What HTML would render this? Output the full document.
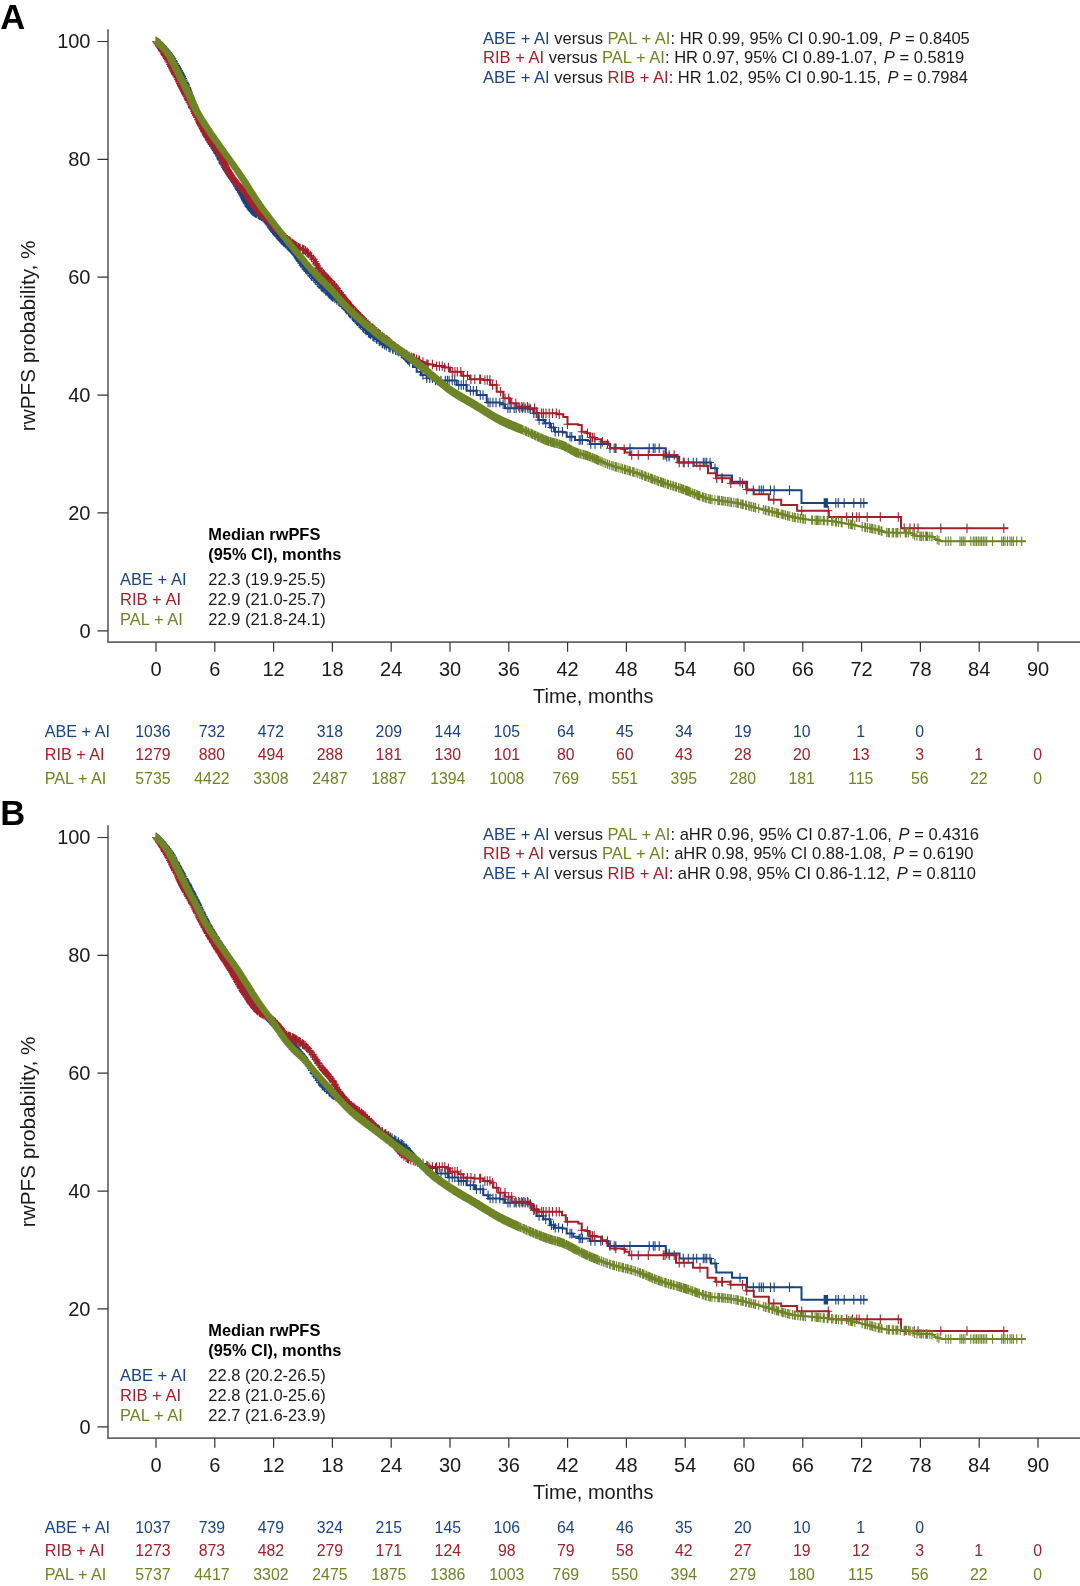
<!DOCTYPE html>
<html><head><meta charset="utf-8"><title>rwPFS Kaplan-Meier</title>
<style>html,body{margin:0;padding:0;background:#fff}svg{display:block;will-change:transform}text{font-family:"Liberation Sans",Arial,sans-serif}</style>
</head><body>
<svg width="1080" height="1586" viewBox="0 0 1080 1586">
<rect width="1080" height="1586" fill="#fff"/>
<g>
<path d="M108,29.2V642.17H1080" fill="none" stroke="#666" stroke-width="1.7"/>
<path d="M97.5,630.8H108M97.5,512.9H108M97.5,395.1H108M97.5,277.2H108M97.5,159.4H108M97.5,41.5H108M156.0,642V651.7M214.8,642V651.7M273.6,642V651.7M332.4,642V651.7M391.2,642V651.7M450.0,642V651.7M508.8,642V651.7M567.6,642V651.7M626.4,642V651.7M685.2,642V651.7M744.0,642V651.7M802.8,642V651.7M861.6,642V651.7M920.4,642V651.7M979.2,642V651.7M1038.0,642V651.7" fill="none" stroke="#333" stroke-width="1.2"/>
<text x="90.5" y="637.7" font-size="20" fill="#1a1a1a" text-anchor="end">0</text>
<text x="90.5" y="519.8" font-size="20" fill="#1a1a1a" text-anchor="end">20</text>
<text x="90.5" y="402.0" font-size="20" fill="#1a1a1a" text-anchor="end">40</text>
<text x="90.5" y="284.1" font-size="20" fill="#1a1a1a" text-anchor="end">60</text>
<text x="90.5" y="166.3" font-size="20" fill="#1a1a1a" text-anchor="end">80</text>
<text x="90.5" y="48.4" font-size="20" fill="#1a1a1a" text-anchor="end">100</text>
<text x="156.0" y="675.6" font-size="20" fill="#1a1a1a" text-anchor="middle">0</text>
<text x="214.8" y="675.6" font-size="20" fill="#1a1a1a" text-anchor="middle">6</text>
<text x="273.6" y="675.6" font-size="20" fill="#1a1a1a" text-anchor="middle">12</text>
<text x="332.4" y="675.6" font-size="20" fill="#1a1a1a" text-anchor="middle">18</text>
<text x="391.2" y="675.6" font-size="20" fill="#1a1a1a" text-anchor="middle">24</text>
<text x="450.0" y="675.6" font-size="20" fill="#1a1a1a" text-anchor="middle">30</text>
<text x="508.8" y="675.6" font-size="20" fill="#1a1a1a" text-anchor="middle">36</text>
<text x="567.6" y="675.6" font-size="20" fill="#1a1a1a" text-anchor="middle">42</text>
<text x="626.4" y="675.6" font-size="20" fill="#1a1a1a" text-anchor="middle">48</text>
<text x="685.2" y="675.6" font-size="20" fill="#1a1a1a" text-anchor="middle">54</text>
<text x="744.0" y="675.6" font-size="20" fill="#1a1a1a" text-anchor="middle">60</text>
<text x="802.8" y="675.6" font-size="20" fill="#1a1a1a" text-anchor="middle">66</text>
<text x="861.6" y="675.6" font-size="20" fill="#1a1a1a" text-anchor="middle">72</text>
<text x="920.4" y="675.6" font-size="20" fill="#1a1a1a" text-anchor="middle">78</text>
<text x="979.2" y="675.6" font-size="20" fill="#1a1a1a" text-anchor="middle">84</text>
<text x="1038.0" y="675.6" font-size="20" fill="#1a1a1a" text-anchor="middle">90</text>
<text x="593.3" y="703.3" font-size="20" fill="#1a1a1a" text-anchor="middle">Time, months</text>
<text transform="translate(35.3,335.9) rotate(-90)" font-size="20.7" fill="#1a1a1a" text-anchor="middle">rwPFS probability, %</text>
<text x="0.2" y="29.4" font-size="34.6" fill="#000" font-weight="bold">A</text>
<path d="M156.0,41.3L159.0,43.4L162.0,46.1L165.0,49.2L168.0,52.7L170.9,56.8L173.9,61.7L176.9,67.0L179.9,72.5L182.9,78.4L185.9,85.1L188.9,93.0L191.9,100.9L194.8,108.1L197.8,115.2L200.8,122.4L203.8,129.0L206.8,135.0L209.8,140.7L212.8,145.8L215.8,150.3L218.8,154.9L221.7,161.3L224.7,166.9L227.7,171.6L230.7,176.0L233.7,180.7L236.7,185.4L239.7,190.2L242.7,195.1L245.6,200.7L248.6,206.4L251.6,210.2L254.6,212.4L257.6,214.1L260.6,215.6L263.6,217.6L266.6,220.6L269.6,225.1L272.5,229.6L275.5,233.2L278.5,236.5L281.5,239.7L284.5,242.7L287.5,245.5L290.5,248.5L293.5,251.7L296.4,255.3L299.4,259.9L302.4,264.9L305.4,268.7L308.4,272.2L311.4,275.6L314.4,279.2L317.4,282.5L320.4,285.6L323.3,288.5L326.3,291.2L329.3,293.9L332.3,296.4L335.3,298.8L338.3,301.1L341.3,303.6L344.3,306.6L347.2,310.0L350.2,313.5L353.2,317.0L356.2,320.3L359.2,323.5L362.2,326.7L365.2,329.6L368.2,332.3L371.2,334.8L374.1,337.2L377.1,339.6L380.1,341.7L383.1,343.8L386.1,345.6L389.1,347.3L392.1,348.6L395.1,349.9L398.0,351.4L401.0,353.2L404.0,355.6L407.0,358.6L410.0,362.5H413.0V367.0H416.7V371.7H421.0V375.0H426.7V378.3H433.0V380.5H446.7H456.7V385.0H466.7V390.8H476.7V395.0H486.7V402.5H500.0V404.2H505.0V408.3H530.0V409.2H533.3V413.3H538.3V420.0H545.0V423.3H550.0V427.5H555.0V431.7H563.0V432.5H566.7V436.7H575.0V440.0H588.0V440.8H590.0V444.0H606.7H610.0V448.3H665.8V456.7H679.2V462.5H711.0V468.3H717.0V475.5H732.0V481.7H747.0V490.3H801.5V503.0H867.5" fill="none" stroke="#1B4380" stroke-width="2.0" stroke-linejoin="miter"/>
<path d="M156.4,36.9v9.4m-4.0,-4.7h8.0M157.6,37.7v9.4m-4.0,-4.7h8.0M158.7,38.5v9.4m-4.0,-4.7h8.0M159.1,38.8v9.4m-4.0,-4.7h8.0M159.3,38.9v9.4m-4.0,-4.7h8.0M159.9,39.5v9.4m-4.0,-4.7h8.0M160.4,40.0v9.4m-4.0,-4.7h8.0M161.7,41.1v9.4m-4.0,-4.7h8.0M162.7,42.1v9.4m-4.0,-4.7h8.0M163.6,43.0v9.4m-4.0,-4.7h8.0M164.4,43.9v9.4m-4.0,-4.7h8.0M165.3,44.9v9.4m-4.0,-4.7h8.0M165.6,45.3v9.4m-4.0,-4.7h8.0M166.3,46.0v9.4m-4.0,-4.7h8.0M166.6,46.4v9.4m-4.0,-4.7h8.0M167.8,47.8v9.4m-4.0,-4.7h8.0M168.0,48.0v9.4m-4.0,-4.7h8.0M169.0,49.4v9.4m-4.0,-4.7h8.0M169.2,49.7v9.4m-4.0,-4.7h8.0M170.0,50.8v9.4m-4.0,-4.7h8.0M170.5,51.5v9.4m-4.0,-4.7h8.0M171.0,52.3v9.4m-4.0,-4.7h8.0M171.9,53.7v9.4m-4.0,-4.7h8.0M172.0,53.9v9.4m-4.0,-4.7h8.0M172.2,54.2v9.4m-4.0,-4.7h8.0M173.2,55.8v9.4m-4.0,-4.7h8.0M173.7,56.7v9.4m-4.0,-4.7h8.0M173.9,57.0v9.4m-4.0,-4.7h8.0M174.9,58.8v9.4m-4.0,-4.7h8.0M175.8,60.4v9.4m-4.0,-4.7h8.0M176.0,60.8v9.4m-4.0,-4.7h8.0M176.5,61.6v9.4m-4.0,-4.7h8.0M176.7,62.0v9.4m-4.0,-4.7h8.0M177.1,62.7v9.4m-4.0,-4.7h8.0M177.7,63.8v9.4m-4.0,-4.7h8.0M178.0,64.3v9.4m-4.0,-4.7h8.0M178.7,65.5v9.4m-4.0,-4.7h8.0M178.8,65.8v9.4m-4.0,-4.7h8.0M179.1,66.3v9.4m-4.0,-4.7h8.0M179.9,67.7v9.4m-4.0,-4.7h8.0M180.3,68.5v9.4m-4.0,-4.7h8.0M180.7,69.4v9.4m-4.0,-4.7h8.0M181.3,70.5v9.4m-4.0,-4.7h8.0M181.8,71.5v9.4m-4.0,-4.7h8.0M182.2,72.3v9.4m-4.0,-4.7h8.0M182.3,72.5v9.4m-4.0,-4.7h8.0M183.0,73.9v9.4m-4.0,-4.7h8.0M183.7,75.6v9.4m-4.0,-4.7h8.0M184.5,77.4v9.4m-4.0,-4.7h8.0M185.1,78.7v9.4m-4.0,-4.7h8.0M185.4,79.4v9.4m-4.0,-4.7h8.0M185.8,80.2v9.4m-4.0,-4.7h8.0M186.3,81.5v9.4m-4.0,-4.7h8.0M186.8,82.9v9.4m-4.0,-4.7h8.0M187.0,83.3v9.4m-4.0,-4.7h8.0M187.2,83.8v9.4m-4.0,-4.7h8.0M187.5,84.7v9.4m-4.0,-4.7h8.0M187.9,85.7v9.4m-4.0,-4.7h8.0M188.5,87.2v9.4m-4.0,-4.7h8.0M188.9,88.3v9.4m-4.0,-4.7h8.0M188.9,88.5v9.4m-4.0,-4.7h8.0M189.5,90.1v9.4m-4.0,-4.7h8.0M189.9,91.0v9.4m-4.0,-4.7h8.0M190.3,92.1v9.4m-4.0,-4.7h8.0M190.5,92.6v9.4m-4.0,-4.7h8.0M190.8,93.5v9.4m-4.0,-4.7h8.0M191.2,94.4v9.4m-4.0,-4.7h8.0M191.7,95.9v9.4m-4.0,-4.7h8.0M191.9,96.2v9.4m-4.0,-4.7h8.0M192.3,97.3v9.4m-4.0,-4.7h8.0M192.5,97.8v9.4m-4.0,-4.7h8.0M193.1,99.2v9.4m-4.0,-4.7h8.0M193.2,99.4v9.4m-4.0,-4.7h8.0M193.5,100.1v9.4m-4.0,-4.7h8.0M193.8,100.8v9.4m-4.0,-4.7h8.0M194.3,102.1v9.4m-4.0,-4.7h8.0M194.4,102.4v9.4m-4.0,-4.7h8.0M194.8,103.3v9.4m-4.0,-4.7h8.0M195.0,103.8v9.4m-4.0,-4.7h8.0M195.3,104.5v9.4m-4.0,-4.7h8.0M195.7,105.5v9.4m-4.0,-4.7h8.0M196.5,107.2v9.4m-4.0,-4.7h8.0M196.9,108.2v9.4m-4.0,-4.7h8.0M197.6,110.0v9.4m-4.0,-4.7h8.0M197.8,110.5v9.4m-4.0,-4.7h8.0M198.5,112.2v9.4m-4.0,-4.7h8.0M198.9,113.0v9.4m-4.0,-4.7h8.0M199.1,113.5v9.4m-4.0,-4.7h8.0M199.7,114.9v9.4m-4.0,-4.7h8.0M200.4,116.6v9.4m-4.0,-4.7h8.0M200.5,116.8v9.4m-4.0,-4.7h8.0M200.7,117.4v9.4m-4.0,-4.7h8.0M201.4,118.9v9.4m-4.0,-4.7h8.0M201.7,119.6v9.4m-4.0,-4.7h8.0M202.0,120.2v9.4m-4.0,-4.7h8.0M202.1,120.4v9.4m-4.0,-4.7h8.0M202.2,120.7v9.4m-4.0,-4.7h8.0M202.7,121.9v9.4m-4.0,-4.7h8.0M203.5,123.7v9.4m-4.0,-4.7h8.0M204.4,125.4v9.4m-4.0,-4.7h8.0M204.9,126.4v9.4m-4.0,-4.7h8.0M205.0,126.7v9.4m-4.0,-4.7h8.0M205.3,127.4v9.4m-4.0,-4.7h8.0M206.0,128.8v9.4m-4.0,-4.7h8.0M206.8,130.3v9.4m-4.0,-4.7h8.0M207.4,131.5v9.4m-4.0,-4.7h8.0M207.7,132.1v9.4m-4.0,-4.7h8.0M208.3,133.1v9.4m-4.0,-4.7h8.0M208.7,134.0v9.4m-4.0,-4.7h8.0M209.4,135.2v9.4m-4.0,-4.7h8.0M209.7,135.8v9.4m-4.0,-4.7h8.0M210.6,137.4v9.4m-4.0,-4.7h8.0M211.5,139.0v9.4m-4.0,-4.7h8.0M211.8,139.4v9.4m-4.0,-4.7h8.0M212.1,140.0v9.4m-4.0,-4.7h8.0M213.1,141.5v9.4m-4.0,-4.7h8.0M213.5,142.1v9.4m-4.0,-4.7h8.0M214.5,143.7v9.4m-4.0,-4.7h8.0M215.1,144.6v9.4m-4.0,-4.7h8.0M215.9,145.8v9.4m-4.0,-4.7h8.0M216.7,147.0v9.4m-4.0,-4.7h8.0M217.1,147.5v9.4m-4.0,-4.7h8.0M217.4,148.2v9.4m-4.0,-4.7h8.0M217.8,148.7v9.4m-4.0,-4.7h8.0M218.6,149.9v9.4m-4.0,-4.7h8.0M219.2,151.2v9.4m-4.0,-4.7h8.0M219.4,151.6v9.4m-4.0,-4.7h8.0M220.2,153.2v9.4m-4.0,-4.7h8.0M220.6,154.1v9.4m-4.0,-4.7h8.0M220.9,154.7v9.4m-4.0,-4.7h8.0M221.3,155.6v9.4m-4.0,-4.7h8.0M222.1,157.3v9.4m-4.0,-4.7h8.0M222.7,158.4v9.4m-4.0,-4.7h8.0M223.3,159.5v9.4m-4.0,-4.7h8.0M224.2,161.2v9.4m-4.0,-4.7h8.0M225.1,162.8v9.4m-4.0,-4.7h8.0M226.0,164.1v9.4m-4.0,-4.7h8.0M226.5,164.9v9.4m-4.0,-4.7h8.0M227.2,166.0v9.4m-4.0,-4.7h8.0M228.1,167.5v9.4m-4.0,-4.7h8.0M229.0,168.8v9.4m-4.0,-4.7h8.0M229.7,169.9v9.4m-4.0,-4.7h8.0M230.2,170.6v9.4m-4.0,-4.7h8.0M230.7,171.3v9.4m-4.0,-4.7h8.0M231.5,172.6v9.4m-4.0,-4.7h8.0M232.2,173.6v9.4m-4.0,-4.7h8.0M232.3,173.8v9.4m-4.0,-4.7h8.0M233.1,175.0v9.4m-4.0,-4.7h8.0M234.1,176.5v9.4m-4.0,-4.7h8.0M234.9,177.9v9.4m-4.0,-4.7h8.0M235.9,179.4v9.4m-4.0,-4.7h8.0M236.9,181.0v9.4m-4.0,-4.7h8.0M237.5,182.0v9.4m-4.0,-4.7h8.0M238.3,183.3v9.4m-4.0,-4.7h8.0M238.8,184.1v9.4m-4.0,-4.7h8.0M239.0,184.4v9.4m-4.0,-4.7h8.0M239.5,185.1v9.4m-4.0,-4.7h8.0M239.9,185.8v9.4m-4.0,-4.7h8.0M240.8,187.4v9.4m-4.0,-4.7h8.0M241.6,188.6v9.4m-4.0,-4.7h8.0M242.2,189.6v9.4m-4.0,-4.7h8.0M242.9,190.7v9.4m-4.0,-4.7h8.0M243.1,191.1v9.4m-4.0,-4.7h8.0M243.6,192.2v9.4m-4.0,-4.7h8.0M244.3,193.4v9.4m-4.0,-4.7h8.0M244.7,194.2v9.4m-4.0,-4.7h8.0M245.0,194.8v9.4m-4.0,-4.7h8.0M245.4,195.7v9.4m-4.0,-4.7h8.0M245.8,196.4v9.4m-4.0,-4.7h8.0M246.5,197.6v9.4m-4.0,-4.7h8.0M246.7,198.0v9.4m-4.0,-4.7h8.0M246.9,198.4v9.4m-4.0,-4.7h8.0M247.2,199.0v9.4m-4.0,-4.7h8.0M247.9,200.3v9.4m-4.0,-4.7h8.0M248.6,201.7v9.4m-4.0,-4.7h8.0M249.5,202.8v9.4m-4.0,-4.7h8.0M250.6,204.2v9.4m-4.0,-4.7h8.0M251.2,204.9v9.4m-4.0,-4.7h8.0M251.3,205.1v9.4m-4.0,-4.7h8.0M252.1,205.9v9.4m-4.0,-4.7h8.0M252.9,206.5v9.4m-4.0,-4.7h8.0M253.4,206.8v9.4m-4.0,-4.7h8.0M254.5,207.6v9.4m-4.0,-4.7h8.0M255.2,208.0v9.4m-4.0,-4.7h8.0M255.7,208.4v9.4m-4.0,-4.7h8.0M256.4,208.7v9.4m-4.0,-4.7h8.0M258.1,209.6v9.4m-4.0,-4.7h8.0M258.3,209.7v9.4m-4.0,-4.7h8.0M259.1,210.1v9.4m-4.0,-4.7h8.0M259.7,210.5v9.4m-4.0,-4.7h8.0M260.2,210.7v9.4m-4.0,-4.7h8.0M261.0,211.2v9.4m-4.0,-4.7h8.0M261.6,211.6v9.4m-4.0,-4.7h8.0M263.1,212.6v9.4m-4.0,-4.7h8.0M263.9,213.2v9.4m-4.0,-4.7h8.0M265.0,214.3v9.4m-4.0,-4.7h8.0M265.3,214.6v9.4m-4.0,-4.7h8.0M266.0,215.4v9.4m-4.0,-4.7h8.0M266.9,216.4v9.4m-4.0,-4.7h8.0M267.8,217.8v9.4m-4.0,-4.7h8.0M268.2,218.3v9.4m-4.0,-4.7h8.0M268.7,219.2v9.4m-4.0,-4.7h8.0M269.7,220.6v9.4m-4.0,-4.7h8.0M270.6,222.0v9.4m-4.0,-4.7h8.0M271.0,222.5v9.4m-4.0,-4.7h8.0M271.6,223.5v9.4m-4.0,-4.7h8.0M272.5,224.8v9.4m-4.0,-4.7h8.0M273.1,225.5v9.4m-4.0,-4.7h8.0M274.0,226.6v9.4m-4.0,-4.7h8.0M274.8,227.7v9.4m-4.0,-4.7h8.0M276.1,229.1v9.4m-4.0,-4.7h8.0M276.9,230.0v9.4m-4.0,-4.7h8.0M277.9,231.1v9.4m-4.0,-4.7h8.0M278.4,231.7v9.4m-4.0,-4.7h8.0M279.4,232.8v9.4m-4.0,-4.7h8.0M280.0,233.4v9.4m-4.0,-4.7h8.0M280.7,234.2v9.4m-4.0,-4.7h8.0M281.3,234.8v9.4m-4.0,-4.7h8.0M281.9,235.3v9.4m-4.0,-4.7h8.0M282.2,235.7v9.4m-4.0,-4.7h8.0M282.6,236.1v9.4m-4.0,-4.7h8.0M283.5,236.9v9.4m-4.0,-4.7h8.0M283.9,237.4v9.4m-4.0,-4.7h8.0M284.1,237.6v9.4m-4.0,-4.7h8.0M285.3,238.7v9.4m-4.0,-4.7h8.0M285.8,239.2v9.4m-4.0,-4.7h8.0M287.2,240.5v9.4m-4.0,-4.7h8.0M288.1,241.4v9.4m-4.0,-4.7h8.0M288.7,242.1v9.4m-4.0,-4.7h8.0M290.0,243.3v9.4m-4.0,-4.7h8.0M291.2,244.6v9.4m-4.0,-4.7h8.0M291.8,245.2v9.4m-4.0,-4.7h8.0M292.1,245.5v9.4m-4.0,-4.7h8.0M293.0,246.5v9.4m-4.0,-4.7h8.0M294.1,247.8v9.4m-4.0,-4.7h8.0M294.9,248.8v9.4m-4.0,-4.7h8.0M296.0,250.0v9.4m-4.0,-4.7h8.0M296.5,250.7v9.4m-4.0,-4.7h8.0M297.3,251.8v9.4m-4.0,-4.7h8.0M297.6,252.4v9.4m-4.0,-4.7h8.0M298.1,253.2v9.4m-4.0,-4.7h8.0M298.6,253.9v9.4m-4.0,-4.7h8.0M299.1,254.7v9.4m-4.0,-4.7h8.0M299.6,255.5v9.4m-4.0,-4.7h8.0M300.3,256.7v9.4m-4.0,-4.7h8.0M301.4,258.4v9.4m-4.0,-4.7h8.0M302.7,260.5v9.4m-4.0,-4.7h8.0M303.8,261.9v9.4m-4.0,-4.7h8.0M304.3,262.6v9.4m-4.0,-4.7h8.0M305.5,264.1v9.4m-4.0,-4.7h8.0M306.4,265.1v9.4m-4.0,-4.7h8.0M307.9,266.8v9.4m-4.0,-4.7h8.0M309.4,268.6v9.4m-4.0,-4.7h8.0M311.2,270.8v9.4m-4.0,-4.7h8.0M311.6,271.2v9.4m-4.0,-4.7h8.0M311.9,271.6v9.4m-4.0,-4.7h8.0M313.8,273.7v9.4m-4.0,-4.7h8.0M315.3,275.5v9.4m-4.0,-4.7h8.0M317.3,277.8v9.4m-4.0,-4.7h8.0M319.1,279.6v9.4m-4.0,-4.7h8.0M321.2,281.7v9.4m-4.0,-4.7h8.0M321.7,282.2v9.4m-4.0,-4.7h8.0M322.3,282.8v9.4m-4.0,-4.7h8.0M323.8,284.2v9.4m-4.0,-4.7h8.0M325.6,285.8v9.4m-4.0,-4.7h8.0M326.0,286.3v9.4m-4.0,-4.7h8.0M328.2,288.2v9.4m-4.0,-4.7h8.0M328.9,288.8v9.4m-4.0,-4.7h8.0M329.6,289.4v9.4m-4.0,-4.7h8.0M330.8,290.4v9.4m-4.0,-4.7h8.0M331.4,291.0v9.4m-4.0,-4.7h8.0M331.9,291.3v9.4m-4.0,-4.7h8.0M332.3,291.7v9.4m-4.0,-4.7h8.0M332.6,292.0v9.4m-4.0,-4.7h8.0M333.2,292.4v9.4m-4.0,-4.7h8.0M334.9,293.8v9.4m-4.0,-4.7h8.0M336.8,295.3v9.4m-4.0,-4.7h8.0M338.8,296.8v9.4m-4.0,-4.7h8.0M339.9,297.8v9.4m-4.0,-4.7h8.0M341.7,299.3v9.4m-4.0,-4.7h8.0M342.2,299.8v9.4m-4.0,-4.7h8.0M344.1,301.7v9.4m-4.0,-4.7h8.0M345.1,302.8v9.4m-4.0,-4.7h8.0M345.5,303.3v9.4m-4.0,-4.7h8.0M346.4,304.3v9.4m-4.0,-4.7h8.0M347.0,305.0v9.4m-4.0,-4.7h8.0M348.5,306.8v9.4m-4.0,-4.7h8.0M349.4,307.8v9.4m-4.0,-4.7h8.0M349.6,308.1v9.4m-4.0,-4.7h8.0M350.2,308.8v9.4m-4.0,-4.7h8.0M350.5,309.2v9.4m-4.0,-4.7h8.0M352.4,311.4v9.4m-4.0,-4.7h8.0M353.4,312.5v9.4m-4.0,-4.7h8.0M355.1,314.3v9.4m-4.0,-4.7h8.0M356.4,315.8v9.4m-4.0,-4.7h8.0M357.4,316.9v9.4m-4.0,-4.7h8.0M359.0,318.6v9.4m-4.0,-4.7h8.0M360.2,319.9v9.4m-4.0,-4.7h8.0M360.5,320.2v9.4m-4.0,-4.7h8.0M362.7,322.4v9.4m-4.0,-4.7h8.0M363.6,323.3v9.4m-4.0,-4.7h8.0M365.1,324.8v9.4m-4.0,-4.7h8.0M366.2,325.8v9.4m-4.0,-4.7h8.0M368.4,327.8v9.4m-4.0,-4.7h8.0M369.0,328.3v9.4m-4.0,-4.7h8.0M369.4,328.6v9.4m-4.0,-4.7h8.0M369.7,328.9v9.4m-4.0,-4.7h8.0M370.8,329.8v9.4m-4.0,-4.7h8.0M372.9,331.5v9.4m-4.0,-4.7h8.0M374.1,332.5v9.4m-4.0,-4.7h8.0M376.3,334.2v9.4m-4.0,-4.7h8.0M376.9,334.7v9.4m-4.0,-4.7h8.0M379.3,336.4v9.4m-4.0,-4.7h8.0M379.9,336.9v9.4m-4.0,-4.7h8.0M382.2,338.5v9.4m-4.0,-4.7h8.0M382.9,339.0v9.4m-4.0,-4.7h8.0M384.6,340.0v9.4m-4.0,-4.7h8.0M386.3,341.0v9.4m-4.0,-4.7h8.0M388.9,342.5v9.4m-4.0,-4.7h8.0M390.2,343.1v9.4m-4.0,-4.7h8.0M392.6,344.1v9.4m-4.0,-4.7h8.0M393.1,344.3v9.4m-4.0,-4.7h8.0M395.6,345.5v9.4m-4.0,-4.7h8.0M397.2,346.2v9.4m-4.0,-4.7h8.0M398.8,347.1v9.4m-4.0,-4.7h8.0M401.3,348.7v9.4m-4.0,-4.7h8.0M402.2,349.4v9.4m-4.0,-4.7h8.0M403.8,350.7v9.4m-4.0,-4.7h8.0M405.2,352.0v9.4m-4.0,-4.7h8.0M406.0,352.9v9.4m-4.0,-4.7h8.0M406.5,353.4v9.4m-4.0,-4.7h8.0M407.5,354.5v9.4m-4.0,-4.7h8.0M408.2,355.4v9.4m-4.0,-4.7h8.0M409.4,357.0v9.4m-4.0,-4.7h8.0M420.9,367.0v9.4m-4.0,-4.7h8.0M422.9,370.3v9.4m-4.0,-4.7h8.0M426.7,373.6v9.4m-4.0,-4.7h8.0M429.8,373.6v9.4m-4.0,-4.7h8.0M432.4,373.6v9.4m-4.0,-4.7h8.0M435.5,375.8v9.4m-4.0,-4.7h8.0M437.6,375.8v9.4m-4.0,-4.7h8.0M441.0,375.8v9.4m-4.0,-4.7h8.0M445.3,375.8v9.4m-4.0,-4.7h8.0M447.4,375.8v9.4m-4.0,-4.7h8.0M449.1,375.8v9.4m-4.0,-4.7h8.0M452.2,375.8v9.4m-4.0,-4.7h8.0M454.7,375.8v9.4m-4.0,-4.7h8.0M458.7,380.3v9.4m-4.0,-4.7h8.0M461.2,380.3v9.4m-4.0,-4.7h8.0M463.5,380.3v9.4m-4.0,-4.7h8.0M466.2,380.3v9.4m-4.0,-4.7h8.0M470.4,386.1v9.4m-4.0,-4.7h8.0M473.3,386.1v9.4m-4.0,-4.7h8.0M476.5,386.1v9.4m-4.0,-4.7h8.0M480.3,390.3v9.4m-4.0,-4.7h8.0M483.0,390.3v9.4m-4.0,-4.7h8.0M488.1,397.8v9.4m-4.0,-4.7h8.0M490.1,397.8v9.4m-4.0,-4.7h8.0M492.9,397.8v9.4m-4.0,-4.7h8.0M496.0,397.8v9.4m-4.0,-4.7h8.0M499.8,397.8v9.4m-4.0,-4.7h8.0M503.1,399.5v9.4m-4.0,-4.7h8.0M507.9,403.6v9.4m-4.0,-4.7h8.0M510.1,403.6v9.4m-4.0,-4.7h8.0M514.2,403.6v9.4m-4.0,-4.7h8.0M516.2,403.6v9.4m-4.0,-4.7h8.0M519.8,403.6v9.4m-4.0,-4.7h8.0M522.6,403.6v9.4m-4.0,-4.7h8.0M525.2,403.6v9.4m-4.0,-4.7h8.0M528.0,403.6v9.4m-4.0,-4.7h8.0M530.4,404.5v9.4m-4.0,-4.7h8.0M533.8,408.6v9.4m-4.0,-4.7h8.0M536.2,408.6v9.4m-4.0,-4.7h8.0M539.1,415.3v9.4m-4.0,-4.7h8.0M543.1,415.3v9.4m-4.0,-4.7h8.0M545.7,418.6v9.4m-4.0,-4.7h8.0M549.3,418.6v9.4m-4.0,-4.7h8.0M551.4,422.8v9.4m-4.0,-4.7h8.0M553.5,422.8v9.4m-4.0,-4.7h8.0M555.2,427.0v9.4m-4.0,-4.7h8.0M558.6,427.0v9.4m-4.0,-4.7h8.0M562.5,427.0v9.4m-4.0,-4.7h8.0M570.0,432.0v9.4m-4.0,-4.7h8.0M571.7,432.0v9.4m-4.0,-4.7h8.0M579.2,435.3v9.4m-4.0,-4.7h8.0M580.8,435.3v9.4m-4.0,-4.7h8.0M582.5,435.3v9.4m-4.0,-4.7h8.0M590.8,439.3v9.4m-4.0,-4.7h8.0M595.0,439.3v9.4m-4.0,-4.7h8.0M600.8,439.3v9.4m-4.0,-4.7h8.0M607.5,439.3v9.4m-4.0,-4.7h8.0M610.0,443.6v9.4m-4.0,-4.7h8.0M614.2,443.6v9.4m-4.0,-4.7h8.0M615.8,443.6v9.4m-4.0,-4.7h8.0M630.0,443.6v9.4m-4.0,-4.7h8.0M649.2,443.6v9.4m-4.0,-4.7h8.0M653.3,443.6v9.4m-4.0,-4.7h8.0M655.0,443.6v9.4m-4.0,-4.7h8.0M659.2,443.6v9.4m-4.0,-4.7h8.0M666.7,452.0v9.4m-4.0,-4.7h8.0M669.2,452.0v9.4m-4.0,-4.7h8.0M683.3,457.8v9.4m-4.0,-4.7h8.0M688.3,457.8v9.4m-4.0,-4.7h8.0M693.3,457.8v9.4m-4.0,-4.7h8.0M696.7,457.8v9.4m-4.0,-4.7h8.0M703.3,457.8v9.4m-4.0,-4.7h8.0M705.0,457.8v9.4m-4.0,-4.7h8.0M706.7,457.8v9.4m-4.0,-4.7h8.0M710.0,457.8v9.4m-4.0,-4.7h8.0M715.0,463.6v9.4m-4.0,-4.7h8.0M740.0,477.0v9.4m-4.0,-4.7h8.0M753.3,485.6v9.4m-4.0,-4.7h8.0M759.2,485.6v9.4m-4.0,-4.7h8.0M761.3,485.6v9.4m-4.0,-4.7h8.0M763.3,485.6v9.4m-4.0,-4.7h8.0M770.5,485.6v9.4m-4.0,-4.7h8.0M774.2,485.6v9.4m-4.0,-4.7h8.0M789.5,485.6v9.4m-4.0,-4.7h8.0M824.2,498.3v9.4m-4.0,-4.7h8.0M825.3,498.3v9.4m-4.0,-4.7h8.0M826.4,498.3v9.4m-4.0,-4.7h8.0M827.5,498.3v9.4m-4.0,-4.7h8.0M835.8,498.3v9.4m-4.0,-4.7h8.0M838.3,498.3v9.4m-4.0,-4.7h8.0M844.2,498.3v9.4m-4.0,-4.7h8.0M853.8,498.3v9.4m-4.0,-4.7h8.0M860.8,498.3v9.4m-4.0,-4.7h8.0M863.8,498.3v9.4m-4.0,-4.7h8.0" fill="none" stroke="#1B4380" stroke-width="1.1"/>
<path d="M156.0,41.3L159.0,45.5L162.0,50.1L165.0,54.9L168.0,60.2L170.9,65.9L173.9,71.6L176.9,77.3L179.9,83.0L182.9,88.8L185.9,94.7L188.9,100.7L191.9,106.7L194.9,112.8L197.8,118.9L200.8,124.8L203.8,130.4L206.8,135.7L209.8,140.7L212.8,145.0L215.8,148.4L218.8,152.0L221.8,157.6L224.7,164.7L227.7,170.4L230.7,175.3L233.7,179.5L236.7,183.1L239.7,186.5L242.7,189.9L245.7,193.6L248.7,197.9L251.6,202.8L254.6,207.5L257.6,211.0L260.6,213.7L263.6,216.2L266.6,218.9L269.6,222.0L272.6,225.3L275.6,228.5L278.5,231.5L281.5,234.3L284.5,237.0L287.5,239.6L290.5,242.1L293.5,244.4L296.5,246.5L299.5,248.2L302.5,249.1L305.5,250.8L308.4,253.5L311.4,256.8L314.4,260.5L317.4,266.2L320.4,270.8L323.4,274.2L326.4,277.2L329.4,280.2L332.4,283.2L335.3,286.6L338.3,290.5L341.3,294.6L344.3,298.6L347.3,302.3L350.3,305.8L353.3,309.1L356.3,312.4L359.3,315.6L362.2,318.6L365.2,321.6L368.2,324.4L371.2,327.1L374.2,329.7L377.2,332.2L380.2,334.6L383.2,337.1L386.2,339.5L389.1,341.9L392.1,344.4L395.1,346.9L398.1,349.2L401.1,351.2L404.1,353.2L407.1,354.9L410.1,356.5L413.1,357.9L416.0,359.1L419.0,360.3L422.0,361.4L425.0,362.8L428.0,364.5H433.3V366.1H444.4V367.5H450.0V371.7H461.7V375.8H470.0V379.2H483.3V380.0H490.0V385.0H496.7V391.7H503.3V398.3H510.0V403.3H516.7V406.7H530.0V408.3H536.7V413.3H556.7V414.2H563.3V417.0H567.5V424.2H578.3V425.0H581.7V431.7H586.7V433.3H590.0V437.5H595.0V439.2H601.7V441.7H608.3V445.0H610.0V448.3H623.3V449.2H625.0V452.5H630.0V455.0H677.5V462.5H693.6V465.8H708.0V473.3H716.0V478.3H730.4V483.3H746.2V489.5H753.8V494.2H768.8V499.7H781.2V505.0H797.1V510.8H828.8V517.0H901.0V528.3H1008.3" fill="none" stroke="#A3212B" stroke-width="2.0" stroke-linejoin="miter"/>
<path d="M156.2,36.8v9.4m-4.0,-4.7h8.0M157.0,38.0v9.4m-4.0,-4.7h8.0M157.8,39.2v9.4m-4.0,-4.7h8.0M158.8,40.6v9.4m-4.0,-4.7h8.0M159.1,41.0v9.4m-4.0,-4.7h8.0M159.5,41.5v9.4m-4.0,-4.7h8.0M159.7,41.9v9.4m-4.0,-4.7h8.0M160.1,42.5v9.4m-4.0,-4.7h8.0M160.9,43.7v9.4m-4.0,-4.7h8.0M161.1,44.1v9.4m-4.0,-4.7h8.0M161.8,45.1v9.4m-4.0,-4.7h8.0M162.1,45.6v9.4m-4.0,-4.7h8.0M162.5,46.2v9.4m-4.0,-4.7h8.0M163.0,47.0v9.4m-4.0,-4.7h8.0M163.9,48.5v9.4m-4.0,-4.7h8.0M164.5,49.6v9.4m-4.0,-4.7h8.0M164.7,49.8v9.4m-4.0,-4.7h8.0M165.0,50.4v9.4m-4.0,-4.7h8.0M165.3,50.8v9.4m-4.0,-4.7h8.0M166.1,52.3v9.4m-4.0,-4.7h8.0M167.0,53.7v9.4m-4.0,-4.7h8.0M167.8,55.2v9.4m-4.0,-4.7h8.0M168.6,56.6v9.4m-4.0,-4.7h8.0M169.3,58.0v9.4m-4.0,-4.7h8.0M170.2,59.7v9.4m-4.0,-4.7h8.0M170.9,61.1v9.4m-4.0,-4.7h8.0M171.2,61.7v9.4m-4.0,-4.7h8.0M172.0,63.2v9.4m-4.0,-4.7h8.0M172.5,64.2v9.4m-4.0,-4.7h8.0M173.2,65.5v9.4m-4.0,-4.7h8.0M173.8,66.6v9.4m-4.0,-4.7h8.0M174.3,67.5v9.4m-4.0,-4.7h8.0M174.7,68.2v9.4m-4.0,-4.7h8.0M175.1,69.1v9.4m-4.0,-4.7h8.0M175.5,69.8v9.4m-4.0,-4.7h8.0M175.7,70.2v9.4m-4.0,-4.7h8.0M176.4,71.6v9.4m-4.0,-4.7h8.0M177.2,73.1v9.4m-4.0,-4.7h8.0M178.1,74.8v9.4m-4.0,-4.7h8.0M178.8,76.1v9.4m-4.0,-4.7h8.0M179.3,77.2v9.4m-4.0,-4.7h8.0M180.0,78.5v9.4m-4.0,-4.7h8.0M180.2,78.9v9.4m-4.0,-4.7h8.0M180.9,80.2v9.4m-4.0,-4.7h8.0M181.3,81.1v9.4m-4.0,-4.7h8.0M181.6,81.5v9.4m-4.0,-4.7h8.0M181.8,82.1v9.4m-4.0,-4.7h8.0M182.3,83.1v9.4m-4.0,-4.7h8.0M182.7,83.7v9.4m-4.0,-4.7h8.0M183.1,84.6v9.4m-4.0,-4.7h8.0M183.7,85.7v9.4m-4.0,-4.7h8.0M184.1,86.5v9.4m-4.0,-4.7h8.0M184.3,86.9v9.4m-4.0,-4.7h8.0M184.8,87.9v9.4m-4.0,-4.7h8.0M185.1,88.5v9.4m-4.0,-4.7h8.0M185.4,89.0v9.4m-4.0,-4.7h8.0M185.6,89.5v9.4m-4.0,-4.7h8.0M186.0,90.3v9.4m-4.0,-4.7h8.0M186.2,90.6v9.4m-4.0,-4.7h8.0M186.8,91.9v9.4m-4.0,-4.7h8.0M187.6,93.6v9.4m-4.0,-4.7h8.0M188.0,94.4v9.4m-4.0,-4.7h8.0M188.7,95.7v9.4m-4.0,-4.7h8.0M189.5,97.4v9.4m-4.0,-4.7h8.0M189.7,97.6v9.4m-4.0,-4.7h8.0M189.9,98.0v9.4m-4.0,-4.7h8.0M190.6,99.5v9.4m-4.0,-4.7h8.0M191.4,101.0v9.4m-4.0,-4.7h8.0M192.0,102.2v9.4m-4.0,-4.7h8.0M192.2,102.7v9.4m-4.0,-4.7h8.0M192.6,103.5v9.4m-4.0,-4.7h8.0M193.4,105.1v9.4m-4.0,-4.7h8.0M194.2,106.7v9.4m-4.0,-4.7h8.0M194.9,108.2v9.4m-4.0,-4.7h8.0M195.1,108.7v9.4m-4.0,-4.7h8.0M195.9,110.2v9.4m-4.0,-4.7h8.0M196.3,111.0v9.4m-4.0,-4.7h8.0M196.9,112.3v9.4m-4.0,-4.7h8.0M197.1,112.8v9.4m-4.0,-4.7h8.0M198.0,114.5v9.4m-4.0,-4.7h8.0M198.6,115.6v9.4m-4.0,-4.7h8.0M199.2,117.0v9.4m-4.0,-4.7h8.0M199.5,117.5v9.4m-4.0,-4.7h8.0M200.1,118.7v9.4m-4.0,-4.7h8.0M200.7,119.8v9.4m-4.0,-4.7h8.0M201.2,120.9v9.4m-4.0,-4.7h8.0M201.7,121.6v9.4m-4.0,-4.7h8.0M202.4,123.0v9.4m-4.0,-4.7h8.0M202.8,123.7v9.4m-4.0,-4.7h8.0M203.1,124.3v9.4m-4.0,-4.7h8.0M203.3,124.8v9.4m-4.0,-4.7h8.0M204.0,126.0v9.4m-4.0,-4.7h8.0M204.2,126.4v9.4m-4.0,-4.7h8.0M204.5,126.9v9.4m-4.0,-4.7h8.0M204.7,127.2v9.4m-4.0,-4.7h8.0M205.4,128.4v9.4m-4.0,-4.7h8.0M205.9,129.5v9.4m-4.0,-4.7h8.0M206.5,130.5v9.4m-4.0,-4.7h8.0M206.6,130.7v9.4m-4.0,-4.7h8.0M207.1,131.6v9.4m-4.0,-4.7h8.0M207.6,132.3v9.4m-4.0,-4.7h8.0M207.8,132.6v9.4m-4.0,-4.7h8.0M207.9,132.8v9.4m-4.0,-4.7h8.0M208.9,134.5v9.4m-4.0,-4.7h8.0M209.1,134.9v9.4m-4.0,-4.7h8.0M209.5,135.5v9.4m-4.0,-4.7h8.0M209.9,136.1v9.4m-4.0,-4.7h8.0M210.6,137.2v9.4m-4.0,-4.7h8.0M210.8,137.5v9.4m-4.0,-4.7h8.0M211.4,138.3v9.4m-4.0,-4.7h8.0M211.9,139.0v9.4m-4.0,-4.7h8.0M212.9,140.4v9.4m-4.0,-4.7h8.0M213.0,140.6v9.4m-4.0,-4.7h8.0M213.6,141.2v9.4m-4.0,-4.7h8.0M214.3,142.0v9.4m-4.0,-4.7h8.0M215.6,143.4v9.4m-4.0,-4.7h8.0M216.3,144.3v9.4m-4.0,-4.7h8.0M217.0,145.1v9.4m-4.0,-4.7h8.0M217.9,146.2v9.4m-4.0,-4.7h8.0M218.3,146.8v9.4m-4.0,-4.7h8.0M218.5,147.0v9.4m-4.0,-4.7h8.0M219.1,147.9v9.4m-4.0,-4.7h8.0M220.0,149.5v9.4m-4.0,-4.7h8.0M220.7,150.9v9.4m-4.0,-4.7h8.0M221.0,151.4v9.4m-4.0,-4.7h8.0M221.7,152.7v9.4m-4.0,-4.7h8.0M222.3,154.3v9.4m-4.0,-4.7h8.0M222.6,154.9v9.4m-4.0,-4.7h8.0M223.1,156.1v9.4m-4.0,-4.7h8.0M223.4,156.8v9.4m-4.0,-4.7h8.0M223.7,157.4v9.4m-4.0,-4.7h8.0M224.0,158.1v9.4m-4.0,-4.7h8.0M224.2,158.6v9.4m-4.0,-4.7h8.0M224.5,159.4v9.4m-4.0,-4.7h8.0M224.6,159.7v9.4m-4.0,-4.7h8.0M225.0,160.5v9.4m-4.0,-4.7h8.0M225.2,160.8v9.4m-4.0,-4.7h8.0M225.9,162.2v9.4m-4.0,-4.7h8.0M226.5,163.3v9.4m-4.0,-4.7h8.0M226.6,163.5v9.4m-4.0,-4.7h8.0M227.3,164.9v9.4m-4.0,-4.7h8.0M227.6,165.4v9.4m-4.0,-4.7h8.0M228.1,166.3v9.4m-4.0,-4.7h8.0M228.8,167.4v9.4m-4.0,-4.7h8.0M229.2,168.1v9.4m-4.0,-4.7h8.0M229.6,168.7v9.4m-4.0,-4.7h8.0M230.1,169.5v9.4m-4.0,-4.7h8.0M230.3,169.9v9.4m-4.0,-4.7h8.0M231.3,171.4v9.4m-4.0,-4.7h8.0M231.5,171.7v9.4m-4.0,-4.7h8.0M232.5,173.1v9.4m-4.0,-4.7h8.0M232.8,173.6v9.4m-4.0,-4.7h8.0M233.3,174.2v9.4m-4.0,-4.7h8.0M233.8,174.9v9.4m-4.0,-4.7h8.0M234.0,175.1v9.4m-4.0,-4.7h8.0M234.3,175.5v9.4m-4.0,-4.7h8.0M234.8,176.1v9.4m-4.0,-4.7h8.0M235.4,176.9v9.4m-4.0,-4.7h8.0M236.6,178.3v9.4m-4.0,-4.7h8.0M237.9,179.7v9.4m-4.0,-4.7h8.0M238.0,180.0v9.4m-4.0,-4.7h8.0M238.8,180.8v9.4m-4.0,-4.7h8.0M239.1,181.2v9.4m-4.0,-4.7h8.0M240.2,182.4v9.4m-4.0,-4.7h8.0M240.7,183.0v9.4m-4.0,-4.7h8.0M241.9,184.3v9.4m-4.0,-4.7h8.0M242.7,185.2v9.4m-4.0,-4.7h8.0M243.0,185.5v9.4m-4.0,-4.7h8.0M243.1,185.7v9.4m-4.0,-4.7h8.0M243.5,186.2v9.4m-4.0,-4.7h8.0M244.6,187.6v9.4m-4.0,-4.7h8.0M244.9,188.0v9.4m-4.0,-4.7h8.0M245.6,188.8v9.4m-4.0,-4.7h8.0M246.1,189.5v9.4m-4.0,-4.7h8.0M246.6,190.2v9.4m-4.0,-4.7h8.0M247.5,191.5v9.4m-4.0,-4.7h8.0M247.8,192.0v9.4m-4.0,-4.7h8.0M248.7,193.2v9.4m-4.0,-4.7h8.0M249.4,194.4v9.4m-4.0,-4.7h8.0M250.4,196.0v9.4m-4.0,-4.7h8.0M251.0,197.0v9.4m-4.0,-4.7h8.0M251.9,198.6v9.4m-4.0,-4.7h8.0M252.5,199.4v9.4m-4.0,-4.7h8.0M253.1,200.4v9.4m-4.0,-4.7h8.0M253.8,201.5v9.4m-4.0,-4.7h8.0M254.8,202.9v9.4m-4.0,-4.7h8.0M255.9,204.3v9.4m-4.0,-4.7h8.0M256.2,204.6v9.4m-4.0,-4.7h8.0M256.5,205.0v9.4m-4.0,-4.7h8.0M257.3,205.9v9.4m-4.0,-4.7h8.0M258.4,207.0v9.4m-4.0,-4.7h8.0M259.3,207.8v9.4m-4.0,-4.7h8.0M259.8,208.3v9.4m-4.0,-4.7h8.0M261.3,209.6v9.4m-4.0,-4.7h8.0M261.9,210.1v9.4m-4.0,-4.7h8.0M262.1,210.3v9.4m-4.0,-4.7h8.0M262.4,210.5v9.4m-4.0,-4.7h8.0M262.6,210.7v9.4m-4.0,-4.7h8.0M263.7,211.6v9.4m-4.0,-4.7h8.0M264.0,211.9v9.4m-4.0,-4.7h8.0M265.1,212.9v9.4m-4.0,-4.7h8.0M266.4,214.1v9.4m-4.0,-4.7h8.0M267.8,215.5v9.4m-4.0,-4.7h8.0M269.0,216.7v9.4m-4.0,-4.7h8.0M269.6,217.4v9.4m-4.0,-4.7h8.0M270.5,218.3v9.4m-4.0,-4.7h8.0M271.6,219.6v9.4m-4.0,-4.7h8.0M272.6,220.7v9.4m-4.0,-4.7h8.0M273.1,221.2v9.4m-4.0,-4.7h8.0M274.2,222.4v9.4m-4.0,-4.7h8.0M274.5,222.7v9.4m-4.0,-4.7h8.0M275.0,223.2v9.4m-4.0,-4.7h8.0M276.4,224.6v9.4m-4.0,-4.7h8.0M277.1,225.4v9.4m-4.0,-4.7h8.0M277.6,225.9v9.4m-4.0,-4.7h8.0M278.7,227.0v9.4m-4.0,-4.7h8.0M279.5,227.7v9.4m-4.0,-4.7h8.0M279.7,227.8v9.4m-4.0,-4.7h8.0M279.9,228.0v9.4m-4.0,-4.7h8.0M280.3,228.5v9.4m-4.0,-4.7h8.0M280.9,229.0v9.4m-4.0,-4.7h8.0M282.3,230.3v9.4m-4.0,-4.7h8.0M282.8,230.7v9.4m-4.0,-4.7h8.0M284.1,231.9v9.4m-4.0,-4.7h8.0M285.4,233.0v9.4m-4.0,-4.7h8.0M286.1,233.7v9.4m-4.0,-4.7h8.0M287.5,235.0v9.4m-4.0,-4.7h8.0M288.7,236.0v9.4m-4.0,-4.7h8.0M289.6,236.6v9.4m-4.0,-4.7h8.0M290.1,237.1v9.4m-4.0,-4.7h8.0M290.9,237.7v9.4m-4.0,-4.7h8.0M292.3,238.8v9.4m-4.0,-4.7h8.0M293.3,239.5v9.4m-4.0,-4.7h8.0M293.7,239.8v9.4m-4.0,-4.7h8.0M294.4,240.4v9.4m-4.0,-4.7h8.0M295.3,241.0v9.4m-4.0,-4.7h8.0M295.8,241.3v9.4m-4.0,-4.7h8.0M296.8,242.0v9.4m-4.0,-4.7h8.0M297.0,242.1v9.4m-4.0,-4.7h8.0M298.5,242.9v9.4m-4.0,-4.7h8.0M298.9,243.2v9.4m-4.0,-4.7h8.0M299.3,243.4v9.4m-4.0,-4.7h8.0M300.2,243.7v9.4m-4.0,-4.7h8.0M302.4,244.4v9.4m-4.0,-4.7h8.0M303.1,244.8v9.4m-4.0,-4.7h8.0M304.0,245.3v9.4m-4.0,-4.7h8.0M305.5,246.1v9.4m-4.0,-4.7h8.0M307.0,247.5v9.4m-4.0,-4.7h8.0M307.3,247.8v9.4m-4.0,-4.7h8.0M308.4,248.8v9.4m-4.0,-4.7h8.0M310.2,250.8v9.4m-4.0,-4.7h8.0M311.5,252.2v9.4m-4.0,-4.7h8.0M313.3,254.4v9.4m-4.0,-4.7h8.0M313.6,254.8v9.4m-4.0,-4.7h8.0M315.1,257.0v9.4m-4.0,-4.7h8.0M316.2,259.2v9.4m-4.0,-4.7h8.0M316.4,259.6v9.4m-4.0,-4.7h8.0M317.2,261.1v9.4m-4.0,-4.7h8.0M318.4,263.0v9.4m-4.0,-4.7h8.0M318.9,263.7v9.4m-4.0,-4.7h8.0M319.9,265.4v9.4m-4.0,-4.7h8.0M321.5,267.3v9.4m-4.0,-4.7h8.0M323.1,269.1v9.4m-4.0,-4.7h8.0M324.0,270.1v9.4m-4.0,-4.7h8.0M324.4,270.5v9.4m-4.0,-4.7h8.0M325.5,271.7v9.4m-4.0,-4.7h8.0M326.1,272.2v9.4m-4.0,-4.7h8.0M327.3,273.4v9.4m-4.0,-4.7h8.0M328.0,274.2v9.4m-4.0,-4.7h8.0M328.9,275.0v9.4m-4.0,-4.7h8.0M330.1,276.2v9.4m-4.0,-4.7h8.0M331.8,278.0v9.4m-4.0,-4.7h8.0M333.7,280.0v9.4m-4.0,-4.7h8.0M334.6,281.1v9.4m-4.0,-4.7h8.0M334.8,281.3v9.4m-4.0,-4.7h8.0M336.2,283.0v9.4m-4.0,-4.7h8.0M336.9,284.0v9.4m-4.0,-4.7h8.0M338.3,285.8v9.4m-4.0,-4.7h8.0M339.7,287.8v9.4m-4.0,-4.7h8.0M340.0,288.1v9.4m-4.0,-4.7h8.0M341.3,289.9v9.4m-4.0,-4.7h8.0M341.9,290.7v9.4m-4.0,-4.7h8.0M342.6,291.6v9.4m-4.0,-4.7h8.0M343.3,292.6v9.4m-4.0,-4.7h8.0M344.3,293.9v9.4m-4.0,-4.7h8.0M344.9,294.7v9.4m-4.0,-4.7h8.0M345.9,295.9v9.4m-4.0,-4.7h8.0M346.6,296.7v9.4m-4.0,-4.7h8.0M347.0,297.2v9.4m-4.0,-4.7h8.0M347.6,297.9v9.4m-4.0,-4.7h8.0M348.9,299.5v9.4m-4.0,-4.7h8.0M349.7,300.3v9.4m-4.0,-4.7h8.0M350.2,301.0v9.4m-4.0,-4.7h8.0M351.0,301.9v9.4m-4.0,-4.7h8.0M351.6,302.5v9.4m-4.0,-4.7h8.0M353.5,304.7v9.4m-4.0,-4.7h8.0M355.1,306.4v9.4m-4.0,-4.7h8.0M355.6,306.9v9.4m-4.0,-4.7h8.0M356.3,307.7v9.4m-4.0,-4.7h8.0M357.3,308.7v9.4m-4.0,-4.7h8.0M358.4,310.0v9.4m-4.0,-4.7h8.0M359.3,310.9v9.4m-4.0,-4.7h8.0M360.5,312.1v9.4m-4.0,-4.7h8.0M362.0,313.7v9.4m-4.0,-4.7h8.0M362.5,314.2v9.4m-4.0,-4.7h8.0M363.8,315.5v9.4m-4.0,-4.7h8.0M364.3,316.0v9.4m-4.0,-4.7h8.0M365.5,317.2v9.4m-4.0,-4.7h8.0M366.4,318.0v9.4m-4.0,-4.7h8.0M368.1,319.6v9.4m-4.0,-4.7h8.0M370.0,321.3v9.4m-4.0,-4.7h8.0M372.1,323.1v9.4m-4.0,-4.7h8.0M373.1,324.0v9.4m-4.0,-4.7h8.0M374.5,325.3v9.4m-4.0,-4.7h8.0M375.1,325.7v9.4m-4.0,-4.7h8.0M376.8,327.1v9.4m-4.0,-4.7h8.0M378.5,328.6v9.4m-4.0,-4.7h8.0M379.6,329.5v9.4m-4.0,-4.7h8.0M380.5,330.2v9.4m-4.0,-4.7h8.0M382.3,331.7v9.4m-4.0,-4.7h8.0M384.0,333.1v9.4m-4.0,-4.7h8.0M385.9,334.6v9.4m-4.0,-4.7h8.0M386.7,335.2v9.4m-4.0,-4.7h8.0M387.4,335.8v9.4m-4.0,-4.7h8.0M388.1,336.4v9.4m-4.0,-4.7h8.0M388.8,336.9v9.4m-4.0,-4.7h8.0M389.0,337.1v9.4m-4.0,-4.7h8.0M389.5,337.6v9.4m-4.0,-4.7h8.0M390.7,338.6v9.4m-4.0,-4.7h8.0M391.8,339.5v9.4m-4.0,-4.7h8.0M393.8,341.1v9.4m-4.0,-4.7h8.0M394.8,341.9v9.4m-4.0,-4.7h8.0M395.4,342.4v9.4m-4.0,-4.7h8.0M397.6,344.0v9.4m-4.0,-4.7h8.0M398.0,344.4v9.4m-4.0,-4.7h8.0M398.9,345.0v9.4m-4.0,-4.7h8.0M400.8,346.3v9.4m-4.0,-4.7h8.0M401.8,347.0v9.4m-4.0,-4.7h8.0M404.1,348.5v9.4m-4.0,-4.7h8.0M406.0,349.6v9.4m-4.0,-4.7h8.0M407.0,350.2v9.4m-4.0,-4.7h8.0M409.2,351.4v9.4m-4.0,-4.7h8.0M411.6,352.5v9.4m-4.0,-4.7h8.0M413.1,353.2v9.4m-4.0,-4.7h8.0M413.8,353.5v9.4m-4.0,-4.7h8.0M414.3,353.7v9.4m-4.0,-4.7h8.0M416.5,354.6v9.4m-4.0,-4.7h8.0M418.9,355.6v9.4m-4.0,-4.7h8.0M419.5,355.8v9.4m-4.0,-4.7h8.0M423.0,357.2v9.4m-4.0,-4.7h8.0M426.9,359.2v9.4m-4.0,-4.7h8.0M428.1,359.8v9.4m-4.0,-4.7h8.0M432.4,359.8v9.4m-4.0,-4.7h8.0M436.6,361.4v9.4m-4.0,-4.7h8.0M439.4,361.4v9.4m-4.0,-4.7h8.0M442.2,361.4v9.4m-4.0,-4.7h8.0M444.7,362.8v9.4m-4.0,-4.7h8.0M448.4,362.8v9.4m-4.0,-4.7h8.0M452.3,367.0v9.4m-4.0,-4.7h8.0M454.9,367.0v9.4m-4.0,-4.7h8.0M457.3,367.0v9.4m-4.0,-4.7h8.0M460.8,367.0v9.4m-4.0,-4.7h8.0M463.6,371.1v9.4m-4.0,-4.7h8.0M467.5,371.1v9.4m-4.0,-4.7h8.0M470.9,374.5v9.4m-4.0,-4.7h8.0M474.8,374.5v9.4m-4.0,-4.7h8.0M479.7,374.5v9.4m-4.0,-4.7h8.0M480.6,374.5v9.4m-4.0,-4.7h8.0M484.9,375.3v9.4m-4.0,-4.7h8.0M487.3,375.3v9.4m-4.0,-4.7h8.0M489.9,375.3v9.4m-4.0,-4.7h8.0M492.6,380.3v9.4m-4.0,-4.7h8.0M496.4,380.3v9.4m-4.0,-4.7h8.0M500.6,387.0v9.4m-4.0,-4.7h8.0M505.0,393.6v9.4m-4.0,-4.7h8.0M508.7,393.6v9.4m-4.0,-4.7h8.0M511.7,398.6v9.4m-4.0,-4.7h8.0M515.8,398.6v9.4m-4.0,-4.7h8.0M518.8,402.0v9.4m-4.0,-4.7h8.0M521.7,402.0v9.4m-4.0,-4.7h8.0M523.9,402.0v9.4m-4.0,-4.7h8.0M527.4,402.0v9.4m-4.0,-4.7h8.0M530.0,403.6v9.4m-4.0,-4.7h8.0M534.5,403.6v9.4m-4.0,-4.7h8.0M536.7,408.6v9.4m-4.0,-4.7h8.0M541.6,408.6v9.4m-4.0,-4.7h8.0M543.4,408.6v9.4m-4.0,-4.7h8.0M546.0,408.6v9.4m-4.0,-4.7h8.0M549.2,408.6v9.4m-4.0,-4.7h8.0M552.5,408.6v9.4m-4.0,-4.7h8.0M556.3,408.6v9.4m-4.0,-4.7h8.0M559.3,409.5v9.4m-4.0,-4.7h8.0M567.5,419.5v9.4m-4.0,-4.7h8.0M581.7,427.0v9.4m-4.0,-4.7h8.0M587.5,428.6v9.4m-4.0,-4.7h8.0M590.8,432.8v9.4m-4.0,-4.7h8.0M592.5,432.8v9.4m-4.0,-4.7h8.0M594.2,432.8v9.4m-4.0,-4.7h8.0M602.5,437.0v9.4m-4.0,-4.7h8.0M615.8,443.6v9.4m-4.0,-4.7h8.0M624.2,444.5v9.4m-4.0,-4.7h8.0M631.7,450.3v9.4m-4.0,-4.7h8.0M638.3,450.3v9.4m-4.0,-4.7h8.0M648.3,450.3v9.4m-4.0,-4.7h8.0M663.3,450.3v9.4m-4.0,-4.7h8.0M665.0,450.3v9.4m-4.0,-4.7h8.0M669.2,450.3v9.4m-4.0,-4.7h8.0M674.2,450.3v9.4m-4.0,-4.7h8.0M679.2,457.8v9.4m-4.0,-4.7h8.0M684.2,457.8v9.4m-4.0,-4.7h8.0M700.0,461.1v9.4m-4.0,-4.7h8.0M716.7,473.6v9.4m-4.0,-4.7h8.0M721.7,473.6v9.4m-4.0,-4.7h8.0M730.8,478.6v9.4m-4.0,-4.7h8.0M722.5,473.6v9.4m-4.0,-4.7h8.0M742.5,478.6v9.4m-4.0,-4.7h8.0M746.7,484.8v9.4m-4.0,-4.7h8.0M773.8,495.0v9.4m-4.0,-4.7h8.0M801.7,506.1v9.4m-4.0,-4.7h8.0M828.3,506.1v9.4m-4.0,-4.7h8.0M846.7,512.3v9.4m-4.0,-4.7h8.0M852.5,512.3v9.4m-4.0,-4.7h8.0M856.7,512.3v9.4m-4.0,-4.7h8.0M859.2,512.3v9.4m-4.0,-4.7h8.0M867.2,512.3v9.4m-4.0,-4.7h8.0M880.3,512.3v9.4m-4.0,-4.7h8.0M898.3,512.3v9.4m-4.0,-4.7h8.0M904.2,523.6v9.4m-4.0,-4.7h8.0M910.0,523.6v9.4m-4.0,-4.7h8.0M914.2,523.6v9.4m-4.0,-4.7h8.0M918.0,523.6v9.4m-4.0,-4.7h8.0M940.8,523.6v9.4m-4.0,-4.7h8.0M967.0,523.6v9.4m-4.0,-4.7h8.0M1003.8,523.6v9.4m-4.0,-4.7h8.0" fill="none" stroke="#A3212B" stroke-width="1.1"/>
<path d="M156.0,41.3L159.0,43.5L162.0,46.4L165.0,49.9L168.0,53.9L171.0,58.8L174.0,64.7L177.0,70.7L180.0,76.6L183.0,82.5L186.0,88.6L189.0,94.9L192.0,101.6L195.0,108.0L198.0,113.5L201.0,118.4L204.0,123.1L207.0,127.6L210.0,132.1L213.0,136.4L216.0,140.7L219.0,145.0L222.0,149.2L225.0,153.4L228.0,157.5L231.0,161.7L234.0,165.9L237.0,170.1L240.0,174.5L243.0,179.1L246.0,183.8L249.0,188.5L252.0,193.3L255.0,197.9L258.0,202.4L261.0,206.6L264.0,210.7L267.0,214.7L270.0,218.6L273.0,222.5L276.0,226.3L279.0,230.2L282.0,234.1L285.0,237.9L288.0,241.7L291.0,245.5L294.0,249.1L297.0,252.7L300.0,256.2L303.0,259.6L306.0,263.2L309.0,266.9L312.0,270.3L315.0,273.5L318.0,276.5L321.0,279.4L324.0,282.3L327.0,285.2L330.0,288.3L333.0,291.6L336.0,294.9L339.0,298.4L342.0,301.8L345.0,305.1L348.0,308.3L351.0,311.2L354.0,314.1L357.0,316.8L360.0,319.5L363.0,322.1L366.0,324.6L369.0,327.1L372.0,329.5L374.9,332.0L377.9,334.3L380.9,336.6L383.9,338.8L386.9,341.0L389.9,343.2L392.9,345.3L395.9,347.5L398.9,349.7L401.9,351.9L404.9,354.2L407.9,356.4L410.9,358.6L413.9,360.9L416.9,363.2L419.9,365.4L422.9,367.8L425.9,370.2L428.9,372.6L431.9,375.2L434.9,377.8L437.9,380.4L440.9,383.0L443.9,385.4L446.9,387.8L449.9,390.0L452.9,392.0L455.9,393.9L458.9,395.7L461.9,397.5L464.9,399.2L467.9,400.9L470.9,402.6L473.9,404.4L476.9,406.2L479.9,408.0L482.9,409.9L485.9,411.8L488.9,413.7L491.9,415.5L494.9,417.3L497.9,418.9L500.9,420.5L503.9,421.9L506.9,423.2L509.9,424.5L512.9,425.8L515.9,427.0L518.9,428.2L521.9,429.5L524.9,430.8L527.9,432.1L530.9,433.5L533.9,434.9L536.9,436.3L539.9,437.7L542.9,439.0L545.9,440.2L548.9,441.3L551.9,442.3L554.9,443.1L557.9,443.8L560.9,444.7L563.9,445.9L566.9,447.4L569.9,449.2L572.9,450.9L575.9,452.4L578.9,453.5L581.9,454.2L584.9,455.0L587.9,455.9L590.9,457.1L593.9,458.3L596.9,459.6L599.9,460.9L602.9,462.2L605.9,463.5L608.9,464.6L611.9,465.6L614.9,466.6L617.9,467.5L620.9,468.3L623.9,469.2L626.9,470.0L629.9,470.9L632.9,471.8L635.9,472.8L638.9,473.8L641.9,474.9L644.9,476.0L647.9,477.2L650.9,478.3L653.9,479.5L656.9,480.6L659.9,481.7L662.9,482.7L665.9,483.7L668.9,484.6L671.9,485.6L674.9,486.6L677.9,487.5L680.9,488.5L683.9,489.6L686.9,490.7L689.9,491.9L692.9,493.2L695.9,494.5L698.9,495.7L701.9,496.8L704.9,497.8L707.9,498.7L710.9,499.4L713.9,499.8L716.9,500.2L719.9,500.6L722.9,501.0L725.9,501.4L728.9,501.8L731.9,502.2L734.9,502.7L737.9,503.2L740.9,503.9L743.9,504.7L746.9,505.5L749.9,506.2L752.9,507.0L755.9,507.7L758.9,508.5L761.9,509.2L764.9,510.0L767.9,510.7L770.9,511.5L773.9,512.2L776.9,512.9L779.9,513.7L782.9,514.5L785.9,515.3L788.9,516.1L791.9,516.8L794.9,517.5L797.9,518.0L800.9,518.6L803.9,519.1L806.9,519.5L809.8,519.8L812.8,520.1L815.8,520.2L818.8,520.4L821.8,520.5L824.8,520.6L827.8,520.8L830.8,521.0L833.8,521.4L836.8,521.9L839.8,522.4L842.8,522.9L845.8,523.4L848.8,524.0L851.8,524.6L854.8,525.3L857.8,525.9L860.8,526.5L863.8,527.1L866.8,527.7L869.8,528.2L872.8,528.8L875.8,529.4L878.8,530.1L881.8,531.2L884.8,532.2L887.8,532.5L890.8,532.6L893.8,532.7L896.8,532.7L899.8,532.7L902.8,532.7L905.8,532.8L908.8,532.8L911.8,532.9L914.8,535.7L917.8,536.1L920.8,536.2L923.8,536.3L926.8,536.3L929.8,536.4L932.8,536.6L935.8,538.7L938.8,540.5L941.8,541.2L944.8,541.3L947.8,541.3L950.8,541.3L953.8,541.3L956.8,541.3L959.8,541.3L962.8,541.3L965.8,541.3L968.8,541.3L971.8,541.3L974.8,541.3L977.8,541.3L980.8,541.3L983.8,541.3L986.8,541.3L989.8,541.3L992.8,541.3L995.8,541.3L998.8,541.3L1001.8,541.3L1004.8,541.3L1007.8,541.3L1010.8,541.3L1013.8,541.3L1016.8,541.3L1019.8,541.3L1022.8,541.3L1025.8,541.3" fill="none" stroke="#6E8427" stroke-width="2.0" stroke-linejoin="miter"/>
<path d="M156.3,36.8v9.4m-4.0,-4.7h8.0M157.0,37.3v9.4m-4.0,-4.7h8.0M157.9,38.0v9.4m-4.0,-4.7h8.0M158.5,38.4v9.4m-4.0,-4.7h8.0M159.1,38.9v9.4m-4.0,-4.7h8.0M159.8,39.6v9.4m-4.0,-4.7h8.0M160.2,39.9v9.4m-4.0,-4.7h8.0M160.7,40.5v9.4m-4.0,-4.7h8.0M161.4,41.1v9.4m-4.0,-4.7h8.0M162.1,41.9v9.4m-4.0,-4.7h8.0M162.4,42.2v9.4m-4.0,-4.7h8.0M162.8,42.7v9.4m-4.0,-4.7h8.0M163.1,43.1v9.4m-4.0,-4.7h8.0M163.8,43.9v9.4m-4.0,-4.7h8.0M164.4,44.6v9.4m-4.0,-4.7h8.0M164.7,44.9v9.4m-4.0,-4.7h8.0M165.5,45.9v9.4m-4.0,-4.7h8.0M166.2,46.8v9.4m-4.0,-4.7h8.0M166.7,47.5v9.4m-4.0,-4.7h8.0M167.3,48.2v9.4m-4.0,-4.7h8.0M167.6,48.7v9.4m-4.0,-4.7h8.0M167.9,49.0v9.4m-4.0,-4.7h8.0M168.3,49.7v9.4m-4.0,-4.7h8.0M168.5,50.0v9.4m-4.0,-4.7h8.0M168.8,50.5v9.4m-4.0,-4.7h8.0M169.1,51.0v9.4m-4.0,-4.7h8.0M169.4,51.4v9.4m-4.0,-4.7h8.0M169.8,52.0v9.4m-4.0,-4.7h8.0M170.1,52.7v9.4m-4.0,-4.7h8.0M170.7,53.6v9.4m-4.0,-4.7h8.0M171.1,54.3v9.4m-4.0,-4.7h8.0M171.5,55.1v9.4m-4.0,-4.7h8.0M171.9,55.8v9.4m-4.0,-4.7h8.0M172.3,56.7v9.4m-4.0,-4.7h8.0M172.7,57.3v9.4m-4.0,-4.7h8.0M172.9,57.9v9.4m-4.0,-4.7h8.0M173.5,59.0v9.4m-4.0,-4.7h8.0M174.0,60.0v9.4m-4.0,-4.7h8.0M174.5,61.0v9.4m-4.0,-4.7h8.0M174.9,61.9v9.4m-4.0,-4.7h8.0M175.2,62.4v9.4m-4.0,-4.7h8.0M175.5,63.0v9.4m-4.0,-4.7h8.0M175.8,63.5v9.4m-4.0,-4.7h8.0M176.0,63.9v9.4m-4.0,-4.7h8.0M176.4,64.8v9.4m-4.0,-4.7h8.0M176.7,65.5v9.4m-4.0,-4.7h8.0M177.2,66.5v9.4m-4.0,-4.7h8.0M177.5,67.1v9.4m-4.0,-4.7h8.0M178.1,68.1v9.4m-4.0,-4.7h8.0M178.6,69.1v9.4m-4.0,-4.7h8.0M178.8,69.4v9.4m-4.0,-4.7h8.0M179.0,69.9v9.4m-4.0,-4.7h8.0M179.5,71.0v9.4m-4.0,-4.7h8.0M179.9,71.6v9.4m-4.0,-4.7h8.0M180.4,72.7v9.4m-4.0,-4.7h8.0M180.7,73.3v9.4m-4.0,-4.7h8.0M180.9,73.7v9.4m-4.0,-4.7h8.0M181.3,74.6v9.4m-4.0,-4.7h8.0M181.8,75.5v9.4m-4.0,-4.7h8.0M182.1,76.0v9.4m-4.0,-4.7h8.0M182.3,76.4v9.4m-4.0,-4.7h8.0M182.6,77.0v9.4m-4.0,-4.7h8.0M183.1,78.1v9.4m-4.0,-4.7h8.0M183.6,79.0v9.4m-4.0,-4.7h8.0M183.8,79.4v9.4m-4.0,-4.7h8.0M184.0,80.0v9.4m-4.0,-4.7h8.0M184.3,80.4v9.4m-4.0,-4.7h8.0M184.5,80.8v9.4m-4.0,-4.7h8.0M184.9,81.7v9.4m-4.0,-4.7h8.0M185.2,82.2v9.4m-4.0,-4.7h8.0M185.5,83.0v9.4m-4.0,-4.7h8.0M185.9,83.7v9.4m-4.0,-4.7h8.0M186.1,84.2v9.4m-4.0,-4.7h8.0M186.5,85.0v9.4m-4.0,-4.7h8.0M186.7,85.5v9.4m-4.0,-4.7h8.0M187.1,86.3v9.4m-4.0,-4.7h8.0M187.3,86.8v9.4m-4.0,-4.7h8.0M187.7,87.4v9.4m-4.0,-4.7h8.0M187.9,88.0v9.4m-4.0,-4.7h8.0M188.2,88.5v9.4m-4.0,-4.7h8.0M188.7,89.6v9.4m-4.0,-4.7h8.0M189.1,90.5v9.4m-4.0,-4.7h8.0M189.4,91.1v9.4m-4.0,-4.7h8.0M189.8,92.1v9.4m-4.0,-4.7h8.0M190.1,92.6v9.4m-4.0,-4.7h8.0M190.4,93.3v9.4m-4.0,-4.7h8.0M190.8,94.3v9.4m-4.0,-4.7h8.0M191.2,95.1v9.4m-4.0,-4.7h8.0M191.4,95.5v9.4m-4.0,-4.7h8.0M191.9,96.6v9.4m-4.0,-4.7h8.0M192.1,97.1v9.4m-4.0,-4.7h8.0M192.4,97.7v9.4m-4.0,-4.7h8.0M192.8,98.6v9.4m-4.0,-4.7h8.0M193.1,99.2v9.4m-4.0,-4.7h8.0M193.4,99.8v9.4m-4.0,-4.7h8.0M193.5,100.2v9.4m-4.0,-4.7h8.0M193.7,100.6v9.4m-4.0,-4.7h8.0M194.1,101.4v9.4m-4.0,-4.7h8.0M194.4,102.0v9.4m-4.0,-4.7h8.0M194.7,102.8v9.4m-4.0,-4.7h8.0M195.0,103.4v9.4m-4.0,-4.7h8.0M195.4,104.1v9.4m-4.0,-4.7h8.0M196.0,105.1v9.4m-4.0,-4.7h8.0M196.3,105.8v9.4m-4.0,-4.7h8.0M196.8,106.5v9.4m-4.0,-4.7h8.0M197.3,107.5v9.4m-4.0,-4.7h8.0M197.5,108.0v9.4m-4.0,-4.7h8.0M197.8,108.4v9.4m-4.0,-4.7h8.0M198.4,109.4v9.4m-4.0,-4.7h8.0M198.9,110.3v9.4m-4.0,-4.7h8.0M199.2,110.8v9.4m-4.0,-4.7h8.0M199.5,111.3v9.4m-4.0,-4.7h8.0M200.0,112.1v9.4m-4.0,-4.7h8.0M200.6,113.1v9.4m-4.0,-4.7h8.0M200.9,113.6v9.4m-4.0,-4.7h8.0M201.5,114.6v9.4m-4.0,-4.7h8.0M202.1,115.5v9.4m-4.0,-4.7h8.0M202.6,116.2v9.4m-4.0,-4.7h8.0M203.0,116.9v9.4m-4.0,-4.7h8.0M203.3,117.3v9.4m-4.0,-4.7h8.0M203.5,117.6v9.4m-4.0,-4.7h8.0M204.1,118.6v9.4m-4.0,-4.7h8.0M204.5,119.1v9.4m-4.0,-4.7h8.0M205.0,119.9v9.4m-4.0,-4.7h8.0M205.3,120.4v9.4m-4.0,-4.7h8.0M205.9,121.3v9.4m-4.0,-4.7h8.0M206.4,122.0v9.4m-4.0,-4.7h8.0M206.7,122.6v9.4m-4.0,-4.7h8.0M207.0,123.0v9.4m-4.0,-4.7h8.0M207.6,123.8v9.4m-4.0,-4.7h8.0M207.8,124.2v9.4m-4.0,-4.7h8.0M208.2,124.7v9.4m-4.0,-4.7h8.0M208.6,125.4v9.4m-4.0,-4.7h8.0M209.2,126.3v9.4m-4.0,-4.7h8.0M209.7,127.0v9.4m-4.0,-4.7h8.0M210.1,127.5v9.4m-4.0,-4.7h8.0M210.7,128.5v9.4m-4.0,-4.7h8.0M211.0,128.9v9.4m-4.0,-4.7h8.0M211.3,129.3v9.4m-4.0,-4.7h8.0M211.6,129.8v9.4m-4.0,-4.7h8.0M212.1,130.4v9.4m-4.0,-4.7h8.0M212.3,130.8v9.4m-4.0,-4.7h8.0M212.6,131.2v9.4m-4.0,-4.7h8.0M213.0,131.8v9.4m-4.0,-4.7h8.0M213.5,132.5v9.4m-4.0,-4.7h8.0M213.8,132.9v9.4m-4.0,-4.7h8.0M214.2,133.5v9.4m-4.0,-4.7h8.0M214.8,134.4v9.4m-4.0,-4.7h8.0M215.5,135.4v9.4m-4.0,-4.7h8.0M216.1,136.1v9.4m-4.0,-4.7h8.0M216.6,136.9v9.4m-4.0,-4.7h8.0M217.1,137.6v9.4m-4.0,-4.7h8.0M217.4,138.0v9.4m-4.0,-4.7h8.0M217.6,138.4v9.4m-4.0,-4.7h8.0M217.9,138.7v9.4m-4.0,-4.7h8.0M218.5,139.6v9.4m-4.0,-4.7h8.0M219.1,140.4v9.4m-4.0,-4.7h8.0M219.8,141.4v9.4m-4.0,-4.7h8.0M220.0,141.7v9.4m-4.0,-4.7h8.0M220.5,142.5v9.4m-4.0,-4.7h8.0M221.0,143.1v9.4m-4.0,-4.7h8.0M221.6,143.9v9.4m-4.0,-4.7h8.0M221.9,144.4v9.4m-4.0,-4.7h8.0M222.6,145.4v9.4m-4.0,-4.7h8.0M222.9,145.8v9.4m-4.0,-4.7h8.0M223.4,146.5v9.4m-4.0,-4.7h8.0M224.0,147.3v9.4m-4.0,-4.7h8.0M224.6,148.2v9.4m-4.0,-4.7h8.0M225.2,149.0v9.4m-4.0,-4.7h8.0M225.8,149.7v9.4m-4.0,-4.7h8.0M226.4,150.6v9.4m-4.0,-4.7h8.0M227.0,151.5v9.4m-4.0,-4.7h8.0M227.4,152.1v9.4m-4.0,-4.7h8.0M228.0,152.8v9.4m-4.0,-4.7h8.0M228.7,153.7v9.4m-4.0,-4.7h8.0M229.3,154.6v9.4m-4.0,-4.7h8.0M229.7,155.2v9.4m-4.0,-4.7h8.0M230.3,156.1v9.4m-4.0,-4.7h8.0M231.0,156.9v9.4m-4.0,-4.7h8.0M231.5,157.6v9.4m-4.0,-4.7h8.0M232.0,158.4v9.4m-4.0,-4.7h8.0M232.4,158.9v9.4m-4.0,-4.7h8.0M232.9,159.6v9.4m-4.0,-4.7h8.0M233.4,160.4v9.4m-4.0,-4.7h8.0M233.7,160.7v9.4m-4.0,-4.7h8.0M234.2,161.5v9.4m-4.0,-4.7h8.0M234.9,162.5v9.4m-4.0,-4.7h8.0M235.5,163.4v9.4m-4.0,-4.7h8.0M236.1,164.2v9.4m-4.0,-4.7h8.0M236.5,164.8v9.4m-4.0,-4.7h8.0M237.1,165.6v9.4m-4.0,-4.7h8.0M237.6,166.3v9.4m-4.0,-4.7h8.0M238.0,166.9v9.4m-4.0,-4.7h8.0M238.6,167.8v9.4m-4.0,-4.7h8.0M238.8,168.2v9.4m-4.0,-4.7h8.0M239.4,169.0v9.4m-4.0,-4.7h8.0M239.6,169.4v9.4m-4.0,-4.7h8.0M240.1,170.1v9.4m-4.0,-4.7h8.0M240.6,170.7v9.4m-4.0,-4.7h8.0M240.9,171.2v9.4m-4.0,-4.7h8.0M241.4,172.0v9.4m-4.0,-4.7h8.0M241.9,172.7v9.4m-4.0,-4.7h8.0M242.3,173.4v9.4m-4.0,-4.7h8.0M243.0,174.4v9.4m-4.0,-4.7h8.0M243.3,174.9v9.4m-4.0,-4.7h8.0M243.5,175.2v9.4m-4.0,-4.7h8.0M243.9,175.8v9.4m-4.0,-4.7h8.0M244.4,176.6v9.4m-4.0,-4.7h8.0M244.7,177.1v9.4m-4.0,-4.7h8.0M245.0,177.5v9.4m-4.0,-4.7h8.0M245.6,178.5v9.4m-4.0,-4.7h8.0M246.1,179.2v9.4m-4.0,-4.7h8.0M246.5,179.9v9.4m-4.0,-4.7h8.0M247.1,180.8v9.4m-4.0,-4.7h8.0M247.4,181.4v9.4m-4.0,-4.7h8.0M247.9,182.2v9.4m-4.0,-4.7h8.0M248.2,182.6v9.4m-4.0,-4.7h8.0M248.6,183.3v9.4m-4.0,-4.7h8.0M249.2,184.1v9.4m-4.0,-4.7h8.0M249.8,185.1v9.4m-4.0,-4.7h8.0M250.4,186.0v9.4m-4.0,-4.7h8.0M250.8,186.6v9.4m-4.0,-4.7h8.0M251.2,187.4v9.4m-4.0,-4.7h8.0M251.6,187.9v9.4m-4.0,-4.7h8.0M251.8,188.3v9.4m-4.0,-4.7h8.0M252.3,189.0v9.4m-4.0,-4.7h8.0M252.9,189.9v9.4m-4.0,-4.7h8.0M253.4,190.8v9.4m-4.0,-4.7h8.0M254.0,191.6v9.4m-4.0,-4.7h8.0M254.6,192.6v9.4m-4.0,-4.7h8.0M254.9,193.1v9.4m-4.0,-4.7h8.0M255.2,193.6v9.4m-4.0,-4.7h8.0M255.7,194.2v9.4m-4.0,-4.7h8.0M256.0,194.7v9.4m-4.0,-4.7h8.0M256.3,195.2v9.4m-4.0,-4.7h8.0M256.7,195.8v9.4m-4.0,-4.7h8.0M257.2,196.5v9.4m-4.0,-4.7h8.0M257.7,197.2v9.4m-4.0,-4.7h8.0M258.0,197.7v9.4m-4.0,-4.7h8.0M258.7,198.6v9.4m-4.0,-4.7h8.0M259.3,199.6v9.4m-4.0,-4.7h8.0M259.8,200.2v9.4m-4.0,-4.7h8.0M260.0,200.6v9.4m-4.0,-4.7h8.0M260.3,200.9v9.4m-4.0,-4.7h8.0M260.9,201.8v9.4m-4.0,-4.7h8.0M261.2,202.2v9.4m-4.0,-4.7h8.0M261.7,203.0v9.4m-4.0,-4.7h8.0M262.3,203.7v9.4m-4.0,-4.7h8.0M262.6,204.2v9.4m-4.0,-4.7h8.0M263.2,205.0v9.4m-4.0,-4.7h8.0M263.5,205.3v9.4m-4.0,-4.7h8.0M263.8,205.8v9.4m-4.0,-4.7h8.0M264.2,206.4v9.4m-4.0,-4.7h8.0M264.5,206.7v9.4m-4.0,-4.7h8.0M265.1,207.5v9.4m-4.0,-4.7h8.0M265.5,208.0v9.4m-4.0,-4.7h8.0M265.8,208.4v9.4m-4.0,-4.7h8.0M266.1,208.8v9.4m-4.0,-4.7h8.0M266.6,209.5v9.4m-4.0,-4.7h8.0M267.1,210.1v9.4m-4.0,-4.7h8.0M267.6,210.8v9.4m-4.0,-4.7h8.0M268.2,211.6v9.4m-4.0,-4.7h8.0M268.8,212.4v9.4m-4.0,-4.7h8.0M269.5,213.3v9.4m-4.0,-4.7h8.0M270.1,214.1v9.4m-4.0,-4.7h8.0M270.4,214.5v9.4m-4.0,-4.7h8.0M270.9,215.1v9.4m-4.0,-4.7h8.0M271.3,215.6v9.4m-4.0,-4.7h8.0M271.5,215.9v9.4m-4.0,-4.7h8.0M272.0,216.5v9.4m-4.0,-4.7h8.0M272.6,217.3v9.4m-4.0,-4.7h8.0M272.9,217.7v9.4m-4.0,-4.7h8.0M273.3,218.2v9.4m-4.0,-4.7h8.0M273.7,218.7v9.4m-4.0,-4.7h8.0M274.3,219.5v9.4m-4.0,-4.7h8.0M274.8,220.1v9.4m-4.0,-4.7h8.0M275.3,220.8v9.4m-4.0,-4.7h8.0M275.9,221.6v9.4m-4.0,-4.7h8.0M276.4,222.2v9.4m-4.0,-4.7h8.0M277.0,223.0v9.4m-4.0,-4.7h8.0M277.7,223.9v9.4m-4.0,-4.7h8.0M278.0,224.3v9.4m-4.0,-4.7h8.0M278.7,225.2v9.4m-4.0,-4.7h8.0M279.3,225.9v9.4m-4.0,-4.7h8.0M279.6,226.3v9.4m-4.0,-4.7h8.0M280.1,226.9v9.4m-4.0,-4.7h8.0M280.6,227.7v9.4m-4.0,-4.7h8.0M281.3,228.5v9.4m-4.0,-4.7h8.0M281.7,229.1v9.4m-4.0,-4.7h8.0M282.3,229.8v9.4m-4.0,-4.7h8.0M282.9,230.6v9.4m-4.0,-4.7h8.0M283.6,231.5v9.4m-4.0,-4.7h8.0M284.3,232.4v9.4m-4.0,-4.7h8.0M284.8,233.0v9.4m-4.0,-4.7h8.0M285.3,233.7v9.4m-4.0,-4.7h8.0M285.7,234.1v9.4m-4.0,-4.7h8.0M286.3,234.9v9.4m-4.0,-4.7h8.0M287.0,235.7v9.4m-4.0,-4.7h8.0M287.5,236.5v9.4m-4.0,-4.7h8.0M288.1,237.2v9.4m-4.0,-4.7h8.0M288.5,237.7v9.4m-4.0,-4.7h8.0M289.2,238.5v9.4m-4.0,-4.7h8.0M289.9,239.5v9.4m-4.0,-4.7h8.0M290.7,240.4v9.4m-4.0,-4.7h8.0M291.2,241.0v9.4m-4.0,-4.7h8.0M291.8,241.8v9.4m-4.0,-4.7h8.0M292.3,242.3v9.4m-4.0,-4.7h8.0M293.0,243.2v9.4m-4.0,-4.7h8.0M293.7,244.0v9.4m-4.0,-4.7h8.0M294.1,244.6v9.4m-4.0,-4.7h8.0M294.4,244.9v9.4m-4.0,-4.7h8.0M294.9,245.5v9.4m-4.0,-4.7h8.0M295.4,246.2v9.4m-4.0,-4.7h8.0M296.1,246.9v9.4m-4.0,-4.7h8.0M296.6,247.5v9.4m-4.0,-4.7h8.0M296.8,247.9v9.4m-4.0,-4.7h8.0M297.5,248.7v9.4m-4.0,-4.7h8.0M297.8,249.0v9.4m-4.0,-4.7h8.0M298.5,249.8v9.4m-4.0,-4.7h8.0M298.9,250.2v9.4m-4.0,-4.7h8.0M299.3,250.7v9.4m-4.0,-4.7h8.0M300.0,251.5v9.4m-4.0,-4.7h8.0M300.3,251.9v9.4m-4.0,-4.7h8.0M300.6,252.2v9.4m-4.0,-4.7h8.0M301.2,252.9v9.4m-4.0,-4.7h8.0M301.8,253.6v9.4m-4.0,-4.7h8.0M302.5,254.4v9.4m-4.0,-4.7h8.0M303.1,255.1v9.4m-4.0,-4.7h8.0M303.9,256.0v9.4m-4.0,-4.7h8.0M304.4,256.6v9.4m-4.0,-4.7h8.0M305.1,257.5v9.4m-4.0,-4.7h8.0M305.4,257.9v9.4m-4.0,-4.7h8.0M305.8,258.3v9.4m-4.0,-4.7h8.0M306.3,258.9v9.4m-4.0,-4.7h8.0M306.7,259.4v9.4m-4.0,-4.7h8.0M307.4,260.2v9.4m-4.0,-4.7h8.0M307.9,260.9v9.4m-4.0,-4.7h8.0M308.4,261.5v9.4m-4.0,-4.7h8.0M309.1,262.4v9.4m-4.0,-4.7h8.0M309.7,263.0v9.4m-4.0,-4.7h8.0M310.1,263.5v9.4m-4.0,-4.7h8.0M310.6,264.0v9.4m-4.0,-4.7h8.0M311.3,264.8v9.4m-4.0,-4.7h8.0M312.0,265.7v9.4m-4.0,-4.7h8.0M312.4,266.1v9.4m-4.0,-4.7h8.0M313.1,266.9v9.4m-4.0,-4.7h8.0M314.0,267.7v9.4m-4.0,-4.7h8.0M314.5,268.3v9.4m-4.0,-4.7h8.0M315.1,269.0v9.4m-4.0,-4.7h8.0M315.5,269.3v9.4m-4.0,-4.7h8.0M316.1,269.9v9.4m-4.0,-4.7h8.0M316.7,270.5v9.4m-4.0,-4.7h8.0M317.3,271.1v9.4m-4.0,-4.7h8.0M317.6,271.4v9.4m-4.0,-4.7h8.0M318.4,272.2v9.4m-4.0,-4.7h8.0M319.0,272.8v9.4m-4.0,-4.7h8.0M319.5,273.3v9.4m-4.0,-4.7h8.0M320.3,274.0v9.4m-4.0,-4.7h8.0M320.9,274.6v9.4m-4.0,-4.7h8.0M321.5,275.2v9.4m-4.0,-4.7h8.0M322.2,275.8v9.4m-4.0,-4.7h8.0M322.5,276.1v9.4m-4.0,-4.7h8.0M323.1,276.7v9.4m-4.0,-4.7h8.0M323.6,277.2v9.4m-4.0,-4.7h8.0M324.4,278.0v9.4m-4.0,-4.7h8.0M325.2,278.8v9.4m-4.0,-4.7h8.0M325.7,279.3v9.4m-4.0,-4.7h8.0M326.2,279.8v9.4m-4.0,-4.7h8.0M326.6,280.2v9.4m-4.0,-4.7h8.0M327.1,280.7v9.4m-4.0,-4.7h8.0M327.9,281.5v9.4m-4.0,-4.7h8.0M328.6,282.3v9.4m-4.0,-4.7h8.0M329.2,282.8v9.4m-4.0,-4.7h8.0M329.6,283.3v9.4m-4.0,-4.7h8.0M330.0,283.7v9.4m-4.0,-4.7h8.0M330.6,284.3v9.4m-4.0,-4.7h8.0M331.4,285.2v9.4m-4.0,-4.7h8.0M331.7,285.5v9.4m-4.0,-4.7h8.0M332.4,286.3v9.4m-4.0,-4.7h8.0M332.7,286.6v9.4m-4.0,-4.7h8.0M333.1,287.0v9.4m-4.0,-4.7h8.0M333.5,287.5v9.4m-4.0,-4.7h8.0M334.1,288.2v9.4m-4.0,-4.7h8.0M334.6,288.7v9.4m-4.0,-4.7h8.0M335.0,289.2v9.4m-4.0,-4.7h8.0M335.6,289.8v9.4m-4.0,-4.7h8.0M335.9,290.2v9.4m-4.0,-4.7h8.0M336.6,290.9v9.4m-4.0,-4.7h8.0M336.9,291.3v9.4m-4.0,-4.7h8.0M337.4,291.9v9.4m-4.0,-4.7h8.0M337.8,292.4v9.4m-4.0,-4.7h8.0M338.2,292.8v9.4m-4.0,-4.7h8.0M338.7,293.4v9.4m-4.0,-4.7h8.0M339.2,294.0v9.4m-4.0,-4.7h8.0M339.7,294.5v9.4m-4.0,-4.7h8.0M340.2,295.0v9.4m-4.0,-4.7h8.0M340.7,295.7v9.4m-4.0,-4.7h8.0M341.1,296.1v9.4m-4.0,-4.7h8.0M341.5,296.5v9.4m-4.0,-4.7h8.0M342.1,297.2v9.4m-4.0,-4.7h8.0M342.7,297.8v9.4m-4.0,-4.7h8.0M343.2,298.5v9.4m-4.0,-4.7h8.0M343.9,299.3v9.4m-4.0,-4.7h8.0M344.5,299.9v9.4m-4.0,-4.7h8.0M345.3,300.7v9.4m-4.0,-4.7h8.0M345.7,301.1v9.4m-4.0,-4.7h8.0M346.4,301.9v9.4m-4.0,-4.7h8.0M347.1,302.6v9.4m-4.0,-4.7h8.0M347.8,303.4v9.4m-4.0,-4.7h8.0M348.3,303.9v9.4m-4.0,-4.7h8.0M348.8,304.4v9.4m-4.0,-4.7h8.0M349.6,305.2v9.4m-4.0,-4.7h8.0M350.0,305.6v9.4m-4.0,-4.7h8.0M350.8,306.4v9.4m-4.0,-4.7h8.0M351.6,307.2v9.4m-4.0,-4.7h8.0M352.0,307.5v9.4m-4.0,-4.7h8.0M352.4,307.9v9.4m-4.0,-4.7h8.0M353.2,308.6v9.4m-4.0,-4.7h8.0M353.6,309.0v9.4m-4.0,-4.7h8.0M353.9,309.3v9.4m-4.0,-4.7h8.0M354.7,310.1v9.4m-4.0,-4.7h8.0M355.3,310.6v9.4m-4.0,-4.7h8.0M356.0,311.3v9.4m-4.0,-4.7h8.0M356.4,311.6v9.4m-4.0,-4.7h8.0M356.9,312.1v9.4m-4.0,-4.7h8.0M357.6,312.7v9.4m-4.0,-4.7h8.0M357.9,313.0v9.4m-4.0,-4.7h8.0M358.4,313.4v9.4m-4.0,-4.7h8.0M359.1,314.0v9.4m-4.0,-4.7h8.0M359.9,314.7v9.4m-4.0,-4.7h8.0M360.8,315.5v9.4m-4.0,-4.7h8.0M361.2,315.8v9.4m-4.0,-4.7h8.0M361.8,316.4v9.4m-4.0,-4.7h8.0M362.5,317.0v9.4m-4.0,-4.7h8.0M363.2,317.5v9.4m-4.0,-4.7h8.0M363.9,318.2v9.4m-4.0,-4.7h8.0M364.3,318.5v9.4m-4.0,-4.7h8.0M364.6,318.8v9.4m-4.0,-4.7h8.0M365.0,319.1v9.4m-4.0,-4.7h8.0M365.3,319.4v9.4m-4.0,-4.7h8.0M366.0,319.9v9.4m-4.0,-4.7h8.0M366.6,320.5v9.4m-4.0,-4.7h8.0M367.3,321.0v9.4m-4.0,-4.7h8.0M367.7,321.3v9.4m-4.0,-4.7h8.0M368.1,321.7v9.4m-4.0,-4.7h8.0M368.5,322.0v9.4m-4.0,-4.7h8.0M369.4,322.7v9.4m-4.0,-4.7h8.0M370.3,323.5v9.4m-4.0,-4.7h8.0M371.2,324.2v9.4m-4.0,-4.7h8.0M371.5,324.5v9.4m-4.0,-4.7h8.0M371.9,324.8v9.4m-4.0,-4.7h8.0M372.8,325.5v9.4m-4.0,-4.7h8.0M373.4,326.0v9.4m-4.0,-4.7h8.0M374.2,326.6v9.4m-4.0,-4.7h8.0M374.7,327.0v9.4m-4.0,-4.7h8.0M375.3,327.5v9.4m-4.0,-4.7h8.0M375.9,328.0v9.4m-4.0,-4.7h8.0M376.5,328.5v9.4m-4.0,-4.7h8.0M377.2,329.0v9.4m-4.0,-4.7h8.0M377.5,329.3v9.4m-4.0,-4.7h8.0M378.3,329.9v9.4m-4.0,-4.7h8.0M379.1,330.5v9.4m-4.0,-4.7h8.0M379.6,330.9v9.4m-4.0,-4.7h8.0M380.2,331.3v9.4m-4.0,-4.7h8.0M381.0,331.9v9.4m-4.0,-4.7h8.0M381.6,332.4v9.4m-4.0,-4.7h8.0M382.0,332.7v9.4m-4.0,-4.7h8.0M382.4,333.0v9.4m-4.0,-4.7h8.0M383.1,333.5v9.4m-4.0,-4.7h8.0M383.4,333.7v9.4m-4.0,-4.7h8.0M384.3,334.4v9.4m-4.0,-4.7h8.0M385.2,335.0v9.4m-4.0,-4.7h8.0M385.9,335.6v9.4m-4.0,-4.7h8.0M386.8,336.2v9.4m-4.0,-4.7h8.0M387.5,336.7v9.4m-4.0,-4.7h8.0M388.1,337.2v9.4m-4.0,-4.7h8.0M388.8,337.7v9.4m-4.0,-4.7h8.0M389.5,338.2v9.4m-4.0,-4.7h8.0M390.5,338.8v9.4m-4.0,-4.7h8.0M391.3,339.5v9.4m-4.0,-4.7h8.0M391.8,339.8v9.4m-4.0,-4.7h8.0M392.7,340.5v9.4m-4.0,-4.7h8.0M393.5,341.1v9.4m-4.0,-4.7h8.0M394.3,341.7v9.4m-4.0,-4.7h8.0M395.2,342.3v9.4m-4.0,-4.7h8.0M395.8,342.7v9.4m-4.0,-4.7h8.0M396.7,343.4v9.4m-4.0,-4.7h8.0M397.6,344.0v9.4m-4.0,-4.7h8.0M398.3,344.6v9.4m-4.0,-4.7h8.0M399.2,345.2v9.4m-4.0,-4.7h8.0M400.0,345.8v9.4m-4.0,-4.7h8.0M400.6,346.2v9.4m-4.0,-4.7h8.0M401.3,346.8v9.4m-4.0,-4.7h8.0M401.7,347.1v9.4m-4.0,-4.7h8.0M402.2,347.5v9.4m-4.0,-4.7h8.0M402.9,347.9v9.4m-4.0,-4.7h8.0M403.2,348.2v9.4m-4.0,-4.7h8.0M403.7,348.6v9.4m-4.0,-4.7h8.0M404.5,349.1v9.4m-4.0,-4.7h8.0M405.2,349.7v9.4m-4.0,-4.7h8.0M405.7,350.0v9.4m-4.0,-4.7h8.0M406.6,350.7v9.4m-4.0,-4.7h8.0M407.3,351.3v9.4m-4.0,-4.7h8.0M407.9,351.7v9.4m-4.0,-4.7h8.0M408.6,352.2v9.4m-4.0,-4.7h8.0M409.3,352.7v9.4m-4.0,-4.7h8.0M410.0,353.2v9.4m-4.0,-4.7h8.0M410.5,353.6v9.4m-4.0,-4.7h8.0M411.5,354.4v9.4m-4.0,-4.7h8.0M412.2,354.9v9.4m-4.0,-4.7h8.0M413.0,355.5v9.4m-4.0,-4.7h8.0M413.8,356.1v9.4m-4.0,-4.7h8.0M414.8,356.8v9.4m-4.0,-4.7h8.0M415.1,357.1v9.4m-4.0,-4.7h8.0M415.8,357.6v9.4m-4.0,-4.7h8.0M416.6,358.2v9.4m-4.0,-4.7h8.0M417.1,358.6v9.4m-4.0,-4.7h8.0M417.7,359.0v9.4m-4.0,-4.7h8.0M418.0,359.3v9.4m-4.0,-4.7h8.0M418.4,359.6v9.4m-4.0,-4.7h8.0M419.0,360.0v9.4m-4.0,-4.7h8.0M419.4,360.3v9.4m-4.0,-4.7h8.0M419.9,360.7v9.4m-4.0,-4.7h8.0M420.7,361.4v9.4m-4.0,-4.7h8.0M421.4,361.9v9.4m-4.0,-4.7h8.0M422.1,362.4v9.4m-4.0,-4.7h8.0M423.0,363.1v9.4m-4.0,-4.7h8.0M423.6,363.6v9.4m-4.0,-4.7h8.0M424.6,364.4v9.4m-4.0,-4.7h8.0M425.3,364.9v9.4m-4.0,-4.7h8.0M426.1,365.6v9.4m-4.0,-4.7h8.0M426.5,365.9v9.4m-4.0,-4.7h8.0M427.1,366.5v9.4m-4.0,-4.7h8.0M427.9,367.1v9.4m-4.0,-4.7h8.0M428.3,367.4v9.4m-4.0,-4.7h8.0M429.1,368.1v9.4m-4.0,-4.7h8.0M429.5,368.5v9.4m-4.0,-4.7h8.0M430.1,369.0v9.4m-4.0,-4.7h8.0M430.5,369.3v9.4m-4.0,-4.7h8.0M431.1,369.8v9.4m-4.0,-4.7h8.0M431.8,370.4v9.4m-4.0,-4.7h8.0M432.1,370.7v9.4m-4.0,-4.7h8.0M433.0,371.5v9.4m-4.0,-4.7h8.0M433.6,371.9v9.4m-4.0,-4.7h8.0M434.2,372.5v9.4m-4.0,-4.7h8.0M434.9,373.0v9.4m-4.0,-4.7h8.0M435.4,373.5v9.4m-4.0,-4.7h8.0M435.9,373.9v9.4m-4.0,-4.7h8.0M436.6,374.5v9.4m-4.0,-4.7h8.0M437.2,375.1v9.4m-4.0,-4.7h8.0M437.7,375.5v9.4m-4.0,-4.7h8.0M438.4,376.1v9.4m-4.0,-4.7h8.0M438.9,376.5v9.4m-4.0,-4.7h8.0M439.2,376.8v9.4m-4.0,-4.7h8.0M439.7,377.2v9.4m-4.0,-4.7h8.0M440.0,377.5v9.4m-4.0,-4.7h8.0M440.4,377.8v9.4m-4.0,-4.7h8.0M441.2,378.5v9.4m-4.0,-4.7h8.0M441.7,378.9v9.4m-4.0,-4.7h8.0M442.6,379.6v9.4m-4.0,-4.7h8.0M443.3,380.2v9.4m-4.0,-4.7h8.0M443.7,380.5v9.4m-4.0,-4.7h8.0M444.6,381.3v9.4m-4.0,-4.7h8.0M445.5,382.0v9.4m-4.0,-4.7h8.0M445.9,382.3v9.4m-4.0,-4.7h8.0M446.8,383.0v9.4m-4.0,-4.7h8.0M447.4,383.4v9.4m-4.0,-4.7h8.0M448.0,383.9v9.4m-4.0,-4.7h8.0M449.0,384.5v9.4m-4.0,-4.7h8.0M449.4,384.9v9.4m-4.0,-4.7h8.0M450.1,385.4v9.4m-4.0,-4.7h8.0M451.1,386.0v9.4m-4.0,-4.7h8.0M451.9,386.6v9.4m-4.0,-4.7h8.0M452.5,387.0v9.4m-4.0,-4.7h8.0M453.5,387.6v9.4m-4.0,-4.7h8.0M454.4,388.2v9.4m-4.0,-4.7h8.0M455.1,388.7v9.4m-4.0,-4.7h8.0M455.6,388.9v9.4m-4.0,-4.7h8.0M456.3,389.4v9.4m-4.0,-4.7h8.0M457.0,389.8v9.4m-4.0,-4.7h8.0M457.5,390.1v9.4m-4.0,-4.7h8.0M457.8,390.3v9.4m-4.0,-4.7h8.0M458.5,390.8v9.4m-4.0,-4.7h8.0M459.0,391.0v9.4m-4.0,-4.7h8.0M459.6,391.4v9.4m-4.0,-4.7h8.0M460.4,391.9v9.4m-4.0,-4.7h8.0M461.1,392.3v9.4m-4.0,-4.7h8.0M461.6,392.6v9.4m-4.0,-4.7h8.0M462.4,393.0v9.4m-4.0,-4.7h8.0M463.0,393.4v9.4m-4.0,-4.7h8.0M463.9,393.9v9.4m-4.0,-4.7h8.0M464.6,394.3v9.4m-4.0,-4.7h8.0M465.6,394.9v9.4m-4.0,-4.7h8.0M466.6,395.5v9.4m-4.0,-4.7h8.0M467.5,395.9v9.4m-4.0,-4.7h8.0M468.0,396.2v9.4m-4.0,-4.7h8.0M468.4,396.5v9.4m-4.0,-4.7h8.0M469.4,397.0v9.4m-4.0,-4.7h8.0M470.3,397.6v9.4m-4.0,-4.7h8.0M471.1,398.0v9.4m-4.0,-4.7h8.0M471.7,398.3v9.4m-4.0,-4.7h8.0M472.2,398.7v9.4m-4.0,-4.7h8.0M473.0,399.1v9.4m-4.0,-4.7h8.0M473.8,399.6v9.4m-4.0,-4.7h8.0M474.5,400.0v9.4m-4.0,-4.7h8.0M475.3,400.5v9.4m-4.0,-4.7h8.0M476.1,401.0v9.4m-4.0,-4.7h8.0M476.6,401.3v9.4m-4.0,-4.7h8.0M477.1,401.6v9.4m-4.0,-4.7h8.0M478.1,402.2v9.4m-4.0,-4.7h8.0M479.1,402.8v9.4m-4.0,-4.7h8.0M480.0,403.4v9.4m-4.0,-4.7h8.0M480.4,403.6v9.4m-4.0,-4.7h8.0M480.8,403.9v9.4m-4.0,-4.7h8.0M481.3,404.2v9.4m-4.0,-4.7h8.0M481.9,404.6v9.4m-4.0,-4.7h8.0M482.7,405.1v9.4m-4.0,-4.7h8.0M483.1,405.3v9.4m-4.0,-4.7h8.0M483.8,405.8v9.4m-4.0,-4.7h8.0M484.2,406.0v9.4m-4.0,-4.7h8.0M484.6,406.3v9.4m-4.0,-4.7h8.0M485.4,406.8v9.4m-4.0,-4.7h8.0M486.1,407.2v9.4m-4.0,-4.7h8.0M486.9,407.7v9.4m-4.0,-4.7h8.0M487.5,408.1v9.4m-4.0,-4.7h8.0M488.1,408.5v9.4m-4.0,-4.7h8.0M488.6,408.8v9.4m-4.0,-4.7h8.0M489.2,409.1v9.4m-4.0,-4.7h8.0M490.0,409.7v9.4m-4.0,-4.7h8.0M490.9,410.2v9.4m-4.0,-4.7h8.0M491.3,410.5v9.4m-4.0,-4.7h8.0M491.8,410.7v9.4m-4.0,-4.7h8.0M492.7,411.2v9.4m-4.0,-4.7h8.0M493.4,411.7v9.4m-4.0,-4.7h8.0M494.3,412.2v9.4m-4.0,-4.7h8.0M494.8,412.5v9.4m-4.0,-4.7h8.0M495.4,412.9v9.4m-4.0,-4.7h8.0M496.0,413.2v9.4m-4.0,-4.7h8.0M496.9,413.7v9.4m-4.0,-4.7h8.0M497.5,414.0v9.4m-4.0,-4.7h8.0M498.3,414.4v9.4m-4.0,-4.7h8.0M499.4,415.0v9.4m-4.0,-4.7h8.0M500.0,415.3v9.4m-4.0,-4.7h8.0M500.7,415.7v9.4m-4.0,-4.7h8.0M501.6,416.1v9.4m-4.0,-4.7h8.0M502.6,416.6v9.4m-4.0,-4.7h8.0M503.3,416.9v9.4m-4.0,-4.7h8.0M503.9,417.2v9.4m-4.0,-4.7h8.0M504.4,417.4v9.4m-4.0,-4.7h8.0M505.4,417.8v9.4m-4.0,-4.7h8.0M505.8,418.0v9.4m-4.0,-4.7h8.0M506.2,418.2v9.4m-4.0,-4.7h8.0M507.0,418.6v9.4m-4.0,-4.7h8.0M507.7,418.9v9.4m-4.0,-4.7h8.0M508.6,419.3v9.4m-4.0,-4.7h8.0M509.2,419.5v9.4m-4.0,-4.7h8.0M510.1,419.9v9.4m-4.0,-4.7h8.0M510.5,420.1v9.4m-4.0,-4.7h8.0M511.1,420.3v9.4m-4.0,-4.7h8.0M511.9,420.7v9.4m-4.0,-4.7h8.0M512.4,420.9v9.4m-4.0,-4.7h8.0M512.9,421.1v9.4m-4.0,-4.7h8.0M513.9,421.5v9.4m-4.0,-4.7h8.0M514.7,421.8v9.4m-4.0,-4.7h8.0M515.3,422.1v9.4m-4.0,-4.7h8.0M515.8,422.3v9.4m-4.0,-4.7h8.0M516.4,422.5v9.4m-4.0,-4.7h8.0M517.3,422.9v9.4m-4.0,-4.7h8.0M518.0,423.2v9.4m-4.0,-4.7h8.0M518.4,423.3v9.4m-4.0,-4.7h8.0M519.3,423.7v9.4m-4.0,-4.7h8.0M520.4,424.2v9.4m-4.0,-4.7h8.0M521.4,424.6v9.4m-4.0,-4.7h8.0M522.5,425.1v9.4m-4.0,-4.7h8.0M524.0,425.7v9.4m-4.0,-4.7h8.0M525.5,426.3v9.4m-4.0,-4.7h8.0M526.5,426.8v9.4m-4.0,-4.7h8.0M528.0,427.4v9.4m-4.0,-4.7h8.0M528.6,427.7v9.4m-4.0,-4.7h8.0M530.1,428.4v9.4m-4.0,-4.7h8.0M531.5,429.0v9.4m-4.0,-4.7h8.0M532.5,429.5v9.4m-4.0,-4.7h8.0M532.9,429.7v9.4m-4.0,-4.7h8.0M534.3,430.4v9.4m-4.0,-4.7h8.0M535.1,430.7v9.4m-4.0,-4.7h8.0M535.8,431.1v9.4m-4.0,-4.7h8.0M537.3,431.8v9.4m-4.0,-4.7h8.0M537.6,431.9v9.4m-4.0,-4.7h8.0M538.7,432.4v9.4m-4.0,-4.7h8.0M539.3,432.7v9.4m-4.0,-4.7h8.0M540.7,433.3v9.4m-4.0,-4.7h8.0M541.2,433.5v9.4m-4.0,-4.7h8.0M541.7,433.7v9.4m-4.0,-4.7h8.0M542.6,434.1v9.4m-4.0,-4.7h8.0M543.4,434.5v9.4m-4.0,-4.7h8.0M544.7,435.0v9.4m-4.0,-4.7h8.0M545.3,435.3v9.4m-4.0,-4.7h8.0M546.0,435.5v9.4m-4.0,-4.7h8.0M546.6,435.8v9.4m-4.0,-4.7h8.0M547.6,436.2v9.4m-4.0,-4.7h8.0M548.1,436.3v9.4m-4.0,-4.7h8.0M549.1,436.7v9.4m-4.0,-4.7h8.0M550.5,437.1v9.4m-4.0,-4.7h8.0M551.7,437.5v9.4m-4.0,-4.7h8.0M552.3,437.7v9.4m-4.0,-4.7h8.0M553.3,437.9v9.4m-4.0,-4.7h8.0M553.7,438.1v9.4m-4.0,-4.7h8.0M554.6,438.3v9.4m-4.0,-4.7h8.0M555.9,438.6v9.4m-4.0,-4.7h8.0M556.2,438.7v9.4m-4.0,-4.7h8.0M557.4,439.0v9.4m-4.0,-4.7h8.0M558.9,439.4v9.4m-4.0,-4.7h8.0M559.6,439.6v9.4m-4.0,-4.7h8.0M560.3,439.9v9.4m-4.0,-4.7h8.0M561.5,440.3v9.4m-4.0,-4.7h8.0M562.0,440.4v9.4m-4.0,-4.7h8.0M562.6,440.7v9.4m-4.0,-4.7h8.0M563.7,441.1v9.4m-4.0,-4.7h8.0M564.6,441.6v9.4m-4.0,-4.7h8.0M565.1,441.8v9.4m-4.0,-4.7h8.0M565.6,442.1v9.4m-4.0,-4.7h8.0M566.5,442.5v9.4m-4.0,-4.7h8.0M567.8,443.3v9.4m-4.0,-4.7h8.0M568.3,443.5v9.4m-4.0,-4.7h8.0M569.4,444.2v9.4m-4.0,-4.7h8.0M570.3,444.7v9.4m-4.0,-4.7h8.0M570.9,445.0v9.4m-4.0,-4.7h8.0M571.7,445.5v9.4m-4.0,-4.7h8.0M572.9,446.2v9.4m-4.0,-4.7h8.0M573.3,446.4v9.4m-4.0,-4.7h8.0M574.3,446.9v9.4m-4.0,-4.7h8.0M575.1,447.3v9.4m-4.0,-4.7h8.0M575.5,447.5v9.4m-4.0,-4.7h8.0M576.4,447.8v9.4m-4.0,-4.7h8.0M576.9,448.0v9.4m-4.0,-4.7h8.0M577.7,448.3v9.4m-4.0,-4.7h8.0M578.0,448.4v9.4m-4.0,-4.7h8.0M579.0,448.8v9.4m-4.0,-4.7h8.0M580.4,449.2v9.4m-4.0,-4.7h8.0M581.9,449.5v9.4m-4.0,-4.7h8.0M583.4,449.9v9.4m-4.0,-4.7h8.0M584.1,450.1v9.4m-4.0,-4.7h8.0M585.4,450.4v9.4m-4.0,-4.7h8.0M586.2,450.7v9.4m-4.0,-4.7h8.0M587.4,451.1v9.4m-4.0,-4.7h8.0M588.3,451.4v9.4m-4.0,-4.7h8.0M589.6,451.9v9.4m-4.0,-4.7h8.0M590.4,452.2v9.4m-4.0,-4.7h8.0M591.9,452.8v9.4m-4.0,-4.7h8.0M592.8,453.2v9.4m-4.0,-4.7h8.0M594.1,453.7v9.4m-4.0,-4.7h8.0M594.6,453.9v9.4m-4.0,-4.7h8.0M595.8,454.4v9.4m-4.0,-4.7h8.0M596.4,454.7v9.4m-4.0,-4.7h8.0M597.2,455.0v9.4m-4.0,-4.7h8.0M598.0,455.4v9.4m-4.0,-4.7h8.0M599.1,455.9v9.4m-4.0,-4.7h8.0M600.8,456.6v9.4m-4.0,-4.7h8.0M602.2,457.2v9.4m-4.0,-4.7h8.0M604.0,458.0v9.4m-4.0,-4.7h8.0M605.8,458.7v9.4m-4.0,-4.7h8.0M607.5,459.4v9.4m-4.0,-4.7h8.0M609.3,460.1v9.4m-4.0,-4.7h8.0M609.7,460.2v9.4m-4.0,-4.7h8.0M611.8,460.9v9.4m-4.0,-4.7h8.0M613.2,461.3v9.4m-4.0,-4.7h8.0M615.1,462.0v9.4m-4.0,-4.7h8.0M615.7,462.1v9.4m-4.0,-4.7h8.0M616.9,462.5v9.4m-4.0,-4.7h8.0M618.8,463.0v9.4m-4.0,-4.7h8.0M620.9,463.6v9.4m-4.0,-4.7h8.0M622.4,464.0v9.4m-4.0,-4.7h8.0M624.3,464.6v9.4m-4.0,-4.7h8.0M624.6,464.7v9.4m-4.0,-4.7h8.0M625.1,464.8v9.4m-4.0,-4.7h8.0M625.8,465.0v9.4m-4.0,-4.7h8.0M627.7,465.6v9.4m-4.0,-4.7h8.0M629.3,466.0v9.4m-4.0,-4.7h8.0M630.4,466.4v9.4m-4.0,-4.7h8.0M632.4,467.0v9.4m-4.0,-4.7h8.0M633.6,467.3v9.4m-4.0,-4.7h8.0M634.1,467.5v9.4m-4.0,-4.7h8.0M636.1,468.2v9.4m-4.0,-4.7h8.0M637.8,468.7v9.4m-4.0,-4.7h8.0M639.9,469.5v9.4m-4.0,-4.7h8.0M641.6,470.1v9.4m-4.0,-4.7h8.0M642.8,470.5v9.4m-4.0,-4.7h8.0M644.7,471.3v9.4m-4.0,-4.7h8.0M645.1,471.4v9.4m-4.0,-4.7h8.0M645.4,471.5v9.4m-4.0,-4.7h8.0M646.1,471.8v9.4m-4.0,-4.7h8.0M648.1,472.6v9.4m-4.0,-4.7h8.0M648.5,472.7v9.4m-4.0,-4.7h8.0M650.2,473.4v9.4m-4.0,-4.7h8.0M651.4,473.8v9.4m-4.0,-4.7h8.0M651.9,474.0v9.4m-4.0,-4.7h8.0M652.5,474.3v9.4m-4.0,-4.7h8.0M654.1,474.9v9.4m-4.0,-4.7h8.0M655.1,475.2v9.4m-4.0,-4.7h8.0M656.9,475.9v9.4m-4.0,-4.7h8.0M657.3,476.0v9.4m-4.0,-4.7h8.0M658.6,476.5v9.4m-4.0,-4.7h8.0M660.4,477.1v9.4m-4.0,-4.7h8.0M661.1,477.4v9.4m-4.0,-4.7h8.0M661.9,477.6v9.4m-4.0,-4.7h8.0M663.2,478.1v9.4m-4.0,-4.7h8.0M663.8,478.3v9.4m-4.0,-4.7h8.0M665.3,478.8v9.4m-4.0,-4.7h8.0M667.2,479.4v9.4m-4.0,-4.7h8.0M668.1,479.7v9.4m-4.0,-4.7h8.0M668.7,479.9v9.4m-4.0,-4.7h8.0M670.6,480.5v9.4m-4.0,-4.7h8.0M670.9,480.6v9.4m-4.0,-4.7h8.0M672.8,481.2v9.4m-4.0,-4.7h8.0M673.8,481.5v9.4m-4.0,-4.7h8.0M675.6,482.1v9.4m-4.0,-4.7h8.0M676.5,482.4v9.4m-4.0,-4.7h8.0M678.6,483.1v9.4m-4.0,-4.7h8.0M680.1,483.6v9.4m-4.0,-4.7h8.0M681.4,484.0v9.4m-4.0,-4.7h8.0M681.8,484.2v9.4m-4.0,-4.7h8.0M683.1,484.6v9.4m-4.0,-4.7h8.0M683.8,484.9v9.4m-4.0,-4.7h8.0M685.4,485.5v9.4m-4.0,-4.7h8.0M686.2,485.8v9.4m-4.0,-4.7h8.0M686.9,486.0v9.4m-4.0,-4.7h8.0M687.4,486.2v9.4m-4.0,-4.7h8.0M688.1,486.5v9.4m-4.0,-4.7h8.0M688.5,486.7v9.4m-4.0,-4.7h8.0M689.3,487.0v9.4m-4.0,-4.7h8.0M690.5,487.5v9.4m-4.0,-4.7h8.0M692.3,488.3v9.4m-4.0,-4.7h8.0M694.0,489.0v9.4m-4.0,-4.7h8.0M694.9,489.3v9.4m-4.0,-4.7h8.0M696.8,490.1v9.4m-4.0,-4.7h8.0M697.7,490.5v9.4m-4.0,-4.7h8.0M698.7,490.9v9.4m-4.0,-4.7h8.0M700.0,491.4v9.4m-4.0,-4.7h8.0M699.5,491.2v9.4m-4.0,-4.7h8.0M702.3,492.2v9.4m-4.0,-4.7h8.0M703.3,492.5v9.4m-4.0,-4.7h8.0M705.1,493.1v9.4m-4.0,-4.7h8.0M706.2,493.5v9.4m-4.0,-4.7h8.0M708.3,494.1v9.4m-4.0,-4.7h8.0M709.8,494.4v9.4m-4.0,-4.7h8.0M710.5,494.6v9.4m-4.0,-4.7h8.0M712.0,494.8v9.4m-4.0,-4.7h8.0M714.9,495.3v9.4m-4.0,-4.7h8.0M714.9,495.2v9.4m-4.0,-4.7h8.0M717.8,495.6v9.4m-4.0,-4.7h8.0M718.3,495.7v9.4m-4.0,-4.7h8.0M719.5,495.8v9.4m-4.0,-4.7h8.0M721.4,496.1v9.4m-4.0,-4.7h8.0M722.7,496.2v9.4m-4.0,-4.7h8.0M724.0,496.4v9.4m-4.0,-4.7h8.0M725.7,496.7v9.4m-4.0,-4.7h8.0M727.6,496.9v9.4m-4.0,-4.7h8.0M729.0,497.1v9.4m-4.0,-4.7h8.0M730.8,497.4v9.4m-4.0,-4.7h8.0M731.5,497.5v9.4m-4.0,-4.7h8.0M733.8,497.8v9.4m-4.0,-4.7h8.0M735.9,498.2v9.4m-4.0,-4.7h8.0M737.3,498.4v9.4m-4.0,-4.7h8.0M738.3,498.6v9.4m-4.0,-4.7h8.0M740.8,499.2v9.4m-4.0,-4.7h8.0M742.2,499.6v9.4m-4.0,-4.7h8.0M743.2,499.8v9.4m-4.0,-4.7h8.0M745.6,500.5v9.4m-4.0,-4.7h8.0M746.3,500.6v9.4m-4.0,-4.7h8.0M748.7,501.2v9.4m-4.0,-4.7h8.0M750.0,501.6v9.4m-4.0,-4.7h8.0M751.7,502.0v9.4m-4.0,-4.7h8.0M753.6,502.5v9.4m-4.0,-4.7h8.0M755.1,502.8v9.4m-4.0,-4.7h8.0M755.6,503.0v9.4m-4.0,-4.7h8.0M758.7,503.7v9.4m-4.0,-4.7h8.0M763.4,504.9v9.4m-4.0,-4.7h8.0M765.2,505.4v9.4m-4.0,-4.7h8.0M766.0,505.6v9.4m-4.0,-4.7h8.0M768.2,506.1v9.4m-4.0,-4.7h8.0M769.3,506.4v9.4m-4.0,-4.7h8.0M771.9,507.0v9.4m-4.0,-4.7h8.0M772.8,507.2v9.4m-4.0,-4.7h8.0M774.8,507.7v9.4m-4.0,-4.7h8.0M776.6,508.2v9.4m-4.0,-4.7h8.0M777.8,508.5v9.4m-4.0,-4.7h8.0M778.7,508.7v9.4m-4.0,-4.7h8.0M781.3,509.4v9.4m-4.0,-4.7h8.0M782.6,509.7v9.4m-4.0,-4.7h8.0M783.9,510.1v9.4m-4.0,-4.7h8.0M785.6,510.6v9.4m-4.0,-4.7h8.0M787.5,511.0v9.4m-4.0,-4.7h8.0M788.2,511.2v9.4m-4.0,-4.7h8.0M789.8,511.6v9.4m-4.0,-4.7h8.0M792.4,512.3v9.4m-4.0,-4.7h8.0M794.2,512.6v9.4m-4.0,-4.7h8.0M795.3,512.9v9.4m-4.0,-4.7h8.0M797.8,513.3v9.4m-4.0,-4.7h8.0M798.1,513.4v9.4m-4.0,-4.7h8.0M800.3,513.8v9.4m-4.0,-4.7h8.0M800.7,513.9v9.4m-4.0,-4.7h8.0M802.8,514.2v9.4m-4.0,-4.7h8.0M803.7,514.3v9.4m-4.0,-4.7h8.0M805.4,514.6v9.4m-4.0,-4.7h8.0M811.7,515.3v9.4m-4.0,-4.7h8.0M812.6,515.4v9.4m-4.0,-4.7h8.0M815.1,515.5v9.4m-4.0,-4.7h8.0M816.6,515.6v9.4m-4.0,-4.7h8.0M817.7,515.6v9.4m-4.0,-4.7h8.0M819.0,515.7v9.4m-4.0,-4.7h8.0M820.8,515.7v9.4m-4.0,-4.7h8.0M823.3,515.8v9.4m-4.0,-4.7h8.0M824.3,515.9v9.4m-4.0,-4.7h8.0M827.2,516.0v9.4m-4.0,-4.7h8.0M828.0,516.1v9.4m-4.0,-4.7h8.0M831.6,516.4v9.4m-4.0,-4.7h8.0M832.9,516.6v9.4m-4.0,-4.7h8.0M835.6,517.0v9.4m-4.0,-4.7h8.0M836.6,517.1v9.4m-4.0,-4.7h8.0M838.6,517.5v9.4m-4.0,-4.7h8.0M841.2,517.9v9.4m-4.0,-4.7h8.0M842.0,518.1v9.4m-4.0,-4.7h8.0M848.5,519.3v9.4m-4.0,-4.7h8.0M850.3,519.6v9.4m-4.0,-4.7h8.0M851.5,519.9v9.4m-4.0,-4.7h8.0M852.7,520.1v9.4m-4.0,-4.7h8.0M854.8,520.5v9.4m-4.0,-4.7h8.0M862.1,522.1v9.4m-4.0,-4.7h8.0M862.2,522.1v9.4m-4.0,-4.7h8.0M864.8,522.6v9.4m-4.0,-4.7h8.0M865.7,522.8v9.4m-4.0,-4.7h8.0M867.5,523.1v9.4m-4.0,-4.7h8.0M869.8,523.5v9.4m-4.0,-4.7h8.0M871.2,523.8v9.4m-4.0,-4.7h8.0M872.4,524.0v9.4m-4.0,-4.7h8.0M874.1,524.4v9.4m-4.0,-4.7h8.0M875.7,524.7v9.4m-4.0,-4.7h8.0M878.2,525.3v9.4m-4.0,-4.7h8.0M879.3,525.6v9.4m-4.0,-4.7h8.0M881.1,526.2v9.4m-4.0,-4.7h8.0M881.9,526.5v9.4m-4.0,-4.7h8.0M886.7,527.7v9.4m-4.0,-4.7h8.0M888.3,527.9v9.4m-4.0,-4.7h8.0M889.4,527.9v9.4m-4.0,-4.7h8.0M892.3,528.0v9.4m-4.0,-4.7h8.0M893.6,528.0v9.4m-4.0,-4.7h8.0M895.9,528.0v9.4m-4.0,-4.7h8.0M897.1,528.0v9.4m-4.0,-4.7h8.0M897.8,528.0v9.4m-4.0,-4.7h8.0M900.3,528.0v9.4m-4.0,-4.7h8.0M905.3,528.1v9.4m-4.0,-4.7h8.0M906.2,528.1v9.4m-4.0,-4.7h8.0M906.6,528.1v9.4m-4.0,-4.7h8.0M908.5,528.1v9.4m-4.0,-4.7h8.0M912.9,529.3v9.4m-4.0,-4.7h8.0M914.6,530.8v9.4m-4.0,-4.7h8.0M917.0,531.3v9.4m-4.0,-4.7h8.0M919.8,531.5v9.4m-4.0,-4.7h8.0M920.2,531.5v9.4m-4.0,-4.7h8.0M921.6,531.5v9.4m-4.0,-4.7h8.0M923.3,531.6v9.4m-4.0,-4.7h8.0M925.7,531.6v9.4m-4.0,-4.7h8.0M926.6,531.6v9.4m-4.0,-4.7h8.0M927.7,531.7v9.4m-4.0,-4.7h8.0M929.8,531.7v9.4m-4.0,-4.7h8.0M931.9,531.9v9.4m-4.0,-4.7h8.0M932.1,531.9v9.4m-4.0,-4.7h8.0M937.2,534.8v9.4m-4.0,-4.7h8.0M938.9,535.8v9.4m-4.0,-4.7h8.0M945.8,536.6v9.4m-4.0,-4.7h8.0M948.3,536.6v9.4m-4.0,-4.7h8.0M950.8,536.6v9.4m-4.0,-4.7h8.0M960.0,536.6v9.4m-4.0,-4.7h8.0M961.7,536.6v9.4m-4.0,-4.7h8.0M963.3,536.6v9.4m-4.0,-4.7h8.0M965.0,536.6v9.4m-4.0,-4.7h8.0M970.8,536.6v9.4m-4.0,-4.7h8.0M973.3,536.6v9.4m-4.0,-4.7h8.0M975.0,536.6v9.4m-4.0,-4.7h8.0M976.6,536.6v9.4m-4.0,-4.7h8.0M978.3,536.6v9.4m-4.0,-4.7h8.0M980.0,536.6v9.4m-4.0,-4.7h8.0M981.6,536.6v9.4m-4.0,-4.7h8.0M983.3,536.6v9.4m-4.0,-4.7h8.0M985.0,536.6v9.4m-4.0,-4.7h8.0M986.7,536.6v9.4m-4.0,-4.7h8.0M992.5,536.6v9.4m-4.0,-4.7h8.0M1001.7,536.6v9.4m-4.0,-4.7h8.0M1003.4,536.6v9.4m-4.0,-4.7h8.0M1005.0,536.6v9.4m-4.0,-4.7h8.0M1007.5,536.6v9.4m-4.0,-4.7h8.0M1010.0,536.6v9.4m-4.0,-4.7h8.0M1011.7,536.6v9.4m-4.0,-4.7h8.0M1013.4,536.6v9.4m-4.0,-4.7h8.0M1016.7,536.6v9.4m-4.0,-4.7h8.0M1021.7,536.6v9.4m-4.0,-4.7h8.0" fill="none" stroke="#6E8427" stroke-width="1.1"/>
<text x="483" y="43.5" font-size="16.55" fill="#1a1a1a" xml:space="preserve"><tspan fill="#1B4380">ABE + AI</tspan> versus <tspan fill="#6E8427">PAL + AI</tspan>: HR 0.99, 95% CI 0.90-1.09, <tspan font-style="italic" dx="2">P</tspan> = 0.8405</text>
<text x="483" y="63.3" font-size="16.55" fill="#1a1a1a" xml:space="preserve"><tspan fill="#A3212B">RIB + AI</tspan> versus <tspan fill="#6E8427">PAL + AI</tspan>: HR 0.97, 95% CI 0.89-1.07, <tspan font-style="italic" dx="2">P</tspan> = 0.5819</text>
<text x="483" y="83.1" font-size="16.55" fill="#1a1a1a" xml:space="preserve"><tspan fill="#1B4380">ABE + AI</tspan> versus <tspan fill="#A3212B">RIB + AI</tspan>: HR 1.02, 95% CI 0.90-1.15, <tspan font-style="italic" dx="2">P</tspan> = 0.7984</text>
<text x="208.3" y="540.0" font-size="16.4" fill="#000" font-weight="bold">Median rwPFS</text>
<text x="208.3" y="560.4" font-size="16.4" fill="#000" font-weight="bold">(95% CI), months</text>
<text x="120.0" y="584.8" font-size="16.5" fill="#1B4380">ABE + AI</text>
<text x="208.3" y="584.8" font-size="16.5" fill="#1a1a1a">22.3 (19.9-25.5)</text>
<text x="120.0" y="604.8" font-size="16.5" fill="#A3212B">RIB + AI</text>
<text x="208.3" y="604.8" font-size="16.5" fill="#1a1a1a">22.9 (21.0-25.7)</text>
<text x="120.0" y="624.8" font-size="16.5" fill="#6E8427">PAL + AI</text>
<text x="208.3" y="624.8" font-size="16.5" fill="#1a1a1a">22.9 (21.8-24.1)</text>
<text x="44.7" y="736.7" font-size="16.2" fill="#1B4380">ABE + AI</text>
<text x="152.9" y="736.7" font-size="15.8" fill="#1B4380" text-anchor="middle">1036</text>
<text x="211.9" y="736.7" font-size="15.8" fill="#1B4380" text-anchor="middle">732</text>
<text x="270.9" y="736.7" font-size="15.8" fill="#1B4380" text-anchor="middle">472</text>
<text x="329.9" y="736.7" font-size="15.8" fill="#1B4380" text-anchor="middle">318</text>
<text x="388.8" y="736.7" font-size="15.8" fill="#1B4380" text-anchor="middle">209</text>
<text x="447.8" y="736.7" font-size="15.8" fill="#1B4380" text-anchor="middle">144</text>
<text x="506.8" y="736.7" font-size="15.8" fill="#1B4380" text-anchor="middle">105</text>
<text x="565.8" y="736.7" font-size="15.8" fill="#1B4380" text-anchor="middle">64</text>
<text x="624.8" y="736.7" font-size="15.8" fill="#1B4380" text-anchor="middle">45</text>
<text x="683.8" y="736.7" font-size="15.8" fill="#1B4380" text-anchor="middle">34</text>
<text x="742.8" y="736.7" font-size="15.8" fill="#1B4380" text-anchor="middle">19</text>
<text x="801.7" y="736.7" font-size="15.8" fill="#1B4380" text-anchor="middle">10</text>
<text x="860.7" y="736.7" font-size="15.8" fill="#1B4380" text-anchor="middle">1</text>
<text x="919.7" y="736.7" font-size="15.8" fill="#1B4380" text-anchor="middle">0</text>
<text x="44.7" y="760.2" font-size="16.2" fill="#A3212B">RIB + AI</text>
<text x="152.9" y="760.2" font-size="15.8" fill="#A3212B" text-anchor="middle">1279</text>
<text x="211.9" y="760.2" font-size="15.8" fill="#A3212B" text-anchor="middle">880</text>
<text x="270.9" y="760.2" font-size="15.8" fill="#A3212B" text-anchor="middle">494</text>
<text x="329.9" y="760.2" font-size="15.8" fill="#A3212B" text-anchor="middle">288</text>
<text x="388.8" y="760.2" font-size="15.8" fill="#A3212B" text-anchor="middle">181</text>
<text x="447.8" y="760.2" font-size="15.8" fill="#A3212B" text-anchor="middle">130</text>
<text x="506.8" y="760.2" font-size="15.8" fill="#A3212B" text-anchor="middle">101</text>
<text x="565.8" y="760.2" font-size="15.8" fill="#A3212B" text-anchor="middle">80</text>
<text x="624.8" y="760.2" font-size="15.8" fill="#A3212B" text-anchor="middle">60</text>
<text x="683.8" y="760.2" font-size="15.8" fill="#A3212B" text-anchor="middle">43</text>
<text x="742.8" y="760.2" font-size="15.8" fill="#A3212B" text-anchor="middle">28</text>
<text x="801.7" y="760.2" font-size="15.8" fill="#A3212B" text-anchor="middle">20</text>
<text x="860.7" y="760.2" font-size="15.8" fill="#A3212B" text-anchor="middle">13</text>
<text x="919.7" y="760.2" font-size="15.8" fill="#A3212B" text-anchor="middle">3</text>
<text x="978.7" y="760.2" font-size="15.8" fill="#A3212B" text-anchor="middle">1</text>
<text x="1037.7" y="760.2" font-size="15.8" fill="#A3212B" text-anchor="middle">0</text>
<text x="44.7" y="783.7" font-size="16.2" fill="#6E8427">PAL + AI</text>
<text x="152.9" y="783.7" font-size="15.8" fill="#6E8427" text-anchor="middle">5735</text>
<text x="211.9" y="783.7" font-size="15.8" fill="#6E8427" text-anchor="middle">4422</text>
<text x="270.9" y="783.7" font-size="15.8" fill="#6E8427" text-anchor="middle">3308</text>
<text x="329.9" y="783.7" font-size="15.8" fill="#6E8427" text-anchor="middle">2487</text>
<text x="388.8" y="783.7" font-size="15.8" fill="#6E8427" text-anchor="middle">1887</text>
<text x="447.8" y="783.7" font-size="15.8" fill="#6E8427" text-anchor="middle">1394</text>
<text x="506.8" y="783.7" font-size="15.8" fill="#6E8427" text-anchor="middle">1008</text>
<text x="565.8" y="783.7" font-size="15.8" fill="#6E8427" text-anchor="middle">769</text>
<text x="624.8" y="783.7" font-size="15.8" fill="#6E8427" text-anchor="middle">551</text>
<text x="683.8" y="783.7" font-size="15.8" fill="#6E8427" text-anchor="middle">395</text>
<text x="742.8" y="783.7" font-size="15.8" fill="#6E8427" text-anchor="middle">280</text>
<text x="801.7" y="783.7" font-size="15.8" fill="#6E8427" text-anchor="middle">181</text>
<text x="860.7" y="783.7" font-size="15.8" fill="#6E8427" text-anchor="middle">115</text>
<text x="919.7" y="783.7" font-size="15.8" fill="#6E8427" text-anchor="middle">56</text>
<text x="978.7" y="783.7" font-size="15.8" fill="#6E8427" text-anchor="middle">22</text>
<text x="1037.7" y="783.7" font-size="15.8" fill="#6E8427" text-anchor="middle">0</text>
</g>
<g transform="translate(0,796)">
<path d="M108,29.2V642.17H1080" fill="none" stroke="#666" stroke-width="1.7"/>
<path d="M97.5,630.8H108M97.5,512.9H108M97.5,395.1H108M97.5,277.2H108M97.5,159.4H108M97.5,41.5H108M156.0,642V651.7M214.8,642V651.7M273.6,642V651.7M332.4,642V651.7M391.2,642V651.7M450.0,642V651.7M508.8,642V651.7M567.6,642V651.7M626.4,642V651.7M685.2,642V651.7M744.0,642V651.7M802.8,642V651.7M861.6,642V651.7M920.4,642V651.7M979.2,642V651.7M1038.0,642V651.7" fill="none" stroke="#333" stroke-width="1.2"/>
<text x="90.5" y="637.7" font-size="20" fill="#1a1a1a" text-anchor="end">0</text>
<text x="90.5" y="519.8" font-size="20" fill="#1a1a1a" text-anchor="end">20</text>
<text x="90.5" y="402.0" font-size="20" fill="#1a1a1a" text-anchor="end">40</text>
<text x="90.5" y="284.1" font-size="20" fill="#1a1a1a" text-anchor="end">60</text>
<text x="90.5" y="166.3" font-size="20" fill="#1a1a1a" text-anchor="end">80</text>
<text x="90.5" y="48.4" font-size="20" fill="#1a1a1a" text-anchor="end">100</text>
<text x="156.0" y="675.6" font-size="20" fill="#1a1a1a" text-anchor="middle">0</text>
<text x="214.8" y="675.6" font-size="20" fill="#1a1a1a" text-anchor="middle">6</text>
<text x="273.6" y="675.6" font-size="20" fill="#1a1a1a" text-anchor="middle">12</text>
<text x="332.4" y="675.6" font-size="20" fill="#1a1a1a" text-anchor="middle">18</text>
<text x="391.2" y="675.6" font-size="20" fill="#1a1a1a" text-anchor="middle">24</text>
<text x="450.0" y="675.6" font-size="20" fill="#1a1a1a" text-anchor="middle">30</text>
<text x="508.8" y="675.6" font-size="20" fill="#1a1a1a" text-anchor="middle">36</text>
<text x="567.6" y="675.6" font-size="20" fill="#1a1a1a" text-anchor="middle">42</text>
<text x="626.4" y="675.6" font-size="20" fill="#1a1a1a" text-anchor="middle">48</text>
<text x="685.2" y="675.6" font-size="20" fill="#1a1a1a" text-anchor="middle">54</text>
<text x="744.0" y="675.6" font-size="20" fill="#1a1a1a" text-anchor="middle">60</text>
<text x="802.8" y="675.6" font-size="20" fill="#1a1a1a" text-anchor="middle">66</text>
<text x="861.6" y="675.6" font-size="20" fill="#1a1a1a" text-anchor="middle">72</text>
<text x="920.4" y="675.6" font-size="20" fill="#1a1a1a" text-anchor="middle">78</text>
<text x="979.2" y="675.6" font-size="20" fill="#1a1a1a" text-anchor="middle">84</text>
<text x="1038.0" y="675.6" font-size="20" fill="#1a1a1a" text-anchor="middle">90</text>
<text x="593.3" y="703.3" font-size="20" fill="#1a1a1a" text-anchor="middle">Time, months</text>
<text transform="translate(35.3,335.9) rotate(-90)" font-size="20.7" fill="#1a1a1a" text-anchor="middle">rwPFS probability, %</text>
<text x="0.2" y="29.4" font-size="34.6" fill="#000" font-weight="bold">B</text>
<path d="M156.0,41.3L159.0,43.6L162.0,46.5L165.0,49.9L168.0,53.7L170.9,58.1L173.9,63.5L176.9,69.1L179.9,74.5L182.9,80.0L185.9,85.5L188.9,91.1L191.9,97.0L194.9,102.9L197.8,108.9L200.8,115.1L203.8,121.2L206.8,127.0L209.8,132.3L212.8,137.3L215.8,142.0L218.8,146.7L221.8,151.3L224.7,155.6L227.7,159.9L230.7,164.2L233.7,168.5L236.7,173.0L239.7,177.8L242.7,182.9L245.7,188.2L248.7,193.5L251.6,198.7L254.6,203.4L257.6,207.8L260.6,212.0L263.6,216.0L266.6,219.9L269.6,223.5L272.6,226.9L275.6,230.2L278.5,233.3L281.5,236.3L284.5,239.5L287.5,242.7L290.5,246.0L293.5,249.3L296.5,252.7L299.5,256.2L302.5,259.7L305.4,263.6L308.4,268.4L311.4,273.4L314.4,278.2L317.4,282.9L320.4,287.0L323.4,290.4L326.4,293.3L329.4,295.8L332.3,298.1L335.3,300.2L338.3,302.1L341.3,303.8L344.3,305.5L347.3,307.6L350.3,309.8L353.3,312.1L356.3,314.5L359.2,316.9L362.2,319.5L365.2,322.2L368.2,325.0L371.2,327.8L374.2,330.2L377.2,332.4L380.2,334.5L383.2,336.5L386.1,338.4L389.1,340.3L392.1,342.2L395.1,344.1L398.1,345.9L401.1,347.8L404.1,350.1L407.1,353.1L410.1,356.7L413.0,360.2L416.0,363.9L419.0,367.0L422.0,369.7L425.0,372.0H436.7V377.5H448.3V381.5H458.3V385.0H466.7V389.2H475.0V393.3H483.3V399.2H488.3V402.5H500.0V403.3H505.0V406.7H530.0V408.3H533.3V414.2H536.7V420.0H543.3V423.3H550.0V429.2H555.0V431.7H562.5V432.5H566.7V437.5H573.3V440.8H579.0V442.5H590.0V445.0H608.0V450.0H665.8V457.5H679.5V462.5H711.0V467.5H716.3V476.5H732.0V481.8H747.0V491.3H801.5V503.7H867.5" fill="none" stroke="#1B4380" stroke-width="2.0" stroke-linejoin="miter"/>
<path d="M156.4,36.9v9.4m-4.0,-4.7h8.0M157.5,37.8v9.4m-4.0,-4.7h8.0M158.6,38.6v9.4m-4.0,-4.7h8.0M159.0,38.9v9.4m-4.0,-4.7h8.0M159.2,39.1v9.4m-4.0,-4.7h8.0M159.8,39.7v9.4m-4.0,-4.7h8.0M160.3,40.2v9.4m-4.0,-4.7h8.0M161.5,41.3v9.4m-4.0,-4.7h8.0M162.5,42.4v9.4m-4.0,-4.7h8.0M163.3,43.3v9.4m-4.0,-4.7h8.0M164.1,44.2v9.4m-4.0,-4.7h8.0M165.0,45.3v9.4m-4.0,-4.7h8.0M165.3,45.6v9.4m-4.0,-4.7h8.0M165.9,46.4v9.4m-4.0,-4.7h8.0M166.2,46.8v9.4m-4.0,-4.7h8.0M167.4,48.2v9.4m-4.0,-4.7h8.0M167.6,48.5v9.4m-4.0,-4.7h8.0M168.5,49.8v9.4m-4.0,-4.7h8.0M168.7,50.1v9.4m-4.0,-4.7h8.0M169.5,51.3v9.4m-4.0,-4.7h8.0M170.0,52.0v9.4m-4.0,-4.7h8.0M170.5,52.8v9.4m-4.0,-4.7h8.0M171.4,54.2v9.4m-4.0,-4.7h8.0M171.5,54.4v9.4m-4.0,-4.7h8.0M171.7,54.7v9.4m-4.0,-4.7h8.0M172.6,56.3v9.4m-4.0,-4.7h8.0M173.1,57.3v9.4m-4.0,-4.7h8.0M173.3,57.6v9.4m-4.0,-4.7h8.0M174.2,59.3v9.4m-4.0,-4.7h8.0M175.1,61.0v9.4m-4.0,-4.7h8.0M175.3,61.4v9.4m-4.0,-4.7h8.0M175.8,62.2v9.4m-4.0,-4.7h8.0M176.0,62.6v9.4m-4.0,-4.7h8.0M176.3,63.3v9.4m-4.0,-4.7h8.0M177.0,64.5v9.4m-4.0,-4.7h8.0M177.2,64.9v9.4m-4.0,-4.7h8.0M177.9,66.2v9.4m-4.0,-4.7h8.0M178.0,66.4v9.4m-4.0,-4.7h8.0M178.3,66.9v9.4m-4.0,-4.7h8.0M179.1,68.4v9.4m-4.0,-4.7h8.0M179.5,69.2v9.4m-4.0,-4.7h8.0M180.0,70.0v9.4m-4.0,-4.7h8.0M180.6,71.1v9.4m-4.0,-4.7h8.0M181.1,72.0v9.4m-4.0,-4.7h8.0M181.6,72.8v9.4m-4.0,-4.7h8.0M181.7,73.1v9.4m-4.0,-4.7h8.0M182.4,74.4v9.4m-4.0,-4.7h8.0M183.3,76.1v9.4m-4.0,-4.7h8.0M184.3,77.8v9.4m-4.0,-4.7h8.0M184.9,79.0v9.4m-4.0,-4.7h8.0M185.3,79.7v9.4m-4.0,-4.7h8.0M185.7,80.5v9.4m-4.0,-4.7h8.0M186.4,81.8v9.4m-4.0,-4.7h8.0M187.1,83.0v9.4m-4.0,-4.7h8.0M187.3,83.4v9.4m-4.0,-4.7h8.0M187.6,83.9v9.4m-4.0,-4.7h8.0M188.0,84.7v9.4m-4.0,-4.7h8.0M188.5,85.7v9.4m-4.0,-4.7h8.0M189.2,87.1v9.4m-4.0,-4.7h8.0M189.7,88.1v9.4m-4.0,-4.7h8.0M189.9,88.4v9.4m-4.0,-4.7h8.0M190.6,89.8v9.4m-4.0,-4.7h8.0M191.1,90.7v9.4m-4.0,-4.7h8.0M191.6,91.7v9.4m-4.0,-4.7h8.0M191.9,92.3v9.4m-4.0,-4.7h8.0M192.3,93.1v9.4m-4.0,-4.7h8.0M192.7,93.9v9.4m-4.0,-4.7h8.0M193.4,95.4v9.4m-4.0,-4.7h8.0M193.6,95.7v9.4m-4.0,-4.7h8.0M194.1,96.8v9.4m-4.0,-4.7h8.0M194.4,97.3v9.4m-4.0,-4.7h8.0M195.0,98.5v9.4m-4.0,-4.7h8.0M195.1,98.8v9.4m-4.0,-4.7h8.0M195.5,99.4v9.4m-4.0,-4.7h8.0M195.8,100.2v9.4m-4.0,-4.7h8.0M196.4,101.4v9.4m-4.0,-4.7h8.0M196.6,101.6v9.4m-4.0,-4.7h8.0M197.0,102.6v9.4m-4.0,-4.7h8.0M197.3,103.1v9.4m-4.0,-4.7h8.0M197.6,103.7v9.4m-4.0,-4.7h8.0M198.1,104.7v9.4m-4.0,-4.7h8.0M198.9,106.4v9.4m-4.0,-4.7h8.0M199.4,107.4v9.4m-4.0,-4.7h8.0M200.2,109.1v9.4m-4.0,-4.7h8.0M200.4,109.5v9.4m-4.0,-4.7h8.0M201.2,111.2v9.4m-4.0,-4.7h8.0M201.6,112.0v9.4m-4.0,-4.7h8.0M201.9,112.5v9.4m-4.0,-4.7h8.0M202.5,113.9v9.4m-4.0,-4.7h8.0M203.3,115.5v9.4m-4.0,-4.7h8.0M203.4,115.7v9.4m-4.0,-4.7h8.0M203.7,116.3v9.4m-4.0,-4.7h8.0M204.4,117.7v9.4m-4.0,-4.7h8.0M204.8,118.5v9.4m-4.0,-4.7h8.0M205.1,119.0v9.4m-4.0,-4.7h8.0M205.2,119.2v9.4m-4.0,-4.7h8.0M205.4,119.5v9.4m-4.0,-4.7h8.0M206.0,120.7v9.4m-4.0,-4.7h8.0M206.9,122.4v9.4m-4.0,-4.7h8.0M207.8,124.1v9.4m-4.0,-4.7h8.0M208.4,125.1v9.4m-4.0,-4.7h8.0M208.5,125.3v9.4m-4.0,-4.7h8.0M208.9,126.0v9.4m-4.0,-4.7h8.0M209.7,127.4v9.4m-4.0,-4.7h8.0M210.6,128.8v9.4m-4.0,-4.7h8.0M211.2,130.0v9.4m-4.0,-4.7h8.0M211.6,130.5v9.4m-4.0,-4.7h8.0M212.2,131.5v9.4m-4.0,-4.7h8.0M212.7,132.4v9.4m-4.0,-4.7h8.0M213.4,133.5v9.4m-4.0,-4.7h8.0M213.8,134.1v9.4m-4.0,-4.7h8.0M214.8,135.7v9.4m-4.0,-4.7h8.0M215.7,137.2v9.4m-4.0,-4.7h8.0M216.0,137.7v9.4m-4.0,-4.7h8.0M216.4,138.3v9.4m-4.0,-4.7h8.0M217.3,139.8v9.4m-4.0,-4.7h8.0M217.7,140.4v9.4m-4.0,-4.7h8.0M218.7,141.9v9.4m-4.0,-4.7h8.0M219.3,142.9v9.4m-4.0,-4.7h8.0M220.1,144.1v9.4m-4.0,-4.7h8.0M220.9,145.3v9.4m-4.0,-4.7h8.0M221.3,145.8v9.4m-4.0,-4.7h8.0M221.7,146.4v9.4m-4.0,-4.7h8.0M222.0,147.0v9.4m-4.0,-4.7h8.0M222.8,148.1v9.4m-4.0,-4.7h8.0M223.6,149.3v9.4m-4.0,-4.7h8.0M223.9,149.7v9.4m-4.0,-4.7h8.0M224.9,151.2v9.4m-4.0,-4.7h8.0M225.5,152.0v9.4m-4.0,-4.7h8.0M225.8,152.5v9.4m-4.0,-4.7h8.0M226.4,153.3v9.4m-4.0,-4.7h8.0M227.5,154.9v9.4m-4.0,-4.7h8.0M228.2,155.9v9.4m-4.0,-4.7h8.0M229.0,157.0v9.4m-4.0,-4.7h8.0M230.0,158.5v9.4m-4.0,-4.7h8.0M231.1,160.0v9.4m-4.0,-4.7h8.0M232.0,161.3v9.4m-4.0,-4.7h8.0M232.5,162.1v9.4m-4.0,-4.7h8.0M233.2,163.1v9.4m-4.0,-4.7h8.0M234.2,164.6v9.4m-4.0,-4.7h8.0M235.1,166.0v9.4m-4.0,-4.7h8.0M235.8,167.0v9.4m-4.0,-4.7h8.0M236.3,167.7v9.4m-4.0,-4.7h8.0M236.8,168.4v9.4m-4.0,-4.7h8.0M237.6,169.7v9.4m-4.0,-4.7h8.0M238.2,170.7v9.4m-4.0,-4.7h8.0M238.4,170.9v9.4m-4.0,-4.7h8.0M239.1,172.2v9.4m-4.0,-4.7h8.0M240.1,173.7v9.4m-4.0,-4.7h8.0M240.9,175.1v9.4m-4.0,-4.7h8.0M241.8,176.7v9.4m-4.0,-4.7h8.0M242.7,178.3v9.4m-4.0,-4.7h8.0M243.3,179.3v9.4m-4.0,-4.7h8.0M244.1,180.7v9.4m-4.0,-4.7h8.0M244.5,181.4v9.4m-4.0,-4.7h8.0M244.7,181.8v9.4m-4.0,-4.7h8.0M245.1,182.5v9.4m-4.0,-4.7h8.0M245.5,183.2v9.4m-4.0,-4.7h8.0M246.4,184.8v9.4m-4.0,-4.7h8.0M247.1,186.1v9.4m-4.0,-4.7h8.0M247.7,187.1v9.4m-4.0,-4.7h8.0M248.3,188.2v9.4m-4.0,-4.7h8.0M248.6,188.6v9.4m-4.0,-4.7h8.0M249.1,189.6v9.4m-4.0,-4.7h8.0M249.9,190.9v9.4m-4.0,-4.7h8.0M250.3,191.7v9.4m-4.0,-4.7h8.0M250.7,192.2v9.4m-4.0,-4.7h8.0M251.1,193.1v9.4m-4.0,-4.7h8.0M251.5,193.7v9.4m-4.0,-4.7h8.0M252.3,195.0v9.4m-4.0,-4.7h8.0M252.5,195.3v9.4m-4.0,-4.7h8.0M252.7,195.7v9.4m-4.0,-4.7h8.0M253.1,196.3v9.4m-4.0,-4.7h8.0M253.9,197.6v9.4m-4.0,-4.7h8.0M254.7,198.9v9.4m-4.0,-4.7h8.0M255.5,200.0v9.4m-4.0,-4.7h8.0M256.5,201.6v9.4m-4.0,-4.7h8.0M257.0,202.3v9.4m-4.0,-4.7h8.0M257.2,202.5v9.4m-4.0,-4.7h8.0M257.8,203.4v9.4m-4.0,-4.7h8.0M258.4,204.2v9.4m-4.0,-4.7h8.0M258.7,204.6v9.4m-4.0,-4.7h8.0M259.5,205.8v9.4m-4.0,-4.7h8.0M260.0,206.4v9.4m-4.0,-4.7h8.0M260.3,207.0v9.4m-4.0,-4.7h8.0M260.8,207.6v9.4m-4.0,-4.7h8.0M261.9,209.1v9.4m-4.0,-4.7h8.0M262.1,209.3v9.4m-4.0,-4.7h8.0M262.6,210.0v9.4m-4.0,-4.7h8.0M263.0,210.5v9.4m-4.0,-4.7h8.0M263.4,211.0v9.4m-4.0,-4.7h8.0M264.0,211.8v9.4m-4.0,-4.7h8.0M264.3,212.3v9.4m-4.0,-4.7h8.0M265.5,213.7v9.4m-4.0,-4.7h8.0M266.1,214.6v9.4m-4.0,-4.7h8.0M267.0,215.7v9.4m-4.0,-4.7h8.0M267.4,216.1v9.4m-4.0,-4.7h8.0M268.0,216.9v9.4m-4.0,-4.7h8.0M268.8,217.9v9.4m-4.0,-4.7h8.0M269.9,219.2v9.4m-4.0,-4.7h8.0M270.4,219.7v9.4m-4.0,-4.7h8.0M271.0,220.5v9.4m-4.0,-4.7h8.0M272.2,221.8v9.4m-4.0,-4.7h8.0M273.3,223.0v9.4m-4.0,-4.7h8.0M273.7,223.5v9.4m-4.0,-4.7h8.0M274.5,224.3v9.4m-4.0,-4.7h8.0M275.6,225.5v9.4m-4.0,-4.7h8.0M276.2,226.1v9.4m-4.0,-4.7h8.0M277.2,227.2v9.4m-4.0,-4.7h8.0M278.2,228.1v9.4m-4.0,-4.7h8.0M279.5,229.5v9.4m-4.0,-4.7h8.0M280.3,230.4v9.4m-4.0,-4.7h8.0M281.3,231.4v9.4m-4.0,-4.7h8.0M281.9,232.0v9.4m-4.0,-4.7h8.0M282.9,233.1v9.4m-4.0,-4.7h8.0M283.5,233.7v9.4m-4.0,-4.7h8.0M284.2,234.5v9.4m-4.0,-4.7h8.0M284.8,235.1v9.4m-4.0,-4.7h8.0M285.3,235.7v9.4m-4.0,-4.7h8.0M285.6,236.0v9.4m-4.0,-4.7h8.0M286.1,236.5v9.4m-4.0,-4.7h8.0M286.9,237.3v9.4m-4.0,-4.7h8.0M287.3,237.8v9.4m-4.0,-4.7h8.0M287.5,238.0v9.4m-4.0,-4.7h8.0M288.6,239.2v9.4m-4.0,-4.7h8.0M289.1,239.8v9.4m-4.0,-4.7h8.0M290.4,241.2v9.4m-4.0,-4.7h8.0M291.2,242.1v9.4m-4.0,-4.7h8.0M291.8,242.8v9.4m-4.0,-4.7h8.0M293.0,244.1v9.4m-4.0,-4.7h8.0M294.2,245.4v9.4m-4.0,-4.7h8.0M294.7,246.0v9.4m-4.0,-4.7h8.0M295.0,246.3v9.4m-4.0,-4.7h8.0M295.9,247.4v9.4m-4.0,-4.7h8.0M297.0,248.6v9.4m-4.0,-4.7h8.0M297.8,249.6v9.4m-4.0,-4.7h8.0M298.9,250.8v9.4m-4.0,-4.7h8.0M299.5,251.5v9.4m-4.0,-4.7h8.0M301.1,253.4v9.4m-4.0,-4.7h8.0M302.9,255.6v9.4m-4.0,-4.7h8.0M304.0,257.0v9.4m-4.0,-4.7h8.0M305.2,258.6v9.4m-4.0,-4.7h8.0M306.6,260.7v9.4m-4.0,-4.7h8.0M307.5,262.2v9.4m-4.0,-4.7h8.0M308.0,263.0v9.4m-4.0,-4.7h8.0M309.0,264.6v9.4m-4.0,-4.7h8.0M309.6,265.7v9.4m-4.0,-4.7h8.0M310.8,267.7v9.4m-4.0,-4.7h8.0M312.0,269.7v9.4m-4.0,-4.7h8.0M313.5,272.1v9.4m-4.0,-4.7h8.0M313.8,272.6v9.4m-4.0,-4.7h8.0M314.1,273.0v9.4m-4.0,-4.7h8.0M315.6,275.4v9.4m-4.0,-4.7h8.0M316.9,277.3v9.4m-4.0,-4.7h8.0M318.6,279.8v9.4m-4.0,-4.7h8.0M320.1,281.9v9.4m-4.0,-4.7h8.0M322.0,284.1v9.4m-4.0,-4.7h8.0M322.5,284.7v9.4m-4.0,-4.7h8.0M323.1,285.4v9.4m-4.0,-4.7h8.0M324.5,286.8v9.4m-4.0,-4.7h8.0M326.2,288.4v9.4m-4.0,-4.7h8.0M326.7,288.9v9.4m-4.0,-4.7h8.0M329.0,290.8v9.4m-4.0,-4.7h8.0M329.7,291.4v9.4m-4.0,-4.7h8.0M330.4,291.9v9.4m-4.0,-4.7h8.0M331.6,292.8v9.4m-4.0,-4.7h8.0M332.3,293.4v9.4m-4.0,-4.7h8.0M332.7,293.7v9.4m-4.0,-4.7h8.0M333.2,294.0v9.4m-4.0,-4.7h8.0M333.6,294.3v9.4m-4.0,-4.7h8.0M334.2,294.7v9.4m-4.0,-4.7h8.0M336.0,295.9v9.4m-4.0,-4.7h8.0M338.1,297.2v9.4m-4.0,-4.7h8.0M340.2,298.4v9.4m-4.0,-4.7h8.0M341.5,299.2v9.4m-4.0,-4.7h8.0M343.5,300.4v9.4m-4.0,-4.7h8.0M344.1,300.7v9.4m-4.0,-4.7h8.0M346.3,302.2v9.4m-4.0,-4.7h8.0M347.5,303.0v9.4m-4.0,-4.7h8.0M348.1,303.4v9.4m-4.0,-4.7h8.0M349.2,304.3v9.4m-4.0,-4.7h8.0M349.9,304.8v9.4m-4.0,-4.7h8.0M351.7,306.2v9.4m-4.0,-4.7h8.0M352.8,307.0v9.4m-4.0,-4.7h8.0M353.1,307.3v9.4m-4.0,-4.7h8.0M353.8,307.8v9.4m-4.0,-4.7h8.0M354.2,308.2v9.4m-4.0,-4.7h8.0M356.5,310.0v9.4m-4.0,-4.7h8.0M357.6,310.9v9.4m-4.0,-4.7h8.0M359.5,312.5v9.4m-4.0,-4.7h8.0M361.0,313.8v9.4m-4.0,-4.7h8.0M362.2,314.7v9.4m-4.0,-4.7h8.0M363.9,316.3v9.4m-4.0,-4.7h8.0M365.3,317.5v9.4m-4.0,-4.7h8.0M365.6,317.8v9.4m-4.0,-4.7h8.0M367.8,319.9v9.4m-4.0,-4.7h8.0M368.7,320.8v9.4m-4.0,-4.7h8.0M370.3,322.2v9.4m-4.0,-4.7h8.0M371.4,323.2v9.4m-4.0,-4.7h8.0M373.7,325.1v9.4m-4.0,-4.7h8.0M374.3,325.6v9.4m-4.0,-4.7h8.0M374.7,325.9v9.4m-4.0,-4.7h8.0M375.1,326.1v9.4m-4.0,-4.7h8.0M376.2,327.0v9.4m-4.0,-4.7h8.0M378.4,328.5v9.4m-4.0,-4.7h8.0M379.6,329.4v9.4m-4.0,-4.7h8.0M382.0,331.0v9.4m-4.0,-4.7h8.0M382.6,331.4v9.4m-4.0,-4.7h8.0M385.1,333.0v9.4m-4.0,-4.7h8.0M385.8,333.5v9.4m-4.0,-4.7h8.0M388.1,335.0v9.4m-4.0,-4.7h8.0M388.8,335.4v9.4m-4.0,-4.7h8.0M390.5,336.5v9.4m-4.0,-4.7h8.0M392.1,337.5v9.4m-4.0,-4.7h8.0M394.7,339.1v9.4m-4.0,-4.7h8.0M395.9,339.9v9.4m-4.0,-4.7h8.0M398.2,341.2v9.4m-4.0,-4.7h8.0M398.6,341.5v9.4m-4.0,-4.7h8.0M401.0,343.0v9.4m-4.0,-4.7h8.0M402.3,344.0v9.4m-4.0,-4.7h8.0M403.8,345.1v9.4m-4.0,-4.7h8.0M405.9,347.2v9.4m-4.0,-4.7h8.0M406.7,348.1v9.4m-4.0,-4.7h8.0M408.0,349.6v9.4m-4.0,-4.7h8.0M409.3,351.1v9.4m-4.0,-4.7h8.0M410.0,352.0v9.4m-4.0,-4.7h8.0M410.5,352.5v9.4m-4.0,-4.7h8.0M411.5,353.7v9.4m-4.0,-4.7h8.0M412.2,354.5v9.4m-4.0,-4.7h8.0M413.5,356.1v9.4m-4.0,-4.7h8.0M414.4,357.2v9.4m-4.0,-4.7h8.0M414.7,357.6v9.4m-4.0,-4.7h8.0M416.1,359.3v9.4m-4.0,-4.7h8.0M418.1,361.4v9.4m-4.0,-4.7h8.0M419.6,362.8v9.4m-4.0,-4.7h8.0M420.9,364.0v9.4m-4.0,-4.7h8.0M422.9,365.7v9.4m-4.0,-4.7h8.0M426.7,367.3v9.4m-4.0,-4.7h8.0M429.8,367.3v9.4m-4.0,-4.7h8.0M432.4,367.3v9.4m-4.0,-4.7h8.0M435.5,367.3v9.4m-4.0,-4.7h8.0M437.6,372.8v9.4m-4.0,-4.7h8.0M441.0,372.8v9.4m-4.0,-4.7h8.0M445.3,372.8v9.4m-4.0,-4.7h8.0M447.4,372.8v9.4m-4.0,-4.7h8.0M449.1,376.8v9.4m-4.0,-4.7h8.0M452.2,376.8v9.4m-4.0,-4.7h8.0M454.7,376.8v9.4m-4.0,-4.7h8.0M458.7,380.3v9.4m-4.0,-4.7h8.0M461.2,380.3v9.4m-4.0,-4.7h8.0M463.5,380.3v9.4m-4.0,-4.7h8.0M466.2,380.3v9.4m-4.0,-4.7h8.0M470.4,384.5v9.4m-4.0,-4.7h8.0M473.3,384.5v9.4m-4.0,-4.7h8.0M476.5,388.6v9.4m-4.0,-4.7h8.0M480.3,388.6v9.4m-4.0,-4.7h8.0M483.0,388.6v9.4m-4.0,-4.7h8.0M488.1,394.5v9.4m-4.0,-4.7h8.0M490.1,397.8v9.4m-4.0,-4.7h8.0M492.9,397.8v9.4m-4.0,-4.7h8.0M496.0,397.8v9.4m-4.0,-4.7h8.0M499.8,397.8v9.4m-4.0,-4.7h8.0M503.1,398.6v9.4m-4.0,-4.7h8.0M507.9,402.0v9.4m-4.0,-4.7h8.0M510.1,402.0v9.4m-4.0,-4.7h8.0M514.2,402.0v9.4m-4.0,-4.7h8.0M516.2,402.0v9.4m-4.0,-4.7h8.0M519.8,402.0v9.4m-4.0,-4.7h8.0M522.6,402.0v9.4m-4.0,-4.7h8.0M525.2,402.0v9.4m-4.0,-4.7h8.0M528.0,402.0v9.4m-4.0,-4.7h8.0M530.4,403.6v9.4m-4.0,-4.7h8.0M533.8,409.5v9.4m-4.0,-4.7h8.0M536.2,409.5v9.4m-4.0,-4.7h8.0M539.1,415.3v9.4m-4.0,-4.7h8.0M543.1,415.3v9.4m-4.0,-4.7h8.0M545.7,418.6v9.4m-4.0,-4.7h8.0M549.3,418.6v9.4m-4.0,-4.7h8.0M551.4,424.5v9.4m-4.0,-4.7h8.0M553.5,424.5v9.4m-4.0,-4.7h8.0M555.2,427.0v9.4m-4.0,-4.7h8.0M558.6,427.0v9.4m-4.0,-4.7h8.0M562.5,427.8v9.4m-4.0,-4.7h8.0M570.0,432.8v9.4m-4.0,-4.7h8.0M571.7,432.8v9.4m-4.0,-4.7h8.0M579.2,437.8v9.4m-4.0,-4.7h8.0M580.8,437.8v9.4m-4.0,-4.7h8.0M582.5,437.8v9.4m-4.0,-4.7h8.0M590.8,440.3v9.4m-4.0,-4.7h8.0M595.0,440.3v9.4m-4.0,-4.7h8.0M600.8,440.3v9.4m-4.0,-4.7h8.0M607.5,440.3v9.4m-4.0,-4.7h8.0M610.0,445.3v9.4m-4.0,-4.7h8.0M614.2,445.3v9.4m-4.0,-4.7h8.0M615.8,445.3v9.4m-4.0,-4.7h8.0M630.0,445.3v9.4m-4.0,-4.7h8.0M649.2,445.3v9.4m-4.0,-4.7h8.0M653.3,445.3v9.4m-4.0,-4.7h8.0M655.0,445.3v9.4m-4.0,-4.7h8.0M659.2,445.3v9.4m-4.0,-4.7h8.0M666.7,452.8v9.4m-4.0,-4.7h8.0M669.2,452.8v9.4m-4.0,-4.7h8.0M683.3,457.8v9.4m-4.0,-4.7h8.0M688.3,457.8v9.4m-4.0,-4.7h8.0M693.3,457.8v9.4m-4.0,-4.7h8.0M696.7,457.8v9.4m-4.0,-4.7h8.0M703.3,457.8v9.4m-4.0,-4.7h8.0M705.0,457.8v9.4m-4.0,-4.7h8.0M706.7,457.8v9.4m-4.0,-4.7h8.0M710.0,457.8v9.4m-4.0,-4.7h8.0M715.0,462.8v9.4m-4.0,-4.7h8.0M740.0,477.1v9.4m-4.0,-4.7h8.0M753.3,486.6v9.4m-4.0,-4.7h8.0M759.2,486.6v9.4m-4.0,-4.7h8.0M761.3,486.6v9.4m-4.0,-4.7h8.0M763.3,486.6v9.4m-4.0,-4.7h8.0M770.5,486.6v9.4m-4.0,-4.7h8.0M774.2,486.6v9.4m-4.0,-4.7h8.0M789.5,486.6v9.4m-4.0,-4.7h8.0M824.2,499.0v9.4m-4.0,-4.7h8.0M825.3,499.0v9.4m-4.0,-4.7h8.0M826.4,499.0v9.4m-4.0,-4.7h8.0M827.5,499.0v9.4m-4.0,-4.7h8.0M835.8,499.0v9.4m-4.0,-4.7h8.0M838.3,499.0v9.4m-4.0,-4.7h8.0M844.2,499.0v9.4m-4.0,-4.7h8.0M853.8,499.0v9.4m-4.0,-4.7h8.0M860.8,499.0v9.4m-4.0,-4.7h8.0M863.8,499.0v9.4m-4.0,-4.7h8.0" fill="none" stroke="#1B4380" stroke-width="1.1"/>
<path d="M156.0,41.3L159.0,45.5L161.9,50.0L164.9,54.9L167.9,60.1L170.9,65.8L173.8,71.7L176.8,77.7L179.8,83.9L182.7,90.0L185.7,95.7L188.7,101.0L191.7,106.3L194.6,111.9L197.6,117.7L200.6,123.5L203.5,129.1L206.5,134.6L209.5,139.9L212.5,145.1L215.4,150.0L218.4,154.7L221.4,159.3L224.3,163.8L227.3,168.3L230.3,173.0L233.3,178.0L236.2,183.2L239.2,188.6L242.2,193.8L245.2,198.5L248.1,203.1L251.1,207.5L254.1,211.3L257.0,214.2L260.0,216.4L263.0,218.2L266.0,219.9L268.9,221.8L271.9,223.7L274.9,226.2L277.8,229.3L280.8,232.8L283.8,237.5L286.8,239.5L289.7,240.7L292.7,241.9L295.7,243.6L298.6,245.4L301.6,247.3L304.6,249.4L307.6,252.1L310.5,255.8L313.5,259.8L316.5,264.5L319.4,269.0L322.4,272.8L325.4,276.1L328.4,279.4L331.3,282.9L334.3,287.8L337.3,293.2L340.2,297.6L343.2,301.4L346.2,304.8L349.2,307.8L352.1,310.5L355.1,312.9L358.1,314.8L361.0,316.9L364.0,319.3L367.0,322.1L370.0,325.0L372.9,328.2L375.9,331.6L378.9,334.5L381.9,336.8L384.8,338.9L387.8,341.3L390.8,344.6L393.7,348.4L396.7,352.2L399.7,355.9L402.7,358.8L405.6,361.1L408.6,362.8L411.6,364.0L414.5,365.0L417.5,365.9L420.5,366.7L423.5,367.7L426.4,369.1L429.4,371.0H447.0V372.3H450.0V375.8H458.3V378.3H463.3V381.7H473.3V382.5H483.3V385.0H490.0V386.7H493.3V391.7H498.3V396.7H505.0V400.8H511.7V405.8H528.3V408.3H531.7V413.3H538.3V415.8H556.7H562.0V419.2H565.8V425.8H578.3V427.5H581.7V434.2H585.8V435.0H589.2V440.0H596.7V440.8H601.7V444.2H606.7V447.5H610.0V452.5H623.3V453.3H625.0V455.8H629.2V459.2H676.0V466.7H693.0V471.7H707.5V481.7H715.5V485.8H730.4V488.7H746.2V494.8H753.8V500.8H768.8V507.5H781.2V510.0H797.1V515.3H828.8V523.3H901.0V535.0H1008.3" fill="none" stroke="#A3212B" stroke-width="2.0" stroke-linejoin="miter"/>
<path d="M156.2,36.8v9.4m-4.0,-4.7h8.0M157.0,38.0v9.4m-4.0,-4.7h8.0M157.8,39.2v9.4m-4.0,-4.7h8.0M158.8,40.6v9.4m-4.0,-4.7h8.0M159.1,41.0v9.4m-4.0,-4.7h8.0M159.5,41.5v9.4m-4.0,-4.7h8.0M159.7,41.9v9.4m-4.0,-4.7h8.0M160.1,42.4v9.4m-4.0,-4.7h8.0M160.9,43.7v9.4m-4.0,-4.7h8.0M161.1,44.1v9.4m-4.0,-4.7h8.0M161.8,45.0v9.4m-4.0,-4.7h8.0M162.1,45.6v9.4m-4.0,-4.7h8.0M162.5,46.2v9.4m-4.0,-4.7h8.0M163.0,47.0v9.4m-4.0,-4.7h8.0M163.9,48.5v9.4m-4.0,-4.7h8.0M164.6,49.6v9.4m-4.0,-4.7h8.0M164.7,49.8v9.4m-4.0,-4.7h8.0M165.0,50.4v9.4m-4.0,-4.7h8.0M165.3,50.8v9.4m-4.0,-4.7h8.0M166.1,52.3v9.4m-4.0,-4.7h8.0M166.9,53.8v9.4m-4.0,-4.7h8.0M167.7,55.2v9.4m-4.0,-4.7h8.0M168.5,56.7v9.4m-4.0,-4.7h8.0M169.2,58.0v9.4m-4.0,-4.7h8.0M170.1,59.7v9.4m-4.0,-4.7h8.0M170.9,61.1v9.4m-4.0,-4.7h8.0M171.2,61.7v9.4m-4.0,-4.7h8.0M171.9,63.3v9.4m-4.0,-4.7h8.0M172.4,64.2v9.4m-4.0,-4.7h8.0M173.1,65.6v9.4m-4.0,-4.7h8.0M173.7,66.7v9.4m-4.0,-4.7h8.0M174.1,67.6v9.4m-4.0,-4.7h8.0M174.5,68.3v9.4m-4.0,-4.7h8.0M174.9,69.2v9.4m-4.0,-4.7h8.0M175.3,69.9v9.4m-4.0,-4.7h8.0M175.5,70.3v9.4m-4.0,-4.7h8.0M176.2,71.8v9.4m-4.0,-4.7h8.0M176.9,73.2v9.4m-4.0,-4.7h8.0M177.8,75.0v9.4m-4.0,-4.7h8.0M178.4,76.3v9.4m-4.0,-4.7h8.0M178.9,77.4v9.4m-4.0,-4.7h8.0M179.6,78.8v9.4m-4.0,-4.7h8.0M179.7,79.2v9.4m-4.0,-4.7h8.0M180.4,80.4v9.4m-4.0,-4.7h8.0M180.8,81.3v9.4m-4.0,-4.7h8.0M181.0,81.8v9.4m-4.0,-4.7h8.0M181.3,82.3v9.4m-4.0,-4.7h8.0M181.8,83.4v9.4m-4.0,-4.7h8.0M182.1,84.0v9.4m-4.0,-4.7h8.0M182.5,84.9v9.4m-4.0,-4.7h8.0M183.1,86.0v9.4m-4.0,-4.7h8.0M183.5,86.8v9.4m-4.0,-4.7h8.0M183.7,87.2v9.4m-4.0,-4.7h8.0M184.2,88.2v9.4m-4.0,-4.7h8.0M184.5,88.8v9.4m-4.0,-4.7h8.0M184.8,89.3v9.4m-4.0,-4.7h8.0M185.1,89.8v9.4m-4.0,-4.7h8.0M185.5,90.6v9.4m-4.0,-4.7h8.0M185.7,90.9v9.4m-4.0,-4.7h8.0M186.3,92.1v9.4m-4.0,-4.7h8.0M187.3,93.7v9.4m-4.0,-4.7h8.0M187.7,94.5v9.4m-4.0,-4.7h8.0M188.4,95.8v9.4m-4.0,-4.7h8.0M189.3,97.4v9.4m-4.0,-4.7h8.0M189.5,97.7v9.4m-4.0,-4.7h8.0M189.7,98.1v9.4m-4.0,-4.7h8.0M190.5,99.5v9.4m-4.0,-4.7h8.0M191.4,101.0v9.4m-4.0,-4.7h8.0M192.0,102.2v9.4m-4.0,-4.7h8.0M192.2,102.6v9.4m-4.0,-4.7h8.0M192.7,103.5v9.4m-4.0,-4.7h8.0M193.5,105.0v9.4m-4.0,-4.7h8.0M194.3,106.6v9.4m-4.0,-4.7h8.0M195.1,108.0v9.4m-4.0,-4.7h8.0M195.3,108.6v9.4m-4.0,-4.7h8.0M196.1,110.1v9.4m-4.0,-4.7h8.0M196.5,110.9v9.4m-4.0,-4.7h8.0M197.2,112.2v9.4m-4.0,-4.7h8.0M197.4,112.6v9.4m-4.0,-4.7h8.0M198.3,114.3v9.4m-4.0,-4.7h8.0M198.9,115.5v9.4m-4.0,-4.7h8.0M199.5,116.8v9.4m-4.0,-4.7h8.0M199.8,117.3v9.4m-4.0,-4.7h8.0M200.4,118.5v9.4m-4.0,-4.7h8.0M201.0,119.6v9.4m-4.0,-4.7h8.0M201.6,120.7v9.4m-4.0,-4.7h8.0M202.0,121.5v9.4m-4.0,-4.7h8.0M202.7,122.8v9.4m-4.0,-4.7h8.0M203.1,123.5v9.4m-4.0,-4.7h8.0M203.4,124.2v9.4m-4.0,-4.7h8.0M203.6,124.6v9.4m-4.0,-4.7h8.0M204.3,125.9v9.4m-4.0,-4.7h8.0M204.5,126.2v9.4m-4.0,-4.7h8.0M204.8,126.8v9.4m-4.0,-4.7h8.0M205.0,127.1v9.4m-4.0,-4.7h8.0M205.6,128.3v9.4m-4.0,-4.7h8.0M206.2,129.3v9.4m-4.0,-4.7h8.0M206.8,130.3v9.4m-4.0,-4.7h8.0M206.9,130.6v9.4m-4.0,-4.7h8.0M207.4,131.5v9.4m-4.0,-4.7h8.0M207.8,132.2v9.4m-4.0,-4.7h8.0M208.0,132.5v9.4m-4.0,-4.7h8.0M208.1,132.7v9.4m-4.0,-4.7h8.0M209.0,134.4v9.4m-4.0,-4.7h8.0M209.3,134.8v9.4m-4.0,-4.7h8.0M209.6,135.5v9.4m-4.0,-4.7h8.0M210.0,136.1v9.4m-4.0,-4.7h8.0M210.6,137.2v9.4m-4.0,-4.7h8.0M210.8,137.5v9.4m-4.0,-4.7h8.0M211.3,138.4v9.4m-4.0,-4.7h8.0M211.7,139.1v9.4m-4.0,-4.7h8.0M212.6,140.6v9.4m-4.0,-4.7h8.0M212.7,140.8v9.4m-4.0,-4.7h8.0M213.1,141.5v9.4m-4.0,-4.7h8.0M213.7,142.4v9.4m-4.0,-4.7h8.0M214.7,144.1v9.4m-4.0,-4.7h8.0M215.3,145.0v9.4m-4.0,-4.7h8.0M215.8,145.9v9.4m-4.0,-4.7h8.0M216.6,147.1v9.4m-4.0,-4.7h8.0M217.0,147.7v9.4m-4.0,-4.7h8.0M217.1,148.0v9.4m-4.0,-4.7h8.0M217.7,148.9v9.4m-4.0,-4.7h8.0M218.7,150.4v9.4m-4.0,-4.7h8.0M219.5,151.7v9.4m-4.0,-4.7h8.0M219.9,152.3v9.4m-4.0,-4.7h8.0M220.7,153.5v9.4m-4.0,-4.7h8.0M221.6,154.9v9.4m-4.0,-4.7h8.0M222.0,155.5v9.4m-4.0,-4.7h8.0M222.7,156.5v9.4m-4.0,-4.7h8.0M223.1,157.2v9.4m-4.0,-4.7h8.0M223.5,157.8v9.4m-4.0,-4.7h8.0M223.9,158.4v9.4m-4.0,-4.7h8.0M224.2,158.9v9.4m-4.0,-4.7h8.0M224.7,159.6v9.4m-4.0,-4.7h8.0M224.8,159.8v9.4m-4.0,-4.7h8.0M225.3,160.6v9.4m-4.0,-4.7h8.0M225.5,160.9v9.4m-4.0,-4.7h8.0M226.4,162.2v9.4m-4.0,-4.7h8.0M227.1,163.3v9.4m-4.0,-4.7h8.0M227.2,163.4v9.4m-4.0,-4.7h8.0M228.0,164.8v9.4m-4.0,-4.7h8.0M228.3,165.3v9.4m-4.0,-4.7h8.0M228.9,166.2v9.4m-4.0,-4.7h8.0M229.6,167.2v9.4m-4.0,-4.7h8.0M230.0,167.8v9.4m-4.0,-4.7h8.0M230.4,168.5v9.4m-4.0,-4.7h8.0M230.9,169.3v9.4m-4.0,-4.7h8.0M231.1,169.7v9.4m-4.0,-4.7h8.0M232.0,171.2v9.4m-4.0,-4.7h8.0M232.2,171.6v9.4m-4.0,-4.7h8.0M233.1,173.0v9.4m-4.0,-4.7h8.0M233.4,173.5v9.4m-4.0,-4.7h8.0M233.8,174.2v9.4m-4.0,-4.7h8.0M234.2,175.0v9.4m-4.0,-4.7h8.0M234.3,175.2v9.4m-4.0,-4.7h8.0M234.6,175.6v9.4m-4.0,-4.7h8.0M235.0,176.3v9.4m-4.0,-4.7h8.0M235.5,177.2v9.4m-4.0,-4.7h8.0M236.3,178.7v9.4m-4.0,-4.7h8.0M237.3,180.4v9.4m-4.0,-4.7h8.0M237.4,180.7v9.4m-4.0,-4.7h8.0M238.0,181.7v9.4m-4.0,-4.7h8.0M238.2,182.1v9.4m-4.0,-4.7h8.0M239.0,183.5v9.4m-4.0,-4.7h8.0M239.4,184.2v9.4m-4.0,-4.7h8.0M240.3,185.8v9.4m-4.0,-4.7h8.0M240.9,186.8v9.4m-4.0,-4.7h8.0M241.1,187.2v9.4m-4.0,-4.7h8.0M241.2,187.4v9.4m-4.0,-4.7h8.0M241.5,188.0v9.4m-4.0,-4.7h8.0M242.4,189.5v9.4m-4.0,-4.7h8.0M242.7,189.9v9.4m-4.0,-4.7h8.0M243.2,190.8v9.4m-4.0,-4.7h8.0M243.7,191.5v9.4m-4.0,-4.7h8.0M244.1,192.2v9.4m-4.0,-4.7h8.0M245.0,193.6v9.4m-4.0,-4.7h8.0M245.3,194.1v9.4m-4.0,-4.7h8.0M246.1,195.3v9.4m-4.0,-4.7h8.0M246.9,196.5v9.4m-4.0,-4.7h8.0M247.9,198.1v9.4m-4.0,-4.7h8.0M248.6,199.0v9.4m-4.0,-4.7h8.0M249.6,200.5v9.4m-4.0,-4.7h8.0M250.1,201.4v9.4m-4.0,-4.7h8.0M250.8,202.4v9.4m-4.0,-4.7h8.0M251.6,203.4v9.4m-4.0,-4.7h8.0M252.6,204.8v9.4m-4.0,-4.7h8.0M253.7,206.2v9.4m-4.0,-4.7h8.0M254.0,206.5v9.4m-4.0,-4.7h8.0M254.3,206.9v9.4m-4.0,-4.7h8.0M255.2,207.7v9.4m-4.0,-4.7h8.0M256.3,208.8v9.4m-4.0,-4.7h8.0M257.2,209.6v9.4m-4.0,-4.7h8.0M257.8,210.1v9.4m-4.0,-4.7h8.0M259.3,211.2v9.4m-4.0,-4.7h8.0M259.9,211.6v9.4m-4.0,-4.7h8.0M260.3,211.8v9.4m-4.0,-4.7h8.0M260.5,212.0v9.4m-4.0,-4.7h8.0M260.8,212.1v9.4m-4.0,-4.7h8.0M262.0,212.9v9.4m-4.0,-4.7h8.0M262.4,213.1v9.4m-4.0,-4.7h8.0M263.7,213.9v9.4m-4.0,-4.7h8.0M265.2,214.8v9.4m-4.0,-4.7h8.0M266.9,215.8v9.4m-4.0,-4.7h8.0M268.3,216.6v9.4m-4.0,-4.7h8.0M269.1,217.2v9.4m-4.0,-4.7h8.0M270.2,217.9v9.4m-4.0,-4.7h8.0M271.6,218.8v9.4m-4.0,-4.7h8.0M272.7,219.7v9.4m-4.0,-4.7h8.0M273.3,220.2v9.4m-4.0,-4.7h8.0M274.5,221.2v9.4m-4.0,-4.7h8.0M274.8,221.5v9.4m-4.0,-4.7h8.0M275.4,222.0v9.4m-4.0,-4.7h8.0M276.7,223.4v9.4m-4.0,-4.7h8.0M277.5,224.2v9.4m-4.0,-4.7h8.0M277.9,224.7v9.4m-4.0,-4.7h8.0M279.0,225.9v9.4m-4.0,-4.7h8.0M279.6,226.7v9.4m-4.0,-4.7h8.0M279.7,226.9v9.4m-4.0,-4.7h8.0M279.9,227.1v9.4m-4.0,-4.7h8.0M280.4,227.6v9.4m-4.0,-4.7h8.0M280.9,228.2v9.4m-4.0,-4.7h8.0M281.9,229.8v9.4m-4.0,-4.7h8.0M282.2,230.3v9.4m-4.0,-4.7h8.0M283.1,231.8v9.4m-4.0,-4.7h8.0M284.2,233.1v9.4m-4.0,-4.7h8.0M285.0,233.6v9.4m-4.0,-4.7h8.0M286.6,234.7v9.4m-4.0,-4.7h8.0M288.1,235.4v9.4m-4.0,-4.7h8.0M289.0,235.8v9.4m-4.0,-4.7h8.0M289.7,236.0v9.4m-4.0,-4.7h8.0M290.6,236.4v9.4m-4.0,-4.7h8.0M292.3,237.1v9.4m-4.0,-4.7h8.0M293.4,237.6v9.4m-4.0,-4.7h8.0M293.8,237.9v9.4m-4.0,-4.7h8.0M294.6,238.3v9.4m-4.0,-4.7h8.0M295.5,238.8v9.4m-4.0,-4.7h8.0M296.0,239.1v9.4m-4.0,-4.7h8.0M297.1,239.7v9.4m-4.0,-4.7h8.0M297.3,239.9v9.4m-4.0,-4.7h8.0M298.7,240.7v9.4m-4.0,-4.7h8.0M299.2,241.0v9.4m-4.0,-4.7h8.0M299.5,241.2v9.4m-4.0,-4.7h8.0M300.4,241.8v9.4m-4.0,-4.7h8.0M302.2,243.0v9.4m-4.0,-4.7h8.0M302.9,243.5v9.4m-4.0,-4.7h8.0M303.8,244.1v9.4m-4.0,-4.7h8.0M305.1,245.1v9.4m-4.0,-4.7h8.0M306.6,246.5v9.4m-4.0,-4.7h8.0M306.9,246.8v9.4m-4.0,-4.7h8.0M308.0,247.9v9.4m-4.0,-4.7h8.0M309.6,249.9v9.4m-4.0,-4.7h8.0M310.8,251.4v9.4m-4.0,-4.7h8.0M312.5,253.7v9.4m-4.0,-4.7h8.0M312.8,254.2v9.4m-4.0,-4.7h8.0M314.3,256.4v9.4m-4.0,-4.7h8.0M315.6,258.5v9.4m-4.0,-4.7h8.0M315.8,258.8v9.4m-4.0,-4.7h8.0M316.8,260.2v9.4m-4.0,-4.7h8.0M318.0,262.1v9.4m-4.0,-4.7h8.0M318.5,262.8v9.4m-4.0,-4.7h8.0M319.6,264.5v9.4m-4.0,-4.7h8.0M321.1,266.5v9.4m-4.0,-4.7h8.0M322.6,268.3v9.4m-4.0,-4.7h8.0M323.5,269.4v9.4m-4.0,-4.7h8.0M323.9,269.7v9.4m-4.0,-4.7h8.0M325.0,271.0v9.4m-4.0,-4.7h8.0M325.5,271.5v9.4m-4.0,-4.7h8.0M326.7,272.8v9.4m-4.0,-4.7h8.0M327.4,273.6v9.4m-4.0,-4.7h8.0M328.2,274.5v9.4m-4.0,-4.7h8.0M329.3,275.8v9.4m-4.0,-4.7h8.0M330.8,277.6v9.4m-4.0,-4.7h8.0M332.4,279.9v9.4m-4.0,-4.7h8.0M333.1,281.1v9.4m-4.0,-4.7h8.0M333.3,281.4v9.4m-4.0,-4.7h8.0M334.4,283.3v9.4m-4.0,-4.7h8.0M335.0,284.4v9.4m-4.0,-4.7h8.0M336.1,286.3v9.4m-4.0,-4.7h8.0M337.3,288.5v9.4m-4.0,-4.7h8.0M337.5,288.8v9.4m-4.0,-4.7h8.0M338.7,290.6v9.4m-4.0,-4.7h8.0M339.3,291.5v9.4m-4.0,-4.7h8.0M340.0,292.4v9.4m-4.0,-4.7h8.0M340.7,293.4v9.4m-4.0,-4.7h8.0M341.7,294.7v9.4m-4.0,-4.7h8.0M342.3,295.5v9.4m-4.0,-4.7h8.0M343.2,296.7v9.4m-4.0,-4.7h8.0M343.9,297.5v9.4m-4.0,-4.7h8.0M344.3,298.0v9.4m-4.0,-4.7h8.0M345.0,298.7v9.4m-4.0,-4.7h8.0M346.3,300.3v9.4m-4.0,-4.7h8.0M347.1,301.1v9.4m-4.0,-4.7h8.0M347.7,301.7v9.4m-4.0,-4.7h8.0M348.6,302.6v9.4m-4.0,-4.7h8.0M349.2,303.2v9.4m-4.0,-4.7h8.0M351.3,305.1v9.4m-4.0,-4.7h8.0M353.1,306.6v9.4m-4.0,-4.7h8.0M353.6,307.0v9.4m-4.0,-4.7h8.0M354.5,307.7v9.4m-4.0,-4.7h8.0M355.7,308.5v9.4m-4.0,-4.7h8.0M357.0,309.5v9.4m-4.0,-4.7h8.0M358.1,310.2v9.4m-4.0,-4.7h8.0M359.5,311.1v9.4m-4.0,-4.7h8.0M361.3,312.4v9.4m-4.0,-4.7h8.0M361.9,312.9v9.4m-4.0,-4.7h8.0M363.2,314.0v9.4m-4.0,-4.7h8.0M363.8,314.5v9.4m-4.0,-4.7h8.0M365.1,315.6v9.4m-4.0,-4.7h8.0M365.9,316.4v9.4m-4.0,-4.7h8.0M367.6,318.0v9.4m-4.0,-4.7h8.0M369.5,319.8v9.4m-4.0,-4.7h8.0M371.4,321.8v9.4m-4.0,-4.7h8.0M372.3,322.8v9.4m-4.0,-4.7h8.0M373.6,324.2v9.4m-4.0,-4.7h8.0M374.1,324.8v9.4m-4.0,-4.7h8.0M375.5,326.4v9.4m-4.0,-4.7h8.0M377.1,328.1v9.4m-4.0,-4.7h8.0M378.1,329.0v9.4m-4.0,-4.7h8.0M378.9,329.8v9.4m-4.0,-4.7h8.0M380.7,331.2v9.4m-4.0,-4.7h8.0M382.5,332.6v9.4m-4.0,-4.7h8.0M384.5,333.9v9.4m-4.0,-4.7h8.0M385.3,334.6v9.4m-4.0,-4.7h8.0M386.0,335.2v9.4m-4.0,-4.7h8.0M386.8,335.8v9.4m-4.0,-4.7h8.0M387.4,336.3v9.4m-4.0,-4.7h8.0M387.7,336.5v9.4m-4.0,-4.7h8.0M388.1,336.9v9.4m-4.0,-4.7h8.0M389.2,338.1v9.4m-4.0,-4.7h8.0M390.1,339.2v9.4m-4.0,-4.7h8.0M391.8,341.2v9.4m-4.0,-4.7h8.0M392.5,342.2v9.4m-4.0,-4.7h8.0M393.0,342.8v9.4m-4.0,-4.7h8.0M394.7,344.9v9.4m-4.0,-4.7h8.0M395.0,345.3v9.4m-4.0,-4.7h8.0M395.7,346.2v9.4m-4.0,-4.7h8.0M397.2,348.0v9.4m-4.0,-4.7h8.0M397.9,348.9v9.4m-4.0,-4.7h8.0M399.6,351.1v9.4m-4.0,-4.7h8.0M401.2,352.7v9.4m-4.0,-4.7h8.0M402.0,353.4v9.4m-4.0,-4.7h8.0M403.9,355.1v9.4m-4.0,-4.7h8.0M406.1,356.6v9.4m-4.0,-4.7h8.0M407.5,357.5v9.4m-4.0,-4.7h8.0M408.1,357.8v9.4m-4.0,-4.7h8.0M408.6,358.1v9.4m-4.0,-4.7h8.0M410.8,359.0v9.4m-4.0,-4.7h8.0M413.3,359.9v9.4m-4.0,-4.7h8.0M415.2,360.5v9.4m-4.0,-4.7h8.0M417.4,361.2v9.4m-4.0,-4.7h8.0M419.6,361.8v9.4m-4.0,-4.7h8.0M419.5,361.7v9.4m-4.0,-4.7h8.0M423.0,362.8v9.4m-4.0,-4.7h8.0M426.9,364.8v9.4m-4.0,-4.7h8.0M428.1,365.5v9.4m-4.0,-4.7h8.0M432.4,366.3v9.4m-4.0,-4.7h8.0M436.6,366.3v9.4m-4.0,-4.7h8.0M439.4,366.3v9.4m-4.0,-4.7h8.0M442.2,366.3v9.4m-4.0,-4.7h8.0M444.7,366.3v9.4m-4.0,-4.7h8.0M448.4,367.6v9.4m-4.0,-4.7h8.0M452.3,371.1v9.4m-4.0,-4.7h8.0M454.9,371.1v9.4m-4.0,-4.7h8.0M457.3,371.1v9.4m-4.0,-4.7h8.0M460.8,373.6v9.4m-4.0,-4.7h8.0M463.6,377.0v9.4m-4.0,-4.7h8.0M467.5,377.0v9.4m-4.0,-4.7h8.0M470.9,377.0v9.4m-4.0,-4.7h8.0M474.8,377.8v9.4m-4.0,-4.7h8.0M479.7,377.8v9.4m-4.0,-4.7h8.0M480.6,377.8v9.4m-4.0,-4.7h8.0M484.9,380.3v9.4m-4.0,-4.7h8.0M487.3,380.3v9.4m-4.0,-4.7h8.0M489.9,380.3v9.4m-4.0,-4.7h8.0M492.6,382.0v9.4m-4.0,-4.7h8.0M496.4,387.0v9.4m-4.0,-4.7h8.0M500.6,392.0v9.4m-4.0,-4.7h8.0M505.0,392.0v9.4m-4.0,-4.7h8.0M508.7,396.1v9.4m-4.0,-4.7h8.0M511.7,396.1v9.4m-4.0,-4.7h8.0M515.8,401.1v9.4m-4.0,-4.7h8.0M518.8,401.1v9.4m-4.0,-4.7h8.0M521.7,401.1v9.4m-4.0,-4.7h8.0M523.9,401.1v9.4m-4.0,-4.7h8.0M527.4,401.1v9.4m-4.0,-4.7h8.0M530.0,403.6v9.4m-4.0,-4.7h8.0M534.5,408.6v9.4m-4.0,-4.7h8.0M536.7,408.6v9.4m-4.0,-4.7h8.0M541.6,411.1v9.4m-4.0,-4.7h8.0M543.4,411.1v9.4m-4.0,-4.7h8.0M546.0,411.1v9.4m-4.0,-4.7h8.0M549.2,411.1v9.4m-4.0,-4.7h8.0M552.5,411.1v9.4m-4.0,-4.7h8.0M556.3,411.1v9.4m-4.0,-4.7h8.0M559.3,411.1v9.4m-4.0,-4.7h8.0M567.5,421.1v9.4m-4.0,-4.7h8.0M581.7,429.5v9.4m-4.0,-4.7h8.0M587.5,430.3v9.4m-4.0,-4.7h8.0M590.8,435.3v9.4m-4.0,-4.7h8.0M592.5,435.3v9.4m-4.0,-4.7h8.0M594.2,435.3v9.4m-4.0,-4.7h8.0M602.5,439.5v9.4m-4.0,-4.7h8.0M615.8,447.8v9.4m-4.0,-4.7h8.0M624.2,448.6v9.4m-4.0,-4.7h8.0M631.7,454.5v9.4m-4.0,-4.7h8.0M638.3,454.5v9.4m-4.0,-4.7h8.0M648.3,454.5v9.4m-4.0,-4.7h8.0M663.3,454.5v9.4m-4.0,-4.7h8.0M665.0,454.5v9.4m-4.0,-4.7h8.0M669.2,454.5v9.4m-4.0,-4.7h8.0M674.2,454.5v9.4m-4.0,-4.7h8.0M679.2,462.0v9.4m-4.0,-4.7h8.0M684.2,462.0v9.4m-4.0,-4.7h8.0M700.0,467.0v9.4m-4.0,-4.7h8.0M716.7,481.1v9.4m-4.0,-4.7h8.0M721.7,481.1v9.4m-4.0,-4.7h8.0M730.8,484.0v9.4m-4.0,-4.7h8.0M722.5,481.1v9.4m-4.0,-4.7h8.0M742.5,484.0v9.4m-4.0,-4.7h8.0M746.7,490.1v9.4m-4.0,-4.7h8.0M773.8,502.8v9.4m-4.0,-4.7h8.0M801.7,510.6v9.4m-4.0,-4.7h8.0M828.3,510.6v9.4m-4.0,-4.7h8.0M846.7,518.6v9.4m-4.0,-4.7h8.0M852.5,518.6v9.4m-4.0,-4.7h8.0M856.7,518.6v9.4m-4.0,-4.7h8.0M859.2,518.6v9.4m-4.0,-4.7h8.0M867.2,518.6v9.4m-4.0,-4.7h8.0M880.3,518.6v9.4m-4.0,-4.7h8.0M898.3,518.6v9.4m-4.0,-4.7h8.0M904.2,530.3v9.4m-4.0,-4.7h8.0M910.0,530.3v9.4m-4.0,-4.7h8.0M914.2,530.3v9.4m-4.0,-4.7h8.0M918.0,530.3v9.4m-4.0,-4.7h8.0M940.8,530.3v9.4m-4.0,-4.7h8.0M967.0,530.3v9.4m-4.0,-4.7h8.0M1003.8,530.3v9.4m-4.0,-4.7h8.0" fill="none" stroke="#A3212B" stroke-width="1.1"/>
<path d="M156.0,41.3L159.0,44.0L162.0,47.3L165.0,51.1L168.0,55.3L171.0,60.3L174.0,66.1L177.0,72.0L180.0,77.9L183.0,84.1L186.0,90.1L189.0,95.9L192.0,101.3L195.0,106.8L198.0,112.8L201.0,118.9L204.0,124.8L207.0,130.0L210.0,134.7L213.0,139.2L216.0,143.5L219.0,147.8L222.0,152.1L225.0,156.2L228.0,160.3L231.0,164.4L234.0,168.6L237.0,172.9L240.0,177.4L243.0,182.1L246.0,186.8L249.0,191.6L252.0,196.4L255.0,201.2L258.0,205.8L261.0,210.0L264.0,214.0L267.0,218.0L270.0,221.9L273.0,226.1L276.0,230.4L279.0,235.0L282.0,239.4L285.0,243.7L288.0,247.6L291.0,250.9L294.0,253.9L297.0,256.7L300.0,259.5L303.0,262.4L306.0,265.7L309.0,269.1L312.0,272.5L315.0,276.0L318.0,279.4L321.0,282.9L324.0,286.3L327.0,289.6L330.0,293.0L333.0,296.5L336.0,299.9L339.0,303.2L342.0,306.5L345.0,309.6L348.0,312.6L351.0,315.4L354.0,317.9L357.0,320.4L360.0,322.7L363.0,325.0L366.0,327.2L369.0,329.5L372.0,331.7L374.9,334.0L377.9,336.3L380.9,338.6L383.9,340.9L386.9,343.2L389.9,345.5L392.9,347.8L395.9,350.0L398.9,352.2L401.9,354.4L404.9,356.4L407.9,358.3L410.9,360.3L413.9,362.3L416.9,364.6L419.9,367.1L422.9,370.5L425.9,373.7L428.9,376.3L431.9,378.8L434.9,381.2L437.9,383.4L440.9,385.6L443.9,387.6L446.9,389.6L449.9,391.7L452.9,393.6L455.9,395.5L458.9,397.3L461.9,399.1L464.9,400.8L467.9,402.6L470.9,404.3L473.9,406.1L476.9,407.9L479.9,409.7L482.9,411.6L485.9,413.5L488.9,415.3L491.9,417.1L494.9,418.9L497.9,420.6L500.9,422.2L503.9,423.7L506.9,425.2L509.9,426.6L512.9,428.0L515.9,429.3L518.9,430.7L521.9,432.0L524.9,433.3L527.9,434.6L530.9,435.8L533.9,437.1L536.9,438.4L539.9,439.6L542.9,440.8L545.9,441.9L548.9,442.9L551.9,443.9L554.9,444.7L557.9,445.5L560.9,446.4L563.9,447.6L566.9,449.0L569.9,450.5L572.9,452.1L575.9,453.8L578.9,455.3L581.9,456.8L584.9,458.3L587.9,459.6L590.9,460.9L593.9,462.2L596.9,463.5L599.9,464.7L602.9,465.8L605.9,466.9L608.9,467.9L611.9,468.9L614.9,469.7L617.9,470.5L620.9,471.3L623.9,472.0L626.9,472.7L629.9,473.5L632.9,474.3L635.9,475.3L638.9,476.4L641.9,477.5L644.9,478.8L647.9,480.1L650.9,481.4L653.9,482.7L656.9,483.9L659.9,485.0L662.9,486.0L665.9,486.9L668.9,487.8L671.9,488.6L674.9,489.5L677.9,490.3L680.9,491.2L683.9,492.1L686.9,493.1L689.9,494.2L692.9,495.2L695.9,496.3L698.9,497.4L701.9,498.4L704.9,499.4L707.9,500.4L710.9,500.9L713.9,501.2L716.9,501.4L719.9,501.6L722.9,501.9L725.9,502.2L728.9,502.6L731.9,503.1L734.9,503.6L737.9,504.1L740.9,504.8L743.9,505.5L746.9,506.3L749.9,507.0L752.9,507.7L755.9,508.5L758.9,509.2L761.9,510.0L764.9,510.9L767.9,511.8L770.9,512.8L773.9,513.7L776.9,514.6L779.9,515.4L782.9,516.3L785.9,517.2L788.9,518.0L791.9,518.7L794.9,519.2L797.9,519.6L800.9,519.9L803.9,520.1L806.9,520.4L809.8,520.6L812.8,520.9L815.8,521.2L818.8,521.5L821.8,521.8L824.8,522.1L827.8,522.5L830.8,522.7L833.8,523.0L836.8,523.3L839.8,523.6L842.8,523.9L845.8,524.3L848.8,524.8L851.8,525.4L854.8,526.0L857.8,526.6L860.8,527.3L863.8,528.0L866.8,528.7L869.8,529.5L872.8,530.3L875.8,531.1L878.8,531.8L881.8,532.6L884.8,533.3L887.8,533.7L890.8,533.9L893.8,534.0L896.8,534.1L899.8,534.2L902.8,534.2L905.8,534.3L908.8,534.5L911.8,534.8L914.8,537.4L917.8,537.8L920.8,537.9L923.8,538.0L926.8,538.0L929.8,538.1L932.8,538.7L935.8,540.8L938.8,542.1L941.8,542.9L944.8,543.0L947.8,543.0L950.8,543.0L953.8,543.0L956.8,543.0L959.8,543.0L962.8,543.0L965.8,543.0L968.8,543.0L971.8,543.0L974.8,543.0L977.8,543.0L980.8,543.0L983.8,543.0L986.8,543.0L989.8,543.0L992.8,543.0L995.8,543.0L998.8,543.0L1001.8,543.0L1004.8,543.0L1007.8,543.0L1010.8,543.0L1013.8,543.0L1016.8,543.0L1019.8,543.0L1022.8,543.0L1025.8,543.0" fill="none" stroke="#6E8427" stroke-width="2.0" stroke-linejoin="miter"/>
<path d="M156.3,36.8v9.4m-4.0,-4.7h8.0M156.9,37.4v9.4m-4.0,-4.7h8.0M157.7,38.2v9.4m-4.0,-4.7h8.0M158.3,38.7v9.4m-4.0,-4.7h8.0M158.9,39.2v9.4m-4.0,-4.7h8.0M159.5,39.9v9.4m-4.0,-4.7h8.0M159.9,40.3v9.4m-4.0,-4.7h8.0M160.4,40.9v9.4m-4.0,-4.7h8.0M161.0,41.5v9.4m-4.0,-4.7h8.0M161.7,42.3v9.4m-4.0,-4.7h8.0M162.0,42.7v9.4m-4.0,-4.7h8.0M162.4,43.2v9.4m-4.0,-4.7h8.0M162.7,43.5v9.4m-4.0,-4.7h8.0M163.4,44.4v9.4m-4.0,-4.7h8.0M164.0,45.1v9.4m-4.0,-4.7h8.0M164.2,45.4v9.4m-4.0,-4.7h8.0M165.0,46.4v9.4m-4.0,-4.7h8.0M165.7,47.3v9.4m-4.0,-4.7h8.0M166.2,48.1v9.4m-4.0,-4.7h8.0M166.7,48.8v9.4m-4.0,-4.7h8.0M167.0,49.2v9.4m-4.0,-4.7h8.0M167.3,49.6v9.4m-4.0,-4.7h8.0M167.7,50.2v9.4m-4.0,-4.7h8.0M168.0,50.6v9.4m-4.0,-4.7h8.0M168.3,51.1v9.4m-4.0,-4.7h8.0M168.6,51.6v9.4m-4.0,-4.7h8.0M168.8,51.9v9.4m-4.0,-4.7h8.0M169.2,52.6v9.4m-4.0,-4.7h8.0M169.6,53.3v9.4m-4.0,-4.7h8.0M170.2,54.2v9.4m-4.0,-4.7h8.0M170.6,54.9v9.4m-4.0,-4.7h8.0M171.0,55.7v9.4m-4.0,-4.7h8.0M171.4,56.4v9.4m-4.0,-4.7h8.0M171.8,57.2v9.4m-4.0,-4.7h8.0M172.2,57.9v9.4m-4.0,-4.7h8.0M172.5,58.4v9.4m-4.0,-4.7h8.0M173.0,59.5v9.4m-4.0,-4.7h8.0M173.6,60.5v9.4m-4.0,-4.7h8.0M174.1,61.5v9.4m-4.0,-4.7h8.0M174.5,62.4v9.4m-4.0,-4.7h8.0M174.8,62.9v9.4m-4.0,-4.7h8.0M175.1,63.5v9.4m-4.0,-4.7h8.0M175.3,64.0v9.4m-4.0,-4.7h8.0M175.5,64.4v9.4m-4.0,-4.7h8.0M176.0,65.3v9.4m-4.0,-4.7h8.0M176.3,66.0v9.4m-4.0,-4.7h8.0M176.8,66.9v9.4m-4.0,-4.7h8.0M177.1,67.6v9.4m-4.0,-4.7h8.0M177.7,68.6v9.4m-4.0,-4.7h8.0M178.1,69.6v9.4m-4.0,-4.7h8.0M178.3,69.9v9.4m-4.0,-4.7h8.0M178.6,70.4v9.4m-4.0,-4.7h8.0M179.1,71.5v9.4m-4.0,-4.7h8.0M179.4,72.1v9.4m-4.0,-4.7h8.0M180.0,73.2v9.4m-4.0,-4.7h8.0M180.3,73.8v9.4m-4.0,-4.7h8.0M180.5,74.3v9.4m-4.0,-4.7h8.0M180.9,75.1v9.4m-4.0,-4.7h8.0M181.3,76.0v9.4m-4.0,-4.7h8.0M181.6,76.5v9.4m-4.0,-4.7h8.0M181.8,77.0v9.4m-4.0,-4.7h8.0M182.1,77.6v9.4m-4.0,-4.7h8.0M182.6,78.6v9.4m-4.0,-4.7h8.0M183.1,79.5v9.4m-4.0,-4.7h8.0M183.3,80.0v9.4m-4.0,-4.7h8.0M183.5,80.5v9.4m-4.0,-4.7h8.0M183.8,80.9v9.4m-4.0,-4.7h8.0M184.0,81.3v9.4m-4.0,-4.7h8.0M184.4,82.3v9.4m-4.0,-4.7h8.0M184.7,82.7v9.4m-4.0,-4.7h8.0M185.0,83.5v9.4m-4.0,-4.7h8.0M185.4,84.2v9.4m-4.0,-4.7h8.0M185.6,84.7v9.4m-4.0,-4.7h8.0M186.1,85.6v9.4m-4.0,-4.7h8.0M186.3,86.0v9.4m-4.0,-4.7h8.0M186.7,86.8v9.4m-4.0,-4.7h8.0M186.9,87.3v9.4m-4.0,-4.7h8.0M187.3,87.9v9.4m-4.0,-4.7h8.0M187.5,88.4v9.4m-4.0,-4.7h8.0M187.8,89.0v9.4m-4.0,-4.7h8.0M188.4,90.0v9.4m-4.0,-4.7h8.0M188.9,90.9v9.4m-4.0,-4.7h8.0M189.2,91.5v9.4m-4.0,-4.7h8.0M189.7,92.5v9.4m-4.0,-4.7h8.0M190.0,93.0v9.4m-4.0,-4.7h8.0M190.3,93.6v9.4m-4.0,-4.7h8.0M190.8,94.5v9.4m-4.0,-4.7h8.0M191.3,95.3v9.4m-4.0,-4.7h8.0M191.5,95.8v9.4m-4.0,-4.7h8.0M192.1,96.8v9.4m-4.0,-4.7h8.0M192.4,97.3v9.4m-4.0,-4.7h8.0M192.7,97.8v9.4m-4.0,-4.7h8.0M193.1,98.7v9.4m-4.0,-4.7h8.0M193.5,99.3v9.4m-4.0,-4.7h8.0M193.8,99.9v9.4m-4.0,-4.7h8.0M194.0,100.3v9.4m-4.0,-4.7h8.0M194.2,100.7v9.4m-4.0,-4.7h8.0M194.6,101.5v9.4m-4.0,-4.7h8.0M194.9,102.0v9.4m-4.0,-4.7h8.0M195.3,102.8v9.4m-4.0,-4.7h8.0M195.6,103.4v9.4m-4.0,-4.7h8.0M196.0,104.1v9.4m-4.0,-4.7h8.0M196.5,105.1v9.4m-4.0,-4.7h8.0M196.9,105.8v9.4m-4.0,-4.7h8.0M197.2,106.6v9.4m-4.0,-4.7h8.0M197.7,107.5v9.4m-4.0,-4.7h8.0M198.0,108.0v9.4m-4.0,-4.7h8.0M198.2,108.5v9.4m-4.0,-4.7h8.0M198.7,109.5v9.4m-4.0,-4.7h8.0M199.2,110.5v9.4m-4.0,-4.7h8.0M199.4,111.0v9.4m-4.0,-4.7h8.0M199.7,111.5v9.4m-4.0,-4.7h8.0M200.1,112.4v9.4m-4.0,-4.7h8.0M200.6,113.4v9.4m-4.0,-4.7h8.0M200.8,113.9v9.4m-4.0,-4.7h8.0M201.4,115.0v9.4m-4.0,-4.7h8.0M201.9,116.0v9.4m-4.0,-4.7h8.0M202.3,116.7v9.4m-4.0,-4.7h8.0M202.6,117.4v9.4m-4.0,-4.7h8.0M202.8,117.8v9.4m-4.0,-4.7h8.0M203.0,118.2v9.4m-4.0,-4.7h8.0M203.5,119.3v9.4m-4.0,-4.7h8.0M203.8,119.8v9.4m-4.0,-4.7h8.0M204.3,120.6v9.4m-4.0,-4.7h8.0M204.6,121.2v9.4m-4.0,-4.7h8.0M205.1,122.1v9.4m-4.0,-4.7h8.0M205.5,122.8v9.4m-4.0,-4.7h8.0M205.9,123.4v9.4m-4.0,-4.7h8.0M206.1,123.8v9.4m-4.0,-4.7h8.0M206.6,124.7v9.4m-4.0,-4.7h8.0M206.8,125.1v9.4m-4.0,-4.7h8.0M207.2,125.6v9.4m-4.0,-4.7h8.0M207.6,126.3v9.4m-4.0,-4.7h8.0M208.2,127.2v9.4m-4.0,-4.7h8.0M208.7,128.0v9.4m-4.0,-4.7h8.0M209.0,128.5v9.4m-4.0,-4.7h8.0M209.6,129.4v9.4m-4.0,-4.7h8.0M209.9,129.9v9.4m-4.0,-4.7h8.0M210.1,130.3v9.4m-4.0,-4.7h8.0M210.5,130.8v9.4m-4.0,-4.7h8.0M210.9,131.4v9.4m-4.0,-4.7h8.0M211.2,131.8v9.4m-4.0,-4.7h8.0M211.5,132.2v9.4m-4.0,-4.7h8.0M211.9,132.8v9.4m-4.0,-4.7h8.0M212.3,133.5v9.4m-4.0,-4.7h8.0M212.6,133.9v9.4m-4.0,-4.7h8.0M213.0,134.5v9.4m-4.0,-4.7h8.0M213.6,135.4v9.4m-4.0,-4.7h8.0M214.3,136.4v9.4m-4.0,-4.7h8.0M214.9,137.1v9.4m-4.0,-4.7h8.0M215.4,137.9v9.4m-4.0,-4.7h8.0M215.9,138.6v9.4m-4.0,-4.7h8.0M216.2,139.1v9.4m-4.0,-4.7h8.0M216.4,139.4v9.4m-4.0,-4.7h8.0M216.7,139.7v9.4m-4.0,-4.7h8.0M217.3,140.7v9.4m-4.0,-4.7h8.0M217.8,141.5v9.4m-4.0,-4.7h8.0M218.5,142.4v9.4m-4.0,-4.7h8.0M218.7,142.8v9.4m-4.0,-4.7h8.0M219.3,143.5v9.4m-4.0,-4.7h8.0M219.7,144.2v9.4m-4.0,-4.7h8.0M220.3,145.0v9.4m-4.0,-4.7h8.0M220.7,145.5v9.4m-4.0,-4.7h8.0M221.4,146.5v9.4m-4.0,-4.7h8.0M221.6,146.9v9.4m-4.0,-4.7h8.0M222.1,147.5v9.4m-4.0,-4.7h8.0M222.7,148.3v9.4m-4.0,-4.7h8.0M223.3,149.2v9.4m-4.0,-4.7h8.0M223.9,150.1v9.4m-4.0,-4.7h8.0M224.5,150.8v9.4m-4.0,-4.7h8.0M225.1,151.7v9.4m-4.0,-4.7h8.0M225.8,152.6v9.4m-4.0,-4.7h8.0M226.2,153.1v9.4m-4.0,-4.7h8.0M226.7,153.9v9.4m-4.0,-4.7h8.0M227.4,154.8v9.4m-4.0,-4.7h8.0M228.0,155.7v9.4m-4.0,-4.7h8.0M228.5,156.3v9.4m-4.0,-4.7h8.0M229.1,157.1v9.4m-4.0,-4.7h8.0M229.7,158.0v9.4m-4.0,-4.7h8.0M230.2,158.7v9.4m-4.0,-4.7h8.0M230.7,159.4v9.4m-4.0,-4.7h8.0M231.2,160.0v9.4m-4.0,-4.7h8.0M231.7,160.7v9.4m-4.0,-4.7h8.0M232.2,161.4v9.4m-4.0,-4.7h8.0M232.5,161.8v9.4m-4.0,-4.7h8.0M233.0,162.5v9.4m-4.0,-4.7h8.0M233.7,163.5v9.4m-4.0,-4.7h8.0M234.3,164.4v9.4m-4.0,-4.7h8.0M234.9,165.2v9.4m-4.0,-4.7h8.0M235.3,165.8v9.4m-4.0,-4.7h8.0M235.9,166.6v9.4m-4.0,-4.7h8.0M236.4,167.3v9.4m-4.0,-4.7h8.0M236.8,167.9v9.4m-4.0,-4.7h8.0M237.4,168.8v9.4m-4.0,-4.7h8.0M237.6,169.2v9.4m-4.0,-4.7h8.0M238.2,170.0v9.4m-4.0,-4.7h8.0M238.4,170.4v9.4m-4.0,-4.7h8.0M238.9,171.1v9.4m-4.0,-4.7h8.0M239.4,171.8v9.4m-4.0,-4.7h8.0M239.7,172.3v9.4m-4.0,-4.7h8.0M240.2,173.1v9.4m-4.0,-4.7h8.0M240.6,173.7v9.4m-4.0,-4.7h8.0M241.1,174.5v9.4m-4.0,-4.7h8.0M241.7,175.4v9.4m-4.0,-4.7h8.0M242.1,175.9v9.4m-4.0,-4.7h8.0M242.3,176.3v9.4m-4.0,-4.7h8.0M242.6,176.8v9.4m-4.0,-4.7h8.0M243.1,177.6v9.4m-4.0,-4.7h8.0M243.4,178.1v9.4m-4.0,-4.7h8.0M243.7,178.6v9.4m-4.0,-4.7h8.0M244.3,179.5v9.4m-4.0,-4.7h8.0M244.8,180.3v9.4m-4.0,-4.7h8.0M245.2,180.9v9.4m-4.0,-4.7h8.0M245.8,181.9v9.4m-4.0,-4.7h8.0M246.2,182.4v9.4m-4.0,-4.7h8.0M246.7,183.2v9.4m-4.0,-4.7h8.0M247.0,183.7v9.4m-4.0,-4.7h8.0M247.4,184.3v9.4m-4.0,-4.7h8.0M247.9,185.2v9.4m-4.0,-4.7h8.0M248.5,186.2v9.4m-4.0,-4.7h8.0M249.1,187.1v9.4m-4.0,-4.7h8.0M249.5,187.7v9.4m-4.0,-4.7h8.0M249.9,188.4v9.4m-4.0,-4.7h8.0M250.3,189.0v9.4m-4.0,-4.7h8.0M250.6,189.4v9.4m-4.0,-4.7h8.0M251.0,190.1v9.4m-4.0,-4.7h8.0M251.5,191.0v9.4m-4.0,-4.7h8.0M252.1,191.9v9.4m-4.0,-4.7h8.0M252.6,192.7v9.4m-4.0,-4.7h8.0M253.2,193.7v9.4m-4.0,-4.7h8.0M253.6,194.2v9.4m-4.0,-4.7h8.0M253.9,194.7v9.4m-4.0,-4.7h8.0M254.3,195.3v9.4m-4.0,-4.7h8.0M254.6,195.9v9.4m-4.0,-4.7h8.0M254.9,196.4v9.4m-4.0,-4.7h8.0M255.3,197.0v9.4m-4.0,-4.7h8.0M255.8,197.7v9.4m-4.0,-4.7h8.0M256.2,198.4v9.4m-4.0,-4.7h8.0M256.6,198.9v9.4m-4.0,-4.7h8.0M257.2,199.8v9.4m-4.0,-4.7h8.0M257.8,200.8v9.4m-4.0,-4.7h8.0M258.2,201.4v9.4m-4.0,-4.7h8.0M258.5,201.8v9.4m-4.0,-4.7h8.0M258.8,202.2v9.4m-4.0,-4.7h8.0M259.4,203.1v9.4m-4.0,-4.7h8.0M259.6,203.4v9.4m-4.0,-4.7h8.0M260.2,204.2v9.4m-4.0,-4.7h8.0M260.7,204.9v9.4m-4.0,-4.7h8.0M261.1,205.4v9.4m-4.0,-4.7h8.0M261.7,206.3v9.4m-4.0,-4.7h8.0M261.9,206.6v9.4m-4.0,-4.7h8.0M262.2,207.0v9.4m-4.0,-4.7h8.0M262.7,207.6v9.4m-4.0,-4.7h8.0M262.9,208.0v9.4m-4.0,-4.7h8.0M263.6,208.8v9.4m-4.0,-4.7h8.0M263.9,209.3v9.4m-4.0,-4.7h8.0M264.2,209.7v9.4m-4.0,-4.7h8.0M264.5,210.0v9.4m-4.0,-4.7h8.0M265.1,210.8v9.4m-4.0,-4.7h8.0M265.5,211.4v9.4m-4.0,-4.7h8.0M266.1,212.1v9.4m-4.0,-4.7h8.0M266.6,212.8v9.4m-4.0,-4.7h8.0M267.3,213.6v9.4m-4.0,-4.7h8.0M268.0,214.6v9.4m-4.0,-4.7h8.0M268.5,215.3v9.4m-4.0,-4.7h8.0M268.9,215.8v9.4m-4.0,-4.7h8.0M269.3,216.4v9.4m-4.0,-4.7h8.0M269.7,216.8v9.4m-4.0,-4.7h8.0M269.9,217.2v9.4m-4.0,-4.7h8.0M270.4,217.8v9.4m-4.0,-4.7h8.0M270.9,218.6v9.4m-4.0,-4.7h8.0M271.3,219.0v9.4m-4.0,-4.7h8.0M271.6,219.5v9.4m-4.0,-4.7h8.0M272.0,220.1v9.4m-4.0,-4.7h8.0M272.6,220.8v9.4m-4.0,-4.7h8.0M273.1,221.5v9.4m-4.0,-4.7h8.0M273.6,222.2v9.4m-4.0,-4.7h8.0M274.1,223.1v9.4m-4.0,-4.7h8.0M274.5,223.7v9.4m-4.0,-4.7h8.0M275.1,224.5v9.4m-4.0,-4.7h8.0M275.8,225.4v9.4m-4.0,-4.7h8.0M276.0,225.8v9.4m-4.0,-4.7h8.0M276.7,226.8v9.4m-4.0,-4.7h8.0M277.2,227.6v9.4m-4.0,-4.7h8.0M277.5,228.0v9.4m-4.0,-4.7h8.0M277.9,228.6v9.4m-4.0,-4.7h8.0M278.4,229.4v9.4m-4.0,-4.7h8.0M279.0,230.3v9.4m-4.0,-4.7h8.0M279.4,230.9v9.4m-4.0,-4.7h8.0M279.9,231.6v9.4m-4.0,-4.7h8.0M280.5,232.5v9.4m-4.0,-4.7h8.0M281.1,233.4v9.4m-4.0,-4.7h8.0M281.7,234.4v9.4m-4.0,-4.7h8.0M282.2,235.0v9.4m-4.0,-4.7h8.0M282.7,235.8v9.4m-4.0,-4.7h8.0M283.0,236.2v9.4m-4.0,-4.7h8.0M283.6,237.0v9.4m-4.0,-4.7h8.0M284.2,237.9v9.4m-4.0,-4.7h8.0M284.7,238.6v9.4m-4.0,-4.7h8.0M285.3,239.4v9.4m-4.0,-4.7h8.0M285.6,239.9v9.4m-4.0,-4.7h8.0M286.3,240.7v9.4m-4.0,-4.7h8.0M287.1,241.7v9.4m-4.0,-4.7h8.0M287.8,242.6v9.4m-4.0,-4.7h8.0M288.3,243.2v9.4m-4.0,-4.7h8.0M289.0,244.0v9.4m-4.0,-4.7h8.0M289.4,244.5v9.4m-4.0,-4.7h8.0M290.2,245.3v9.4m-4.0,-4.7h8.0M290.9,246.2v9.4m-4.0,-4.7h8.0M291.4,246.6v9.4m-4.0,-4.7h8.0M291.7,247.0v9.4m-4.0,-4.7h8.0M292.3,247.5v9.4m-4.0,-4.7h8.0M292.9,248.1v9.4m-4.0,-4.7h8.0M293.6,248.8v9.4m-4.0,-4.7h8.0M294.1,249.4v9.4m-4.0,-4.7h8.0M294.4,249.6v9.4m-4.0,-4.7h8.0M295.2,250.4v9.4m-4.0,-4.7h8.0M295.5,250.7v9.4m-4.0,-4.7h8.0M296.3,251.4v9.4m-4.0,-4.7h8.0M296.7,251.7v9.4m-4.0,-4.7h8.0M297.2,252.2v9.4m-4.0,-4.7h8.0M297.9,252.9v9.4m-4.0,-4.7h8.0M298.3,253.3v9.4m-4.0,-4.7h8.0M298.7,253.6v9.4m-4.0,-4.7h8.0M299.3,254.2v9.4m-4.0,-4.7h8.0M300.0,254.8v9.4m-4.0,-4.7h8.0M300.8,255.6v9.4m-4.0,-4.7h8.0M301.5,256.2v9.4m-4.0,-4.7h8.0M302.3,257.1v9.4m-4.0,-4.7h8.0M302.8,257.6v9.4m-4.0,-4.7h8.0M303.6,258.5v9.4m-4.0,-4.7h8.0M304.0,258.8v9.4m-4.0,-4.7h8.0M304.3,259.2v9.4m-4.0,-4.7h8.0M304.9,259.8v9.4m-4.0,-4.7h8.0M305.3,260.3v9.4m-4.0,-4.7h8.0M306.0,261.0v9.4m-4.0,-4.7h8.0M306.6,261.7v9.4m-4.0,-4.7h8.0M307.1,262.3v9.4m-4.0,-4.7h8.0M307.9,263.1v9.4m-4.0,-4.7h8.0M308.4,263.8v9.4m-4.0,-4.7h8.0M308.8,264.2v9.4m-4.0,-4.7h8.0M309.3,264.8v9.4m-4.0,-4.7h8.0M310.0,265.6v9.4m-4.0,-4.7h8.0M310.7,266.4v9.4m-4.0,-4.7h8.0M311.1,266.9v9.4m-4.0,-4.7h8.0M311.8,267.7v9.4m-4.0,-4.7h8.0M312.6,268.6v9.4m-4.0,-4.7h8.0M313.1,269.2v9.4m-4.0,-4.7h8.0M313.7,269.8v9.4m-4.0,-4.7h8.0M314.1,270.2v9.4m-4.0,-4.7h8.0M314.6,270.9v9.4m-4.0,-4.7h8.0M315.1,271.5v9.4m-4.0,-4.7h8.0M315.7,272.1v9.4m-4.0,-4.7h8.0M316.0,272.5v9.4m-4.0,-4.7h8.0M316.8,273.3v9.4m-4.0,-4.7h8.0M317.3,274.0v9.4m-4.0,-4.7h8.0M317.8,274.5v9.4m-4.0,-4.7h8.0M318.5,275.3v9.4m-4.0,-4.7h8.0M319.0,275.9v9.4m-4.0,-4.7h8.0M319.5,276.5v9.4m-4.0,-4.7h8.0M320.2,277.2v9.4m-4.0,-4.7h8.0M320.5,277.6v9.4m-4.0,-4.7h8.0M321.0,278.2v9.4m-4.0,-4.7h8.0M321.5,278.8v9.4m-4.0,-4.7h8.0M322.3,279.6v9.4m-4.0,-4.7h8.0M323.0,280.5v9.4m-4.0,-4.7h8.0M323.4,281.0v9.4m-4.0,-4.7h8.0M323.9,281.5v9.4m-4.0,-4.7h8.0M324.3,281.9v9.4m-4.0,-4.7h8.0M324.8,282.5v9.4m-4.0,-4.7h8.0M325.5,283.3v9.4m-4.0,-4.7h8.0M326.2,284.1v9.4m-4.0,-4.7h8.0M326.7,284.7v9.4m-4.0,-4.7h8.0M327.2,285.2v9.4m-4.0,-4.7h8.0M327.5,285.6v9.4m-4.0,-4.7h8.0M328.1,286.3v9.4m-4.0,-4.7h8.0M328.9,287.1v9.4m-4.0,-4.7h8.0M329.2,287.5v9.4m-4.0,-4.7h8.0M329.9,288.3v9.4m-4.0,-4.7h8.0M330.2,288.6v9.4m-4.0,-4.7h8.0M330.5,289.0v9.4m-4.0,-4.7h8.0M330.9,289.4v9.4m-4.0,-4.7h8.0M331.5,290.1v9.4m-4.0,-4.7h8.0M332.0,290.6v9.4m-4.0,-4.7h8.0M332.4,291.1v9.4m-4.0,-4.7h8.0M333.0,291.8v9.4m-4.0,-4.7h8.0M333.3,292.2v9.4m-4.0,-4.7h8.0M334.0,292.9v9.4m-4.0,-4.7h8.0M334.3,293.3v9.4m-4.0,-4.7h8.0M334.8,293.9v9.4m-4.0,-4.7h8.0M335.2,294.4v9.4m-4.0,-4.7h8.0M335.6,294.8v9.4m-4.0,-4.7h8.0M336.2,295.4v9.4m-4.0,-4.7h8.0M336.7,296.0v9.4m-4.0,-4.7h8.0M337.1,296.5v9.4m-4.0,-4.7h8.0M337.6,297.0v9.4m-4.0,-4.7h8.0M338.2,297.6v9.4m-4.0,-4.7h8.0M338.5,298.0v9.4m-4.0,-4.7h8.0M338.9,298.4v9.4m-4.0,-4.7h8.0M339.5,299.1v9.4m-4.0,-4.7h8.0M340.1,299.8v9.4m-4.0,-4.7h8.0M340.7,300.4v9.4m-4.0,-4.7h8.0M341.4,301.2v9.4m-4.0,-4.7h8.0M342.0,301.8v9.4m-4.0,-4.7h8.0M342.8,302.6v9.4m-4.0,-4.7h8.0M343.2,303.0v9.4m-4.0,-4.7h8.0M343.8,303.8v9.4m-4.0,-4.7h8.0M344.6,304.5v9.4m-4.0,-4.7h8.0M345.4,305.3v9.4m-4.0,-4.7h8.0M345.8,305.8v9.4m-4.0,-4.7h8.0M346.3,306.2v9.4m-4.0,-4.7h8.0M347.1,307.0v9.4m-4.0,-4.7h8.0M347.5,307.4v9.4m-4.0,-4.7h8.0M348.4,308.3v9.4m-4.0,-4.7h8.0M349.2,309.0v9.4m-4.0,-4.7h8.0M349.6,309.4v9.4m-4.0,-4.7h8.0M350.0,309.8v9.4m-4.0,-4.7h8.0M350.7,310.4v9.4m-4.0,-4.7h8.0M351.2,310.8v9.4m-4.0,-4.7h8.0M351.5,311.2v9.4m-4.0,-4.7h8.0M352.3,311.8v9.4m-4.0,-4.7h8.0M352.9,312.3v9.4m-4.0,-4.7h8.0M353.7,313.0v9.4m-4.0,-4.7h8.0M354.1,313.3v9.4m-4.0,-4.7h8.0M354.6,313.8v9.4m-4.0,-4.7h8.0M355.3,314.4v9.4m-4.0,-4.7h8.0M355.7,314.6v9.4m-4.0,-4.7h8.0M356.1,315.0v9.4m-4.0,-4.7h8.0M356.8,315.6v9.4m-4.0,-4.7h8.0M357.7,316.3v9.4m-4.0,-4.7h8.0M358.6,317.0v9.4m-4.0,-4.7h8.0M359.0,317.3v9.4m-4.0,-4.7h8.0M359.7,317.8v9.4m-4.0,-4.7h8.0M360.5,318.4v9.4m-4.0,-4.7h8.0M361.1,318.9v9.4m-4.0,-4.7h8.0M361.9,319.5v9.4m-4.0,-4.7h8.0M362.3,319.8v9.4m-4.0,-4.7h8.0M362.7,320.1v9.4m-4.0,-4.7h8.0M363.1,320.4v9.4m-4.0,-4.7h8.0M363.4,320.6v9.4m-4.0,-4.7h8.0M364.1,321.2v9.4m-4.0,-4.7h8.0M364.7,321.6v9.4m-4.0,-4.7h8.0M365.4,322.1v9.4m-4.0,-4.7h8.0M365.8,322.5v9.4m-4.0,-4.7h8.0M366.3,322.8v9.4m-4.0,-4.7h8.0M366.7,323.1v9.4m-4.0,-4.7h8.0M367.6,323.7v9.4m-4.0,-4.7h8.0M368.5,324.5v9.4m-4.0,-4.7h8.0M369.5,325.1v9.4m-4.0,-4.7h8.0M369.8,325.4v9.4m-4.0,-4.7h8.0M370.2,325.7v9.4m-4.0,-4.7h8.0M371.1,326.4v9.4m-4.0,-4.7h8.0M371.8,326.8v9.4m-4.0,-4.7h8.0M372.6,327.5v9.4m-4.0,-4.7h8.0M373.1,327.8v9.4m-4.0,-4.7h8.0M373.7,328.3v9.4m-4.0,-4.7h8.0M374.4,328.8v9.4m-4.0,-4.7h8.0M374.9,329.3v9.4m-4.0,-4.7h8.0M375.6,329.8v9.4m-4.0,-4.7h8.0M376.0,330.0v9.4m-4.0,-4.7h8.0M376.7,330.6v9.4m-4.0,-4.7h8.0M377.6,331.3v9.4m-4.0,-4.7h8.0M378.0,331.6v9.4m-4.0,-4.7h8.0M378.6,332.1v9.4m-4.0,-4.7h8.0M379.4,332.7v9.4m-4.0,-4.7h8.0M380.0,333.1v9.4m-4.0,-4.7h8.0M380.4,333.5v9.4m-4.0,-4.7h8.0M380.8,333.8v9.4m-4.0,-4.7h8.0M381.5,334.3v9.4m-4.0,-4.7h8.0M381.8,334.5v9.4m-4.0,-4.7h8.0M382.7,335.2v9.4m-4.0,-4.7h8.0M383.5,335.9v9.4m-4.0,-4.7h8.0M384.3,336.4v9.4m-4.0,-4.7h8.0M385.1,337.1v9.4m-4.0,-4.7h8.0M385.9,337.7v9.4m-4.0,-4.7h8.0M386.4,338.1v9.4m-4.0,-4.7h8.0M387.1,338.6v9.4m-4.0,-4.7h8.0M387.8,339.1v9.4m-4.0,-4.7h8.0M388.7,339.8v9.4m-4.0,-4.7h8.0M389.5,340.5v9.4m-4.0,-4.7h8.0M390.0,340.8v9.4m-4.0,-4.7h8.0M390.9,341.5v9.4m-4.0,-4.7h8.0M391.7,342.1v9.4m-4.0,-4.7h8.0M392.5,342.7v9.4m-4.0,-4.7h8.0M393.4,343.4v9.4m-4.0,-4.7h8.0M394.0,343.8v9.4m-4.0,-4.7h8.0M394.8,344.5v9.4m-4.0,-4.7h8.0M395.7,345.1v9.4m-4.0,-4.7h8.0M396.5,345.7v9.4m-4.0,-4.7h8.0M397.3,346.3v9.4m-4.0,-4.7h8.0M398.1,346.9v9.4m-4.0,-4.7h8.0M398.7,347.3v9.4m-4.0,-4.7h8.0M399.5,347.9v9.4m-4.0,-4.7h8.0M399.9,348.2v9.4m-4.0,-4.7h8.0M400.4,348.6v9.4m-4.0,-4.7h8.0M401.0,349.0v9.4m-4.0,-4.7h8.0M401.4,349.3v9.4m-4.0,-4.7h8.0M401.9,349.7v9.4m-4.0,-4.7h8.0M402.7,350.2v9.4m-4.0,-4.7h8.0M403.4,350.7v9.4m-4.0,-4.7h8.0M403.9,351.0v9.4m-4.0,-4.7h8.0M404.9,351.7v9.4m-4.0,-4.7h8.0M405.7,352.2v9.4m-4.0,-4.7h8.0M406.2,352.5v9.4m-4.0,-4.7h8.0M407.0,353.0v9.4m-4.0,-4.7h8.0M407.7,353.5v9.4m-4.0,-4.7h8.0M408.4,353.9v9.4m-4.0,-4.7h8.0M409.0,354.3v9.4m-4.0,-4.7h8.0M410.0,355.0v9.4m-4.0,-4.7h8.0M410.8,355.5v9.4m-4.0,-4.7h8.0M411.6,356.0v9.4m-4.0,-4.7h8.0M412.4,356.6v9.4m-4.0,-4.7h8.0M413.4,357.3v9.4m-4.0,-4.7h8.0M413.7,357.5v9.4m-4.0,-4.7h8.0M414.5,358.0v9.4m-4.0,-4.7h8.0M415.2,358.6v9.4m-4.0,-4.7h8.0M415.7,359.0v9.4m-4.0,-4.7h8.0M416.3,359.4v9.4m-4.0,-4.7h8.0M416.7,359.7v9.4m-4.0,-4.7h8.0M417.1,360.0v9.4m-4.0,-4.7h8.0M417.6,360.5v9.4m-4.0,-4.7h8.0M418.0,360.8v9.4m-4.0,-4.7h8.0M418.5,361.2v9.4m-4.0,-4.7h8.0M419.3,361.9v9.4m-4.0,-4.7h8.0M419.9,362.5v9.4m-4.0,-4.7h8.0M420.5,363.1v9.4m-4.0,-4.7h8.0M421.3,363.9v9.4m-4.0,-4.7h8.0M421.8,364.6v9.4m-4.0,-4.7h8.0M422.6,365.5v9.4m-4.0,-4.7h8.0M423.2,366.1v9.4m-4.0,-4.7h8.0M424.0,366.9v9.4m-4.0,-4.7h8.0M424.3,367.2v9.4m-4.0,-4.7h8.0M424.9,367.9v9.4m-4.0,-4.7h8.0M425.6,368.6v9.4m-4.0,-4.7h8.0M425.9,368.9v9.4m-4.0,-4.7h8.0M426.7,369.7v9.4m-4.0,-4.7h8.0M427.1,370.0v9.4m-4.0,-4.7h8.0M427.7,370.5v9.4m-4.0,-4.7h8.0M428.1,370.9v9.4m-4.0,-4.7h8.0M428.7,371.4v9.4m-4.0,-4.7h8.0M429.4,372.0v9.4m-4.0,-4.7h8.0M429.7,372.3v9.4m-4.0,-4.7h8.0M430.6,373.0v9.4m-4.0,-4.7h8.0M431.2,373.5v9.4m-4.0,-4.7h8.0M431.8,374.0v9.4m-4.0,-4.7h8.0M432.5,374.6v9.4m-4.0,-4.7h8.0M433.0,375.0v9.4m-4.0,-4.7h8.0M433.5,375.4v9.4m-4.0,-4.7h8.0M434.3,376.0v9.4m-4.0,-4.7h8.0M434.9,376.5v9.4m-4.0,-4.7h8.0M435.4,376.9v9.4m-4.0,-4.7h8.0M436.2,377.4v9.4m-4.0,-4.7h8.0M436.7,377.8v9.4m-4.0,-4.7h8.0M437.1,378.1v9.4m-4.0,-4.7h8.0M437.5,378.4v9.4m-4.0,-4.7h8.0M437.9,378.7v9.4m-4.0,-4.7h8.0M438.3,379.0v9.4m-4.0,-4.7h8.0M439.1,379.6v9.4m-4.0,-4.7h8.0M439.7,380.0v9.4m-4.0,-4.7h8.0M440.6,380.6v9.4m-4.0,-4.7h8.0M441.4,381.2v9.4m-4.0,-4.7h8.0M441.8,381.5v9.4m-4.0,-4.7h8.0M442.8,382.1v9.4m-4.0,-4.7h8.0M443.7,382.8v9.4m-4.0,-4.7h8.0M444.1,383.0v9.4m-4.0,-4.7h8.0M445.0,383.7v9.4m-4.0,-4.7h8.0M445.7,384.1v9.4m-4.0,-4.7h8.0M446.3,384.5v9.4m-4.0,-4.7h8.0M447.3,385.2v9.4m-4.0,-4.7h8.0M447.8,385.5v9.4m-4.0,-4.7h8.0M448.5,386.0v9.4m-4.0,-4.7h8.0M449.4,386.6v9.4m-4.0,-4.7h8.0M450.2,387.1v9.4m-4.0,-4.7h8.0M450.9,387.6v9.4m-4.0,-4.7h8.0M451.9,388.2v9.4m-4.0,-4.7h8.0M452.8,388.8v9.4m-4.0,-4.7h8.0M453.5,389.3v9.4m-4.0,-4.7h8.0M453.9,389.5v9.4m-4.0,-4.7h8.0M454.7,390.0v9.4m-4.0,-4.7h8.0M455.3,390.4v9.4m-4.0,-4.7h8.0M455.8,390.7v9.4m-4.0,-4.7h8.0M456.2,390.9v9.4m-4.0,-4.7h8.0M456.9,391.4v9.4m-4.0,-4.7h8.0M457.3,391.6v9.4m-4.0,-4.7h8.0M458.0,392.0v9.4m-4.0,-4.7h8.0M458.8,392.5v9.4m-4.0,-4.7h8.0M459.4,392.9v9.4m-4.0,-4.7h8.0M459.9,393.2v9.4m-4.0,-4.7h8.0M460.7,393.6v9.4m-4.0,-4.7h8.0M461.3,394.0v9.4m-4.0,-4.7h8.0M462.2,394.5v9.4m-4.0,-4.7h8.0M462.9,395.0v9.4m-4.0,-4.7h8.0M463.9,395.6v9.4m-4.0,-4.7h8.0M464.9,396.1v9.4m-4.0,-4.7h8.0M465.8,396.6v9.4m-4.0,-4.7h8.0M466.3,396.9v9.4m-4.0,-4.7h8.0M466.7,397.2v9.4m-4.0,-4.7h8.0M467.7,397.7v9.4m-4.0,-4.7h8.0M468.6,398.2v9.4m-4.0,-4.7h8.0M469.4,398.7v9.4m-4.0,-4.7h8.0M470.0,399.0v9.4m-4.0,-4.7h8.0M470.5,399.3v9.4m-4.0,-4.7h8.0M471.3,399.8v9.4m-4.0,-4.7h8.0M472.1,400.3v9.4m-4.0,-4.7h8.0M472.8,400.7v9.4m-4.0,-4.7h8.0M473.6,401.2v9.4m-4.0,-4.7h8.0M474.4,401.7v9.4m-4.0,-4.7h8.0M474.9,402.0v9.4m-4.0,-4.7h8.0M475.4,402.3v9.4m-4.0,-4.7h8.0M476.4,402.9v9.4m-4.0,-4.7h8.0M477.4,403.5v9.4m-4.0,-4.7h8.0M478.4,404.0v9.4m-4.0,-4.7h8.0M478.7,404.3v9.4m-4.0,-4.7h8.0M479.1,404.5v9.4m-4.0,-4.7h8.0M479.6,404.8v9.4m-4.0,-4.7h8.0M480.3,405.2v9.4m-4.0,-4.7h8.0M481.0,405.7v9.4m-4.0,-4.7h8.0M481.4,406.0v9.4m-4.0,-4.7h8.0M482.1,406.4v9.4m-4.0,-4.7h8.0M482.5,406.6v9.4m-4.0,-4.7h8.0M482.9,406.9v9.4m-4.0,-4.7h8.0M483.7,407.4v9.4m-4.0,-4.7h8.0M484.4,407.8v9.4m-4.0,-4.7h8.0M485.2,408.3v9.4m-4.0,-4.7h8.0M485.8,408.7v9.4m-4.0,-4.7h8.0M486.5,409.1v9.4m-4.0,-4.7h8.0M486.9,409.4v9.4m-4.0,-4.7h8.0M487.5,409.7v9.4m-4.0,-4.7h8.0M488.4,410.3v9.4m-4.0,-4.7h8.0M489.3,410.8v9.4m-4.0,-4.7h8.0M489.7,411.1v9.4m-4.0,-4.7h8.0M490.1,411.3v9.4m-4.0,-4.7h8.0M491.0,411.9v9.4m-4.0,-4.7h8.0M491.8,412.3v9.4m-4.0,-4.7h8.0M492.6,412.9v9.4m-4.0,-4.7h8.0M493.1,413.1v9.4m-4.0,-4.7h8.0M493.8,413.5v9.4m-4.0,-4.7h8.0M494.3,413.8v9.4m-4.0,-4.7h8.0M495.2,414.4v9.4m-4.0,-4.7h8.0M495.8,414.7v9.4m-4.0,-4.7h8.0M496.6,415.1v9.4m-4.0,-4.7h8.0M497.6,415.7v9.4m-4.0,-4.7h8.0M498.2,416.0v9.4m-4.0,-4.7h8.0M499.0,416.4v9.4m-4.0,-4.7h8.0M499.8,416.9v9.4m-4.0,-4.7h8.0M500.8,417.4v9.4m-4.0,-4.7h8.0M501.5,417.8v9.4m-4.0,-4.7h8.0M502.1,418.1v9.4m-4.0,-4.7h8.0M502.5,418.3v9.4m-4.0,-4.7h8.0M503.5,418.8v9.4m-4.0,-4.7h8.0M503.9,419.0v9.4m-4.0,-4.7h8.0M504.4,419.2v9.4m-4.0,-4.7h8.0M505.1,419.6v9.4m-4.0,-4.7h8.0M505.8,419.9v9.4m-4.0,-4.7h8.0M506.7,420.4v9.4m-4.0,-4.7h8.0M507.3,420.6v9.4m-4.0,-4.7h8.0M508.2,421.1v9.4m-4.0,-4.7h8.0M508.6,421.3v9.4m-4.0,-4.7h8.0M509.1,421.5v9.4m-4.0,-4.7h8.0M510.0,421.9v9.4m-4.0,-4.7h8.0M510.4,422.1v9.4m-4.0,-4.7h8.0M511.0,422.4v9.4m-4.0,-4.7h8.0M511.9,422.8v9.4m-4.0,-4.7h8.0M512.7,423.2v9.4m-4.0,-4.7h8.0M513.3,423.5v9.4m-4.0,-4.7h8.0M513.8,423.7v9.4m-4.0,-4.7h8.0M514.4,423.9v9.4m-4.0,-4.7h8.0M515.3,424.3v9.4m-4.0,-4.7h8.0M515.9,424.6v9.4m-4.0,-4.7h8.0M516.4,424.8v9.4m-4.0,-4.7h8.0M517.2,425.2v9.4m-4.0,-4.7h8.0M518.0,425.6v9.4m-4.0,-4.7h8.0M519.1,426.0v9.4m-4.0,-4.7h8.0M520.4,426.6v9.4m-4.0,-4.7h8.0M521.9,427.2v9.4m-4.0,-4.7h8.0M523.4,427.9v9.4m-4.0,-4.7h8.0M524.4,428.3v9.4m-4.0,-4.7h8.0M525.9,429.0v9.4m-4.0,-4.7h8.0M526.5,429.3v9.4m-4.0,-4.7h8.0M528.0,429.9v9.4m-4.0,-4.7h8.0M529.4,430.5v9.4m-4.0,-4.7h8.0M530.5,431.0v9.4m-4.0,-4.7h8.0M530.9,431.1v9.4m-4.0,-4.7h8.0M532.3,431.7v9.4m-4.0,-4.7h8.0M533.1,432.1v9.4m-4.0,-4.7h8.0M533.8,432.4v9.4m-4.0,-4.7h8.0M535.3,433.0v9.4m-4.0,-4.7h8.0M535.7,433.2v9.4m-4.0,-4.7h8.0M536.8,433.6v9.4m-4.0,-4.7h8.0M537.4,433.9v9.4m-4.0,-4.7h8.0M538.8,434.4v9.4m-4.0,-4.7h8.0M539.3,434.7v9.4m-4.0,-4.7h8.0M539.7,434.8v9.4m-4.0,-4.7h8.0M540.7,435.2v9.4m-4.0,-4.7h8.0M541.5,435.5v9.4m-4.0,-4.7h8.0M542.8,436.0v9.4m-4.0,-4.7h8.0M543.4,436.3v9.4m-4.0,-4.7h8.0M544.1,436.5v9.4m-4.0,-4.7h8.0M544.8,436.8v9.4m-4.0,-4.7h8.0M545.8,437.1v9.4m-4.0,-4.7h8.0M546.2,437.3v9.4m-4.0,-4.7h8.0M547.3,437.7v9.4m-4.0,-4.7h8.0M548.6,438.1v9.4m-4.0,-4.7h8.0M549.8,438.5v9.4m-4.0,-4.7h8.0M550.5,438.7v9.4m-4.0,-4.7h8.0M551.4,439.0v9.4m-4.0,-4.7h8.0M551.8,439.2v9.4m-4.0,-4.7h8.0M552.7,439.4v9.4m-4.0,-4.7h8.0M554.0,439.8v9.4m-4.0,-4.7h8.0M554.3,439.8v9.4m-4.0,-4.7h8.0M555.5,440.2v9.4m-4.0,-4.7h8.0M557.0,440.6v9.4m-4.0,-4.7h8.0M557.7,440.7v9.4m-4.0,-4.7h8.0M558.4,441.0v9.4m-4.0,-4.7h8.0M559.6,441.3v9.4m-4.0,-4.7h8.0M560.1,441.5v9.4m-4.0,-4.7h8.0M560.8,441.7v9.4m-4.0,-4.7h8.0M561.8,442.1v9.4m-4.0,-4.7h8.0M562.8,442.4v9.4m-4.0,-4.7h8.0M563.3,442.6v9.4m-4.0,-4.7h8.0M563.8,442.8v9.4m-4.0,-4.7h8.0M564.7,443.3v9.4m-4.0,-4.7h8.0M566.1,443.9v9.4m-4.0,-4.7h8.0M566.6,444.1v9.4m-4.0,-4.7h8.0M567.8,444.7v9.4m-4.0,-4.7h8.0M568.7,445.2v9.4m-4.0,-4.7h8.0M569.3,445.5v9.4m-4.0,-4.7h8.0M570.1,445.9v9.4m-4.0,-4.7h8.0M571.3,446.6v9.4m-4.0,-4.7h8.0M571.7,446.8v9.4m-4.0,-4.7h8.0M572.7,447.3v9.4m-4.0,-4.7h8.0M573.5,447.8v9.4m-4.0,-4.7h8.0M573.9,448.0v9.4m-4.0,-4.7h8.0M574.7,448.4v9.4m-4.0,-4.7h8.0M575.2,448.7v9.4m-4.0,-4.7h8.0M575.9,449.1v9.4m-4.0,-4.7h8.0M576.2,449.2v9.4m-4.0,-4.7h8.0M577.2,449.7v9.4m-4.0,-4.7h8.0M578.5,450.4v9.4m-4.0,-4.7h8.0M579.8,451.1v9.4m-4.0,-4.7h8.0M581.3,451.8v9.4m-4.0,-4.7h8.0M581.9,452.1v9.4m-4.0,-4.7h8.0M583.1,452.7v9.4m-4.0,-4.7h8.0M583.9,453.1v9.4m-4.0,-4.7h8.0M585.0,453.6v9.4m-4.0,-4.7h8.0M585.9,454.0v9.4m-4.0,-4.7h8.0M587.1,454.6v9.4m-4.0,-4.7h8.0M587.9,454.9v9.4m-4.0,-4.7h8.0M589.4,455.6v9.4m-4.0,-4.7h8.0M590.3,456.0v9.4m-4.0,-4.7h8.0M591.6,456.5v9.4m-4.0,-4.7h8.0M592.1,456.7v9.4m-4.0,-4.7h8.0M593.3,457.3v9.4m-4.0,-4.7h8.0M593.9,457.5v9.4m-4.0,-4.7h8.0M594.7,457.8v9.4m-4.0,-4.7h8.0M595.4,458.1v9.4m-4.0,-4.7h8.0M596.6,458.6v9.4m-4.0,-4.7h8.0M597.6,459.0v9.4m-4.0,-4.7h8.0M598.2,459.3v9.4m-4.0,-4.7h8.0M599.7,459.9v9.4m-4.0,-4.7h8.0M601.6,460.6v9.4m-4.0,-4.7h8.0M603.4,461.3v9.4m-4.0,-4.7h8.0M605.1,461.9v9.4m-4.0,-4.7h8.0M606.9,462.6v9.4m-4.0,-4.7h8.0M607.3,462.7v9.4m-4.0,-4.7h8.0M609.4,463.4v9.4m-4.0,-4.7h8.0M610.8,463.8v9.4m-4.0,-4.7h8.0M612.8,464.4v9.4m-4.0,-4.7h8.0M613.3,464.6v9.4m-4.0,-4.7h8.0M614.5,464.9v9.4m-4.0,-4.7h8.0M616.5,465.5v9.4m-4.0,-4.7h8.0M618.6,466.0v9.4m-4.0,-4.7h8.0M620.0,466.3v9.4m-4.0,-4.7h8.0M622.0,466.8v9.4m-4.0,-4.7h8.0M622.3,466.9v9.4m-4.0,-4.7h8.0M622.7,467.0v9.4m-4.0,-4.7h8.0M623.5,467.2v9.4m-4.0,-4.7h8.0M625.4,467.7v9.4m-4.0,-4.7h8.0M627.0,468.1v9.4m-4.0,-4.7h8.0M628.1,468.3v9.4m-4.0,-4.7h8.0M630.1,468.9v9.4m-4.0,-4.7h8.0M631.4,469.2v9.4m-4.0,-4.7h8.0M631.9,469.4v9.4m-4.0,-4.7h8.0M633.9,470.0v9.4m-4.0,-4.7h8.0M635.6,470.5v9.4m-4.0,-4.7h8.0M637.7,471.2v9.4m-4.0,-4.7h8.0M639.4,471.9v9.4m-4.0,-4.7h8.0M640.6,472.3v9.4m-4.0,-4.7h8.0M642.4,473.1v9.4m-4.0,-4.7h8.0M642.9,473.3v9.4m-4.0,-4.7h8.0M643.2,473.4v9.4m-4.0,-4.7h8.0M643.9,473.7v9.4m-4.0,-4.7h8.0M645.9,474.5v9.4m-4.0,-4.7h8.0M646.3,474.7v9.4m-4.0,-4.7h8.0M647.9,475.4v9.4m-4.0,-4.7h8.0M649.1,475.9v9.4m-4.0,-4.7h8.0M649.6,476.1v9.4m-4.0,-4.7h8.0M650.2,476.4v9.4m-4.0,-4.7h8.0M651.7,477.1v9.4m-4.0,-4.7h8.0M652.7,477.5v9.4m-4.0,-4.7h8.0M654.5,478.2v9.4m-4.0,-4.7h8.0M654.9,478.4v9.4m-4.0,-4.7h8.0M656.2,478.9v9.4m-4.0,-4.7h8.0M658.0,479.6v9.4m-4.0,-4.7h8.0M658.7,479.8v9.4m-4.0,-4.7h8.0M659.4,480.1v9.4m-4.0,-4.7h8.0M660.8,480.5v9.4m-4.0,-4.7h8.0M661.3,480.7v9.4m-4.0,-4.7h8.0M662.8,481.2v9.4m-4.0,-4.7h8.0M664.8,481.8v9.4m-4.0,-4.7h8.0M665.6,482.1v9.4m-4.0,-4.7h8.0M666.2,482.3v9.4m-4.0,-4.7h8.0M668.1,482.9v9.4m-4.0,-4.7h8.0M668.5,483.0v9.4m-4.0,-4.7h8.0M670.3,483.5v9.4m-4.0,-4.7h8.0M671.4,483.8v9.4m-4.0,-4.7h8.0M673.2,484.3v9.4m-4.0,-4.7h8.0M674.1,484.6v9.4m-4.0,-4.7h8.0M676.2,485.2v9.4m-4.0,-4.7h8.0M677.7,485.6v9.4m-4.0,-4.7h8.0M679.1,486.0v9.4m-4.0,-4.7h8.0M679.5,486.1v9.4m-4.0,-4.7h8.0M680.8,486.5v9.4m-4.0,-4.7h8.0M681.5,486.7v9.4m-4.0,-4.7h8.0M683.1,487.2v9.4m-4.0,-4.7h8.0M684.0,487.5v9.4m-4.0,-4.7h8.0M684.7,487.7v9.4m-4.0,-4.7h8.0M685.2,487.9v9.4m-4.0,-4.7h8.0M685.9,488.1v9.4m-4.0,-4.7h8.0M686.4,488.3v9.4m-4.0,-4.7h8.0M687.1,488.5v9.4m-4.0,-4.7h8.0M688.4,488.9v9.4m-4.0,-4.7h8.0M690.2,489.6v9.4m-4.0,-4.7h8.0M691.9,490.2v9.4m-4.0,-4.7h8.0M692.8,490.5v9.4m-4.0,-4.7h8.0M694.8,491.2v9.4m-4.0,-4.7h8.0M695.7,491.6v9.4m-4.0,-4.7h8.0M696.8,491.9v9.4m-4.0,-4.7h8.0M698.0,492.4v9.4m-4.0,-4.7h8.0M699.4,492.8v9.4m-4.0,-4.7h8.0M699.5,492.9v9.4m-4.0,-4.7h8.0M702.3,493.8v9.4m-4.0,-4.7h8.0M703.3,494.1v9.4m-4.0,-4.7h8.0M705.1,494.8v9.4m-4.0,-4.7h8.0M706.2,495.1v9.4m-4.0,-4.7h8.0M708.3,495.7v9.4m-4.0,-4.7h8.0M709.8,496.0v9.4m-4.0,-4.7h8.0M710.5,496.1v9.4m-4.0,-4.7h8.0M712.0,496.3v9.4m-4.0,-4.7h8.0M714.9,496.6v9.4m-4.0,-4.7h8.0M714.9,496.6v9.4m-4.0,-4.7h8.0M717.8,496.8v9.4m-4.0,-4.7h8.0M718.3,496.8v9.4m-4.0,-4.7h8.0M719.5,496.9v9.4m-4.0,-4.7h8.0M721.4,497.1v9.4m-4.0,-4.7h8.0M722.7,497.2v9.4m-4.0,-4.7h8.0M724.0,497.3v9.4m-4.0,-4.7h8.0M725.7,497.5v9.4m-4.0,-4.7h8.0M727.6,497.7v9.4m-4.0,-4.7h8.0M729.0,497.9v9.4m-4.0,-4.7h8.0M730.8,498.2v9.4m-4.0,-4.7h8.0M731.5,498.3v9.4m-4.0,-4.7h8.0M733.8,498.7v9.4m-4.0,-4.7h8.0M735.9,499.1v9.4m-4.0,-4.7h8.0M737.3,499.3v9.4m-4.0,-4.7h8.0M738.3,499.5v9.4m-4.0,-4.7h8.0M740.8,500.0v9.4m-4.0,-4.7h8.0M742.2,500.4v9.4m-4.0,-4.7h8.0M743.2,500.7v9.4m-4.0,-4.7h8.0M745.6,501.3v9.4m-4.0,-4.7h8.0M746.3,501.4v9.4m-4.0,-4.7h8.0M748.7,502.0v9.4m-4.0,-4.7h8.0M750.0,502.3v9.4m-4.0,-4.7h8.0M751.7,502.7v9.4m-4.0,-4.7h8.0M753.6,503.2v9.4m-4.0,-4.7h8.0M755.1,503.6v9.4m-4.0,-4.7h8.0M755.6,503.7v9.4m-4.0,-4.7h8.0M758.7,504.5v9.4m-4.0,-4.7h8.0M763.4,505.8v9.4m-4.0,-4.7h8.0M765.2,506.3v9.4m-4.0,-4.7h8.0M766.0,506.6v9.4m-4.0,-4.7h8.0M768.2,507.2v9.4m-4.0,-4.7h8.0M769.3,507.6v9.4m-4.0,-4.7h8.0M771.9,508.4v9.4m-4.0,-4.7h8.0M772.8,508.7v9.4m-4.0,-4.7h8.0M774.8,509.3v9.4m-4.0,-4.7h8.0M776.6,509.8v9.4m-4.0,-4.7h8.0M777.8,510.2v9.4m-4.0,-4.7h8.0M778.7,510.4v9.4m-4.0,-4.7h8.0M781.3,511.2v9.4m-4.0,-4.7h8.0M782.6,511.5v9.4m-4.0,-4.7h8.0M783.9,511.9v9.4m-4.0,-4.7h8.0M785.6,512.4v9.4m-4.0,-4.7h8.0M787.5,512.9v9.4m-4.0,-4.7h8.0M788.2,513.1v9.4m-4.0,-4.7h8.0M789.8,513.5v9.4m-4.0,-4.7h8.0M792.4,514.0v9.4m-4.0,-4.7h8.0M794.2,514.4v9.4m-4.0,-4.7h8.0M795.3,514.5v9.4m-4.0,-4.7h8.0M797.8,514.9v9.4m-4.0,-4.7h8.0M798.1,514.9v9.4m-4.0,-4.7h8.0M800.3,515.1v9.4m-4.0,-4.7h8.0M800.7,515.2v9.4m-4.0,-4.7h8.0M802.8,515.3v9.4m-4.0,-4.7h8.0M803.7,515.4v9.4m-4.0,-4.7h8.0M805.4,515.5v9.4m-4.0,-4.7h8.0M811.7,516.1v9.4m-4.0,-4.7h8.0M812.6,516.2v9.4m-4.0,-4.7h8.0M815.1,516.4v9.4m-4.0,-4.7h8.0M816.6,516.6v9.4m-4.0,-4.7h8.0M817.7,516.7v9.4m-4.0,-4.7h8.0M819.0,516.8v9.4m-4.0,-4.7h8.0M820.8,517.0v9.4m-4.0,-4.7h8.0M823.3,517.3v9.4m-4.0,-4.7h8.0M824.3,517.4v9.4m-4.0,-4.7h8.0M827.2,517.7v9.4m-4.0,-4.7h8.0M828.0,517.8v9.4m-4.0,-4.7h8.0M831.6,518.1v9.4m-4.0,-4.7h8.0M832.9,518.2v9.4m-4.0,-4.7h8.0M835.6,518.5v9.4m-4.0,-4.7h8.0M836.6,518.6v9.4m-4.0,-4.7h8.0M838.6,518.8v9.4m-4.0,-4.7h8.0M841.2,519.0v9.4m-4.0,-4.7h8.0M842.0,519.1v9.4m-4.0,-4.7h8.0M848.5,520.0v9.4m-4.0,-4.7h8.0M850.3,520.4v9.4m-4.0,-4.7h8.0M851.5,520.6v9.4m-4.0,-4.7h8.0M852.7,520.8v9.4m-4.0,-4.7h8.0M854.8,521.3v9.4m-4.0,-4.7h8.0M862.1,522.9v9.4m-4.0,-4.7h8.0M862.2,522.9v9.4m-4.0,-4.7h8.0M864.8,523.5v9.4m-4.0,-4.7h8.0M865.7,523.8v9.4m-4.0,-4.7h8.0M867.5,524.2v9.4m-4.0,-4.7h8.0M869.8,524.8v9.4m-4.0,-4.7h8.0M871.2,525.2v9.4m-4.0,-4.7h8.0M872.4,525.5v9.4m-4.0,-4.7h8.0M874.1,526.0v9.4m-4.0,-4.7h8.0M875.7,526.4v9.4m-4.0,-4.7h8.0M878.2,527.0v9.4m-4.0,-4.7h8.0M879.3,527.3v9.4m-4.0,-4.7h8.0M881.1,527.7v9.4m-4.0,-4.7h8.0M881.9,527.9v9.4m-4.0,-4.7h8.0M886.7,528.9v9.4m-4.0,-4.7h8.0M888.3,529.0v9.4m-4.0,-4.7h8.0M889.4,529.1v9.4m-4.0,-4.7h8.0M892.3,529.3v9.4m-4.0,-4.7h8.0M893.6,529.3v9.4m-4.0,-4.7h8.0M895.9,529.4v9.4m-4.0,-4.7h8.0M897.1,529.4v9.4m-4.0,-4.7h8.0M897.8,529.4v9.4m-4.0,-4.7h8.0M900.3,529.5v9.4m-4.0,-4.7h8.0M905.3,529.6v9.4m-4.0,-4.7h8.0M906.2,529.7v9.4m-4.0,-4.7h8.0M906.6,529.7v9.4m-4.0,-4.7h8.0M908.5,529.8v9.4m-4.0,-4.7h8.0M912.9,531.1v9.4m-4.0,-4.7h8.0M914.6,532.5v9.4m-4.0,-4.7h8.0M917.0,533.0v9.4m-4.0,-4.7h8.0M919.8,533.1v9.4m-4.0,-4.7h8.0M920.2,533.2v9.4m-4.0,-4.7h8.0M921.6,533.2v9.4m-4.0,-4.7h8.0M923.3,533.2v9.4m-4.0,-4.7h8.0M925.7,533.3v9.4m-4.0,-4.7h8.0M926.6,533.3v9.4m-4.0,-4.7h8.0M927.7,533.4v9.4m-4.0,-4.7h8.0M929.8,533.4v9.4m-4.0,-4.7h8.0M931.9,533.8v9.4m-4.0,-4.7h8.0M932.1,533.8v9.4m-4.0,-4.7h8.0M937.2,536.7v9.4m-4.0,-4.7h8.0M938.9,537.5v9.4m-4.0,-4.7h8.0M945.8,538.3v9.4m-4.0,-4.7h8.0M948.3,538.3v9.4m-4.0,-4.7h8.0M950.8,538.3v9.4m-4.0,-4.7h8.0M960.0,538.3v9.4m-4.0,-4.7h8.0M961.7,538.3v9.4m-4.0,-4.7h8.0M963.3,538.3v9.4m-4.0,-4.7h8.0M965.0,538.3v9.4m-4.0,-4.7h8.0M970.8,538.3v9.4m-4.0,-4.7h8.0M973.3,538.3v9.4m-4.0,-4.7h8.0M975.0,538.3v9.4m-4.0,-4.7h8.0M976.6,538.3v9.4m-4.0,-4.7h8.0M978.3,538.3v9.4m-4.0,-4.7h8.0M980.0,538.3v9.4m-4.0,-4.7h8.0M981.6,538.3v9.4m-4.0,-4.7h8.0M983.3,538.3v9.4m-4.0,-4.7h8.0M985.0,538.3v9.4m-4.0,-4.7h8.0M986.7,538.3v9.4m-4.0,-4.7h8.0M992.5,538.3v9.4m-4.0,-4.7h8.0M1001.7,538.3v9.4m-4.0,-4.7h8.0M1003.4,538.3v9.4m-4.0,-4.7h8.0M1005.0,538.3v9.4m-4.0,-4.7h8.0M1007.5,538.3v9.4m-4.0,-4.7h8.0M1010.0,538.3v9.4m-4.0,-4.7h8.0M1011.7,538.3v9.4m-4.0,-4.7h8.0M1013.4,538.3v9.4m-4.0,-4.7h8.0M1016.7,538.3v9.4m-4.0,-4.7h8.0M1021.7,538.3v9.4m-4.0,-4.7h8.0" fill="none" stroke="#6E8427" stroke-width="1.1"/>
<text x="483" y="43.5" font-size="16.55" fill="#1a1a1a" xml:space="preserve"><tspan fill="#1B4380">ABE + AI</tspan> versus <tspan fill="#6E8427">PAL + AI</tspan>: aHR 0.96, 95% CI 0.87-1.06, <tspan font-style="italic" dx="2">P</tspan> = 0.4316</text>
<text x="483" y="63.3" font-size="16.55" fill="#1a1a1a" xml:space="preserve"><tspan fill="#A3212B">RIB + AI</tspan> versus <tspan fill="#6E8427">PAL + AI</tspan>: aHR 0.98, 95% CI 0.88-1.08, <tspan font-style="italic" dx="2">P</tspan> = 0.6190</text>
<text x="483" y="83.1" font-size="16.55" fill="#1a1a1a" xml:space="preserve"><tspan fill="#1B4380">ABE + AI</tspan> versus <tspan fill="#A3212B">RIB + AI</tspan>: aHR 0.98, 95% CI 0.86-1.12, <tspan font-style="italic" dx="2">P</tspan> = 0.8110</text>
<text x="208.3" y="540.0" font-size="16.4" fill="#000" font-weight="bold">Median rwPFS</text>
<text x="208.3" y="560.4" font-size="16.4" fill="#000" font-weight="bold">(95% CI), months</text>
<text x="120.0" y="584.8" font-size="16.5" fill="#1B4380">ABE + AI</text>
<text x="208.3" y="584.8" font-size="16.5" fill="#1a1a1a">22.8 (20.2-26.5)</text>
<text x="120.0" y="604.8" font-size="16.5" fill="#A3212B">RIB + AI</text>
<text x="208.3" y="604.8" font-size="16.5" fill="#1a1a1a">22.8 (21.0-25.6)</text>
<text x="120.0" y="624.8" font-size="16.5" fill="#6E8427">PAL + AI</text>
<text x="208.3" y="624.8" font-size="16.5" fill="#1a1a1a">22.7 (21.6-23.9)</text>
<text x="44.7" y="736.7" font-size="16.2" fill="#1B4380">ABE + AI</text>
<text x="152.9" y="736.7" font-size="15.8" fill="#1B4380" text-anchor="middle">1037</text>
<text x="211.9" y="736.7" font-size="15.8" fill="#1B4380" text-anchor="middle">739</text>
<text x="270.9" y="736.7" font-size="15.8" fill="#1B4380" text-anchor="middle">479</text>
<text x="329.9" y="736.7" font-size="15.8" fill="#1B4380" text-anchor="middle">324</text>
<text x="388.8" y="736.7" font-size="15.8" fill="#1B4380" text-anchor="middle">215</text>
<text x="447.8" y="736.7" font-size="15.8" fill="#1B4380" text-anchor="middle">145</text>
<text x="506.8" y="736.7" font-size="15.8" fill="#1B4380" text-anchor="middle">106</text>
<text x="565.8" y="736.7" font-size="15.8" fill="#1B4380" text-anchor="middle">64</text>
<text x="624.8" y="736.7" font-size="15.8" fill="#1B4380" text-anchor="middle">46</text>
<text x="683.8" y="736.7" font-size="15.8" fill="#1B4380" text-anchor="middle">35</text>
<text x="742.8" y="736.7" font-size="15.8" fill="#1B4380" text-anchor="middle">20</text>
<text x="801.7" y="736.7" font-size="15.8" fill="#1B4380" text-anchor="middle">10</text>
<text x="860.7" y="736.7" font-size="15.8" fill="#1B4380" text-anchor="middle">1</text>
<text x="919.7" y="736.7" font-size="15.8" fill="#1B4380" text-anchor="middle">0</text>
<text x="44.7" y="760.2" font-size="16.2" fill="#A3212B">RIB + AI</text>
<text x="152.9" y="760.2" font-size="15.8" fill="#A3212B" text-anchor="middle">1273</text>
<text x="211.9" y="760.2" font-size="15.8" fill="#A3212B" text-anchor="middle">873</text>
<text x="270.9" y="760.2" font-size="15.8" fill="#A3212B" text-anchor="middle">482</text>
<text x="329.9" y="760.2" font-size="15.8" fill="#A3212B" text-anchor="middle">279</text>
<text x="388.8" y="760.2" font-size="15.8" fill="#A3212B" text-anchor="middle">171</text>
<text x="447.8" y="760.2" font-size="15.8" fill="#A3212B" text-anchor="middle">124</text>
<text x="506.8" y="760.2" font-size="15.8" fill="#A3212B" text-anchor="middle">98</text>
<text x="565.8" y="760.2" font-size="15.8" fill="#A3212B" text-anchor="middle">79</text>
<text x="624.8" y="760.2" font-size="15.8" fill="#A3212B" text-anchor="middle">58</text>
<text x="683.8" y="760.2" font-size="15.8" fill="#A3212B" text-anchor="middle">42</text>
<text x="742.8" y="760.2" font-size="15.8" fill="#A3212B" text-anchor="middle">27</text>
<text x="801.7" y="760.2" font-size="15.8" fill="#A3212B" text-anchor="middle">19</text>
<text x="860.7" y="760.2" font-size="15.8" fill="#A3212B" text-anchor="middle">12</text>
<text x="919.7" y="760.2" font-size="15.8" fill="#A3212B" text-anchor="middle">3</text>
<text x="978.7" y="760.2" font-size="15.8" fill="#A3212B" text-anchor="middle">1</text>
<text x="1037.7" y="760.2" font-size="15.8" fill="#A3212B" text-anchor="middle">0</text>
<text x="44.7" y="783.7" font-size="16.2" fill="#6E8427">PAL + AI</text>
<text x="152.9" y="783.7" font-size="15.8" fill="#6E8427" text-anchor="middle">5737</text>
<text x="211.9" y="783.7" font-size="15.8" fill="#6E8427" text-anchor="middle">4417</text>
<text x="270.9" y="783.7" font-size="15.8" fill="#6E8427" text-anchor="middle">3302</text>
<text x="329.9" y="783.7" font-size="15.8" fill="#6E8427" text-anchor="middle">2475</text>
<text x="388.8" y="783.7" font-size="15.8" fill="#6E8427" text-anchor="middle">1875</text>
<text x="447.8" y="783.7" font-size="15.8" fill="#6E8427" text-anchor="middle">1386</text>
<text x="506.8" y="783.7" font-size="15.8" fill="#6E8427" text-anchor="middle">1003</text>
<text x="565.8" y="783.7" font-size="15.8" fill="#6E8427" text-anchor="middle">769</text>
<text x="624.8" y="783.7" font-size="15.8" fill="#6E8427" text-anchor="middle">550</text>
<text x="683.8" y="783.7" font-size="15.8" fill="#6E8427" text-anchor="middle">394</text>
<text x="742.8" y="783.7" font-size="15.8" fill="#6E8427" text-anchor="middle">279</text>
<text x="801.7" y="783.7" font-size="15.8" fill="#6E8427" text-anchor="middle">180</text>
<text x="860.7" y="783.7" font-size="15.8" fill="#6E8427" text-anchor="middle">115</text>
<text x="919.7" y="783.7" font-size="15.8" fill="#6E8427" text-anchor="middle">56</text>
<text x="978.7" y="783.7" font-size="15.8" fill="#6E8427" text-anchor="middle">22</text>
<text x="1037.7" y="783.7" font-size="15.8" fill="#6E8427" text-anchor="middle">0</text>
</g>
</svg>
</body></html>
